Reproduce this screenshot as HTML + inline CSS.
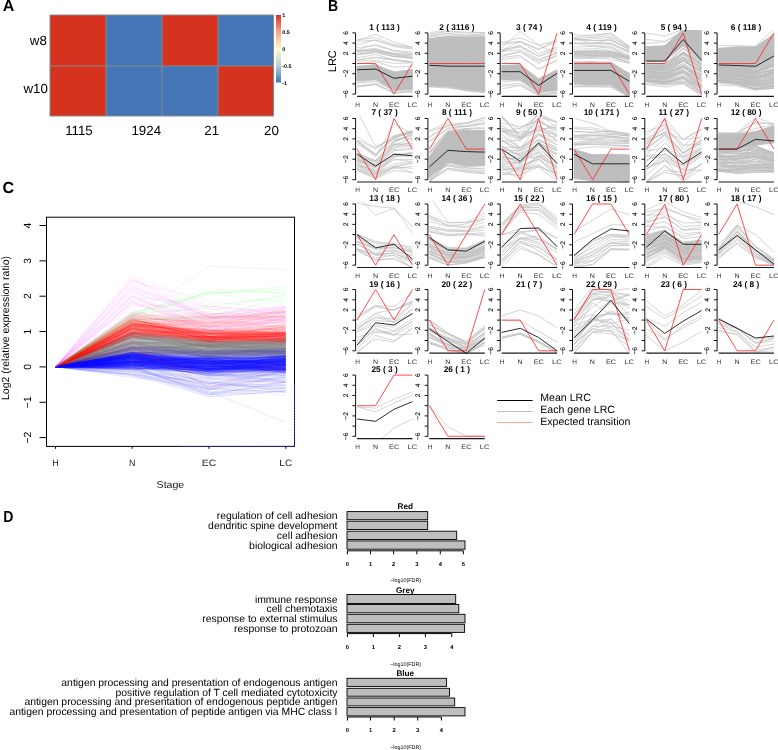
<!DOCTYPE html>
<html><head><meta charset="utf-8"><style>
html,body{margin:0;padding:0;background:#fff;}
svg{display:block;font-family:"Liberation Sans",sans-serif;text-rendering:geometricPrecision;will-change:transform;}
</style></head><body>
<svg width="778" height="750" viewBox="0 0 778 750">
<text x="2.80" y="11.10" font-size="16" font-weight="bold">A</text>
<rect x="50" y="15" width="56" height="51" fill="#d5321f"/>
<rect x="106" y="15" width="56" height="51" fill="#4475b6"/>
<rect x="162" y="15" width="56" height="51" fill="#d5321f"/>
<rect x="218" y="15" width="55.5" height="51" fill="#4475b6"/>
<rect x="50" y="66" width="56" height="50" fill="#d5321f"/>
<rect x="106" y="66" width="56" height="50" fill="#4475b6"/>
<rect x="162" y="66" width="56" height="50" fill="#4475b6"/>
<rect x="218" y="66" width="55.5" height="50" fill="#d5321f"/>
<path d="M50.00 15.00L50.00 116.00" stroke="#8a8a8a" stroke-width="1"/>
<path d="M106.00 15.00L106.00 116.00" stroke="#8a8a8a" stroke-width="1"/>
<path d="M162.00 15.00L162.00 116.00" stroke="#8a8a8a" stroke-width="1"/>
<path d="M218.00 15.00L218.00 116.00" stroke="#8a8a8a" stroke-width="1"/>
<path d="M273.50 15.00L273.50 116.00" stroke="#8a8a8a" stroke-width="1"/>
<path d="M50.00 15.00L273.50 15.00" stroke="#8a8a8a" stroke-width="1"/>
<path d="M50.00 66.00L273.50 66.00" stroke="#8a8a8a" stroke-width="1"/>
<path d="M50.00 116.00L273.50 116.00" stroke="#8a8a8a" stroke-width="1"/>
<defs><linearGradient id="cb" x1="0" y1="0" x2="0" y2="1"><stop offset="0" stop-color="#d73027"/><stop offset="0.25" stop-color="#f6a58a"/><stop offset="0.5" stop-color="#fdfbd0"/><stop offset="0.75" stop-color="#b5d3d8"/><stop offset="1" stop-color="#4575b4"/></linearGradient></defs>
<rect x="276" y="15" width="5" height="67.5" fill="url(#cb)"/>
<text x="282.30" y="16.80" font-size="5.4" font-weight="bold">1</text>
<text x="282.30" y="33.80" font-size="5.4" font-weight="bold">0.5</text>
<text x="282.30" y="50.80" font-size="5.4" font-weight="bold">0</text>
<text x="282.30" y="67.80" font-size="5.4" font-weight="bold">-0.5</text>
<text x="282.30" y="84.80" font-size="5.4" font-weight="bold">-1</text>
<text x="46.80" y="45.20" font-size="13.3" text-anchor="end">w8</text>
<text x="47.80" y="93.40" font-size="13.3" text-anchor="end">w10</text>
<text x="78.95" y="134.60" font-size="13.3" text-anchor="middle">1115</text>
<text x="146.25" y="134.60" font-size="13.3" text-anchor="middle">1924</text>
<text x="211.65" y="134.60" font-size="13.3" text-anchor="middle">21</text>
<text x="271.45" y="134.60" font-size="13.3" text-anchor="middle">20</text>
<text x="328.10" y="11.30" font-size="16" font-weight="bold" textLength="10.2" lengthAdjust="spacingAndGlyphs">B</text>
<text x="336.20" y="61.20" font-size="11" text-anchor="middle" transform="rotate(-90 336.2 61.2)">LRC</text>
<clipPath id="c1"><rect x="355.10" y="30.00" width="59.5" height="67"/></clipPath>
<g clip-path="url(#c1)" fill="none">
<path d="M357.1,66.6 375.6,64.5 394,72.2 412.5,69.6 412.5,89 394,90.5 375.6,79.3 357.1,80.8Z" fill="#bebebe" stroke="#bebebe" stroke-width="0.7"/>
<path d="M357.1,80.9 375.6,78 394,89.7 412.5,90M357.1,80.9 375.6,78.9 394,90.3 412.5,87.2M357.1,80.4 375.6,79.2 394,89.4 412.5,88M357.1,80.5 375.6,77.6 394,89.2 412.5,86M357.1,79.3 375.6,77.1 394,88.3 412.5,86.4M357.1,79.3 375.6,78.3 394,86.4 412.5,86.6M357.1,79.2 375.6,76.5 394,86.9 412.5,85.6M357.1,78.6 375.6,76.4 394,84.6 412.5,84.5M357.1,78.1 375.6,76.2 394,85.1 412.5,84.2M357.1,76.4 375.6,74.4 394,85.2 412.5,84.6M357.1,77.2 375.6,74.4 394,83.4 412.5,83.1M357.1,76 375.6,75 394,82.8 412.5,81.5M357.1,76.6 375.6,72.2 394,81.7 412.5,82.9M357.1,75.3 375.6,74.5 394,81.7 412.5,82.4M357.1,73.8 375.6,71.3 394,81.8 412.5,82.2M357.1,73.4 375.6,72.2 394,78.8 412.5,79.6M357.1,72.3 375.6,71 394,80.6 412.5,79.3M357.1,73.1 375.6,69.6 394,77.8 412.5,76.5M357.1,72.1 375.6,70 394,76.8 412.5,77.3M357.1,70.7 375.6,69.1 394,78.1 412.5,76.3M357.1,70.4 375.6,69.8 394,79 412.5,76.1M357.1,70.8 375.6,67.6 394,78.1 412.5,75.3M357.1,69.5 375.6,68.4 394,77.1 412.5,76.1M357.1,69 375.6,67.4 394,75 412.5,73.1M357.1,69.6 375.6,66.6 394,76.4 412.5,72.3M357.1,68.6 375.6,67.1 394,74.7 412.5,72.8M357.1,68.8 375.6,66.3 394,74.4 412.5,72.9M357.1,68.3 375.6,65.2 394,73.1 412.5,70.3M357.1,66 375.6,65.1 394,73.8 412.5,69.4M357.1,66.9 375.6,66.3 394,71.5 412.5,70.3M357.1,86.9 375.6,84.5 394,93.3 412.5,91.2M357.1,87.1 375.6,84.3 394,92.6 412.5,92M357.1,85.9 375.6,83.6 394,92.5 412.5,91.1M357.1,82.9 375.6,81.6 394,90.6 412.5,89.6M357.1,82.6 375.6,80 394,90 412.5,88.6M357.1,80.3 375.6,78.8 394,89.1 412.5,88M357.1,60.1 375.6,57 394,59.4 412.5,61.8M357.1,57.8 375.6,54.5 394,60 412.5,62.4M357.1,54.9 375.6,51 394,56.3 412.5,58.8M357.1,51 375.6,49.9 394,54.8 412.5,56.2M357.1,50.4 375.6,48.4 394,54.6 412.5,58.1M357.1,47.5 375.6,45.5 394,51.1 412.5,53.5M357.1,49.7 375.6,44.4 394,50.3 412.5,52.1M357.1,44.9 375.6,39.9 394,46.6 412.5,49.2M357.1,41.3 375.6,40.3 394,45.4 412.5,48.3M357.1,39.7 375.6,37.8 394,44.5 412.5,47.4M357.1,40.7 375.6,34.4 394,42.1 412.5,47.2M357.1,54.9 375.6,52.4 394,56.6 412.5,57.4M357.1,54.6 375.6,52.4 394,56.5 412.5,57.5M357.1,53 375.6,51 394,54.6 412.5,56.1M357.1,51.5 375.6,50 394,53.5 412.5,54.6M357.1,51.3 375.6,49.7 394,53.2 412.5,54.3M357.1,63.7 375.6,61.7 394,67.2 412.5,66.3M357.1,60.9 375.6,60.7 394,63.4 412.5,62.9M357.1,59.9 375.6,57.9 394,60.4 412.5,62.2" stroke="#bebebe" stroke-width="0.65"/>
<path d="M357.1,63.5 375.6,63.5 394,94.1 412.5,63.5" stroke="#f22" stroke-width="0.8"/>
<path d="M357.1,69.8 375.6,69.1 394,78.3 412.5,76.2" stroke="#222" stroke-width="0.95"/>
</g>
<path d="M355.6 32.9V94.1M352.4 94.1H355.6M352.4 83.9H355.6M352.4 73.7H355.6M352.4 63.5H355.6M352.4 53.3H355.6M352.4 43.1H355.6M352.4 32.9H355.6" stroke="#111" stroke-width="1" fill="none"/>
<text x="348.00" y="32.90" font-size="6.6" text-anchor="middle" transform="rotate(-90 348 32.9)" stroke="#000" stroke-width="0.1">6</text>
<text x="348.00" y="43.10" font-size="6.6" text-anchor="middle" transform="rotate(-90 348 43.1)" stroke="#000" stroke-width="0.1">4</text>
<text x="348.00" y="53.30" font-size="6.6" text-anchor="middle" transform="rotate(-90 348 53.3)" stroke="#000" stroke-width="0.1">2</text>
<text x="348.00" y="73.70" font-size="6.6" text-anchor="middle" transform="rotate(-90 348 73.7)" stroke="#000" stroke-width="0.1">−2</text>
<text x="348.00" y="94.10" font-size="6.6" text-anchor="middle" transform="rotate(-90 348 94.1)" stroke="#000" stroke-width="0.1">−6</text>
<path d="M357.10 96.40L412.45 96.40" stroke="#1a1a1a" stroke-width="1.15"/>
<text x="357.60" y="106.90" font-size="6.5" text-anchor="middle" fill="#333" textLength="4.7" lengthAdjust="spacingAndGlyphs">H</text>
<text x="375.50" y="106.90" font-size="6.5" text-anchor="middle" fill="#333" textLength="5.1" lengthAdjust="spacingAndGlyphs">N</text>
<text x="394.10" y="106.90" font-size="6.5" text-anchor="middle" fill="#333" textLength="10.1" lengthAdjust="spacingAndGlyphs">EC</text>
<text x="412.30" y="106.90" font-size="6.5" text-anchor="middle" fill="#333" textLength="9.6" lengthAdjust="spacingAndGlyphs">LC</text>
<text x="384.60" y="29.90" font-size="8.3" text-anchor="middle" font-weight="bold">1 ( 113 )</text>
<clipPath id="c2"><rect x="427.40" y="30.00" width="59.5" height="67"/></clipPath>
<g clip-path="url(#c2)" fill="none">
<path d="M429.4,38.5 447.9,36.5 466.3,37.5 484.8,36.5 484.8,91.5 466.3,89.5 447.9,85.9 429.4,85.4Z" fill="#bebebe" stroke="#bebebe" stroke-width="0.7"/>
<path d="M429.4,85.9 447.9,86.5 466.3,88.6 484.8,88.9M429.4,85.9 447.9,83.5 466.3,86.4 484.8,89.8M429.4,85.9 447.9,84.5 466.3,86.9 484.8,91.6M429.4,83.2 447.9,82.5 466.3,89.1 484.8,87.9M429.4,81.1 447.9,82.2 466.3,85.9 484.8,85.8M429.4,81.3 447.9,81.1 466.3,82.3 484.8,88.6M429.4,79.4 447.9,80.5 466.3,82.5 484.8,82.4M429.4,79.5 447.9,79.7 466.3,83.5 484.8,86.5M429.4,79.5 447.9,76.8 466.3,81.6 484.8,82.4M429.4,77 447.9,78.2 466.3,81.6 484.8,82.4M429.4,79.1 447.9,76.6 466.3,82.3 484.8,83.2M429.4,78.3 447.9,77.5 466.3,82.6 484.8,77.9M429.4,72.3 447.9,75.5 466.3,77.3 484.8,80.6M429.4,72.2 447.9,72.6 466.3,76.1 484.8,76.1M429.4,73 447.9,74.4 466.3,79.2 484.8,81.6M429.4,73.1 447.9,71.9 466.3,76.3 484.8,77.5M429.4,74.3 447.9,71.2 466.3,78 484.8,76.6M429.4,70.8 447.9,71 466.3,74.8 484.8,75.9M429.4,73.6 447.9,74.4 466.3,74.2 484.8,75.2M429.4,71.7 447.9,72.7 466.3,72.6 484.8,72.3M429.4,72.3 447.9,70.2 466.3,75.1 484.8,73.3M429.4,69.8 447.9,70.1 466.3,71.7 484.8,72.6M429.4,68.8 447.9,68.3 466.3,70.5 484.8,71.2M429.4,65.3 447.9,67.5 466.3,72.5 484.8,70.3M429.4,67.6 447.9,65.8 466.3,66.8 484.8,70.5M429.4,66.1 447.9,64.4 466.3,66.7 484.8,66.1M429.4,64.5 447.9,65.8 466.3,68.1 484.8,65.8M429.4,62.2 447.9,64 466.3,66.5 484.8,64.7M429.4,60.8 447.9,62.9 466.3,62.5 484.8,67.2M429.4,63.9 447.9,60.9 466.3,62 484.8,63.9M429.4,61.2 447.9,62.1 466.3,60.4 484.8,63.9M429.4,60.2 447.9,56.4 466.3,63 484.8,64.7M429.4,59.9 447.9,58.4 466.3,60.1 484.8,62.9M429.4,60 447.9,60.7 466.3,60.5 484.8,59.5M429.4,54.2 447.9,52.2 466.3,59.4 484.8,59.2M429.4,57.6 447.9,58.3 466.3,58.4 484.8,58.5M429.4,58.4 447.9,56.7 466.3,58.5 484.8,59.1M429.4,57.4 447.9,55.5 466.3,57.5 484.8,58.4M429.4,55.7 447.9,55.2 466.3,56.2 484.8,57.3M429.4,54.1 447.9,54.1 466.3,53.4 484.8,56.6M429.4,54.1 447.9,55.3 466.3,55.3 484.8,54.3M429.4,51 447.9,52.2 466.3,53.6 484.8,55.3M429.4,51.5 447.9,48.8 466.3,51.7 484.8,50.9M429.4,52.1 447.9,48.5 466.3,49.2 484.8,51.6M429.4,49.5 447.9,46.6 466.3,52.4 484.8,48.4M429.4,48.7 447.9,48.7 466.3,47.3 484.8,50.2M429.4,48 447.9,47.3 466.3,50.8 484.8,49.9M429.4,47.9 447.9,47.1 466.3,47.5 484.8,49.8M429.4,46.1 447.9,47.6 466.3,48.3 484.8,45M429.4,46.7 447.9,44.7 466.3,48.8 484.8,43.3M429.4,44.2 447.9,43.2 466.3,47 484.8,43.8M429.4,44.3 447.9,44 466.3,45.9 484.8,45.8M429.4,44 447.9,42.1 466.3,46.4 484.8,45.6M429.4,41.9 447.9,42.7 466.3,44.1 484.8,43.4M429.4,43.3 447.9,40.7 466.3,42.8 484.8,39.9M429.4,40.8 447.9,37.7 466.3,40 484.8,39.5M429.4,42.3 447.9,39.9 466.3,38.3 484.8,39.4M429.4,39.4 447.9,38.5 466.3,39 484.8,39.1M429.4,38.7 447.9,39.5 466.3,37.7 484.8,37.4M429.4,39.2 447.9,36.5 466.3,37 484.8,37.4M429.4,38.8 447.9,37 466.3,37.4 484.8,37M429.4,37 447.9,35.6 466.3,36.5 484.8,35M429.4,36 447.9,33.6 466.3,35 484.8,33.7M429.4,35 447.9,33.5 466.3,35.9 484.8,34.3M429.4,33.9 447.9,31.6 466.3,33.2 484.8,32.5M429.4,32.3 447.9,31 466.3,32.2 484.8,32.7M429.4,87 447.9,88 466.3,90.6 484.8,92.4M429.4,86.4 447.9,87.2 466.3,90.9 484.8,92.6M429.4,85.9 447.9,86.8 466.3,89.6 484.8,90.9M429.4,85.2 447.9,86.4 466.3,89.3 484.8,91.3M429.4,85.2 447.9,85.2 466.3,88.6 484.8,90.5M429.4,84.4 447.9,85.5 466.3,88.7 484.8,89.9" stroke="#bebebe" stroke-width="0.65"/>
<path d="M429.4,63.5 447.9,63.5 466.3,63.5 484.8,63.5" stroke="#f22" stroke-width="0.8"/>
<path d="M429.4,65.3 447.9,66.2 466.3,66.2 484.8,66.2" stroke="#222" stroke-width="0.95"/>
</g>
<path d="M427.9 32.9V94.1M424.7 94.1H427.9M424.7 83.9H427.9M424.7 73.7H427.9M424.7 63.5H427.9M424.7 53.3H427.9M424.7 43.1H427.9M424.7 32.9H427.9" stroke="#111" stroke-width="1" fill="none"/>
<text x="420.30" y="32.90" font-size="6.6" text-anchor="middle" transform="rotate(-90 420.3 32.9)" stroke="#000" stroke-width="0.1">6</text>
<text x="420.30" y="43.10" font-size="6.6" text-anchor="middle" transform="rotate(-90 420.3 43.1)" stroke="#000" stroke-width="0.1">4</text>
<text x="420.30" y="53.30" font-size="6.6" text-anchor="middle" transform="rotate(-90 420.3 53.3)" stroke="#000" stroke-width="0.1">2</text>
<text x="420.30" y="73.70" font-size="6.6" text-anchor="middle" transform="rotate(-90 420.3 73.7)" stroke="#000" stroke-width="0.1">−2</text>
<text x="420.30" y="94.10" font-size="6.6" text-anchor="middle" transform="rotate(-90 420.3 94.1)" stroke="#000" stroke-width="0.1">−6</text>
<path d="M429.40 96.40L484.75 96.40" stroke="#1a1a1a" stroke-width="1.15"/>
<text x="429.90" y="106.90" font-size="6.5" text-anchor="middle" fill="#333" textLength="4.7" lengthAdjust="spacingAndGlyphs">H</text>
<text x="447.80" y="106.90" font-size="6.5" text-anchor="middle" fill="#333" textLength="5.1" lengthAdjust="spacingAndGlyphs">N</text>
<text x="466.40" y="106.90" font-size="6.5" text-anchor="middle" fill="#333" textLength="10.1" lengthAdjust="spacingAndGlyphs">EC</text>
<text x="484.60" y="106.90" font-size="6.5" text-anchor="middle" fill="#333" textLength="9.6" lengthAdjust="spacingAndGlyphs">LC</text>
<text x="456.90" y="29.90" font-size="8.3" text-anchor="middle" font-weight="bold">2 ( 3116 )</text>
<clipPath id="c3"><rect x="499.70" y="30.00" width="59.5" height="67"/></clipPath>
<g clip-path="url(#c3)" fill="none">
<path d="M501.7,65.5 520.2,64.5 538.6,78.8 557.1,70.1 557.1,90.5 538.6,92.6 520.2,79.8 501.7,79.8Z" fill="#bebebe" stroke="#bebebe" stroke-width="0.7"/>
<path d="M501.7,79.8 520.2,80.3 538.6,91.3 557.1,91M501.7,79.8 520.2,79 538.6,92.9 557.1,88.2M501.7,77.5 520.2,76.2 538.6,90.7 557.1,88.3M501.7,77.8 520.2,76.3 538.6,88.8 557.1,87.5M501.7,75.9 520.2,73.3 538.6,88.4 557.1,83.4M501.7,76.2 520.2,75.5 538.6,88.4 557.1,85.6M501.7,73.8 520.2,73.5 538.6,84.3 557.1,82.3M501.7,70.9 520.2,71.9 538.6,84.6 557.1,81.3M501.7,71.5 520.2,71.1 538.6,84 557.1,79.3M501.7,69.8 520.2,70.4 538.6,83.7 557.1,75.9M501.7,67.9 520.2,70.7 538.6,81.2 557.1,76.6M501.7,67.9 520.2,66.1 538.6,80 557.1,74M501.7,67.4 520.2,66.1 538.6,80.7 557.1,73.4M501.7,66.3 520.2,65.4 538.6,79.8 557.1,70.3M501.7,65.4 520.2,66 538.6,79.3 557.1,69.6M501.7,88.9 520.2,85.6 538.6,95.4 557.1,95.6M501.7,86.3 520.2,84.9 538.6,94.8 557.1,93.9M501.7,85 520.2,83.1 538.6,94.5 557.1,93.1M501.7,82.1 520.2,80.6 538.6,93.6 557.1,92.1M501.7,59.9 520.2,57 538.6,68.5 557.1,60.7M501.7,57.5 520.2,55.4 538.6,69.6 557.1,60.1M501.7,56.4 520.2,51.7 538.6,63.4 557.1,54.8M501.7,55.3 520.2,51.6 538.6,61.6 557.1,56.7M501.7,51.4 520.2,49.8 538.6,60.3 557.1,53.2M501.7,51.3 520.2,46.8 538.6,59.4 557.1,52.6M501.7,50.6 520.2,45.3 538.6,56.6 557.1,49.8M501.7,49.7 520.2,46.2 538.6,56 557.1,47.6M501.7,50.2 520.2,41.3 538.6,53.5 557.1,47.1M501.7,42.9 520.2,41.5 538.6,48.9 557.1,41.8M501.7,44.6 520.2,41.8 538.6,49.8 557.1,39.1M501.7,42.3 520.2,37.9 538.6,45.1 557.1,40.9M501.7,48.2 520.2,31.4 538.6,45.1 557.1,53.3" stroke="#bebebe" stroke-width="0.65"/>
<path d="M501.7,63.5 520.2,63.5 538.6,94.1 557.1,32.9" stroke="#f22" stroke-width="0.8"/>
<path d="M501.7,71.7 520.2,71.7 538.6,85.4 557.1,73.2" stroke="#222" stroke-width="0.95"/>
</g>
<path d="M500.2 32.9V94.1M497.0 94.1H500.2M497.0 83.9H500.2M497.0 73.7H500.2M497.0 63.5H500.2M497.0 53.3H500.2M497.0 43.1H500.2M497.0 32.9H500.2" stroke="#111" stroke-width="1" fill="none"/>
<text x="492.60" y="32.90" font-size="6.6" text-anchor="middle" transform="rotate(-90 492.6 32.9)" stroke="#000" stroke-width="0.1">6</text>
<text x="492.60" y="43.10" font-size="6.6" text-anchor="middle" transform="rotate(-90 492.6 43.1)" stroke="#000" stroke-width="0.1">4</text>
<text x="492.60" y="53.30" font-size="6.6" text-anchor="middle" transform="rotate(-90 492.6 53.3)" stroke="#000" stroke-width="0.1">2</text>
<text x="492.60" y="73.70" font-size="6.6" text-anchor="middle" transform="rotate(-90 492.6 73.7)" stroke="#000" stroke-width="0.1">−2</text>
<text x="492.60" y="94.10" font-size="6.6" text-anchor="middle" transform="rotate(-90 492.6 94.1)" stroke="#000" stroke-width="0.1">−6</text>
<path d="M501.70 96.40L557.05 96.40" stroke="#1a1a1a" stroke-width="1.15"/>
<text x="502.20" y="106.90" font-size="6.5" text-anchor="middle" fill="#333" textLength="4.7" lengthAdjust="spacingAndGlyphs">H</text>
<text x="520.10" y="106.90" font-size="6.5" text-anchor="middle" fill="#333" textLength="5.1" lengthAdjust="spacingAndGlyphs">N</text>
<text x="538.70" y="106.90" font-size="6.5" text-anchor="middle" fill="#333" textLength="10.1" lengthAdjust="spacingAndGlyphs">EC</text>
<text x="556.90" y="106.90" font-size="6.5" text-anchor="middle" fill="#333" textLength="9.6" lengthAdjust="spacingAndGlyphs">LC</text>
<text x="529.20" y="29.90" font-size="8.3" text-anchor="middle" font-weight="bold">3 ( 74 )</text>
<clipPath id="c4"><rect x="572.00" y="30.00" width="59.5" height="67"/></clipPath>
<g clip-path="url(#c4)" fill="none">
<path d="M574,62 592.5,62 610.9,62 629.4,73.7 629.4,97.7 610.9,84.4 592.5,84.4 574,83.4Z" fill="#bebebe" stroke="#bebebe" stroke-width="0.7"/>
<path d="M574,83.9 592.5,84.8 610.9,83.8 629.4,97.3M574,82.7 592.5,83.1 610.9,82.3 629.4,97.5M574,81.7 592.5,82.1 610.9,83.4 629.4,95.9M574,79.7 592.5,80.3 610.9,80.5 629.4,93.4M574,78.3 592.5,79.7 610.9,79.4 629.4,94M574,77.7 592.5,78.7 610.9,77.2 629.4,91.8M574,78.2 592.5,77.7 610.9,75.9 629.4,88.8M574,75.5 592.5,74.3 610.9,76.3 629.4,87.1M574,73.8 592.5,72.7 610.9,75.1 629.4,87.2M574,74.1 592.5,74.1 610.9,73.2 629.4,86.4M574,69.6 592.5,72.5 610.9,71.8 629.4,84.3M574,70 592.5,72.8 610.9,69.6 629.4,83.7M574,70.5 592.5,70.5 610.9,69.2 629.4,82.9M574,68.4 592.5,68.5 610.9,71.3 629.4,81.9M574,67.7 592.5,67 610.9,67.3 629.4,80.2M574,66.8 592.5,67.5 610.9,67.5 629.4,78.8M574,64.6 592.5,64.9 610.9,66.5 629.4,76.2M574,63.1 592.5,64.5 610.9,63.2 629.4,75.2M574,64.2 592.5,62.6 610.9,64.1 629.4,74.5M574,62.4 592.5,61.5 610.9,64.1 629.4,73.2M574,86.9 592.5,86.7 610.9,87 629.4,97.1M574,86.5 592.5,86.7 610.9,86.7 629.4,96.7M574,84.9 592.5,85.7 610.9,85.8 629.4,94.6M574,84.1 592.5,85 610.9,85.1 629.4,94.2M574,59.2 592.5,57.4 610.9,59.4 629.4,63.4M574,57.6 592.5,58.5 610.9,57.3 629.4,62.6M574,54.1 592.5,56 610.9,55.5 629.4,59.4M574,54.7 592.5,54.3 610.9,52 629.4,58.3M574,51.9 592.5,55.9 610.9,53.4 629.4,58.1M574,53.3 592.5,52.8 610.9,55.2 629.4,57.2M574,52 592.5,50.8 610.9,51.4 629.4,56.8M574,51 592.5,50.9 610.9,48.6 629.4,56.9M574,49.3 592.5,48.8 610.9,46.6 629.4,58.1M574,47 592.5,46.4 610.9,47 629.4,54.9M574,43.1 592.5,46 610.9,44.4 629.4,53M574,43.9 592.5,43.7 610.9,43.3 629.4,51.3M574,43.1 592.5,42.5 610.9,43 629.4,51.8M574,37.7 592.5,44.3 610.9,38.5 629.4,50.7M574,38.4 592.5,40.6 610.9,39.9 629.4,48.3M574,39.6 592.5,40.7 610.9,40.4 629.4,49.2M574,40.1 592.5,39 610.9,37.4 629.4,47.1M574,38.2 592.5,37.5 610.9,35.4 629.4,48M574,37.3 592.5,34.6 610.9,33.5 629.4,47.3M574,34.6 592.5,36.4 610.9,33 629.4,46.2M574,57.1 592.5,56.8 610.9,56.2 629.4,62.9M574,56.3 592.5,56.9 610.9,56.2 629.4,62.5M574,55.6 592.5,55.2 610.9,55.6 629.4,62.6M574,54.7 592.5,55.4 610.9,54.6 629.4,60.5M574,53.2 592.5,53.7 610.9,54.2 629.4,59.3M574,53.6 592.5,54.3 610.9,53.6 629.4,59.2M574,52.8 592.5,52.7 610.9,52.3 629.4,57.3M574,51.9 592.5,52.4 610.9,52.5 629.4,57.9M574,51.3 592.5,51.6 610.9,50.9 629.4,56.2M574,51.6 592.5,51.2 610.9,51.2 629.4,56.1" stroke="#bebebe" stroke-width="0.65"/>
<path d="M574,63.5 592.5,63.5 610.9,63.5 629.4,94.1" stroke="#f22" stroke-width="0.8"/>
<path d="M574,70.4 592.5,70.4 610.9,70.4 629.4,81.3" stroke="#222" stroke-width="0.95"/>
</g>
<path d="M572.5 32.9V94.1M569.3 94.1H572.5M569.3 83.9H572.5M569.3 73.7H572.5M569.3 63.5H572.5M569.3 53.3H572.5M569.3 43.1H572.5M569.3 32.9H572.5" stroke="#111" stroke-width="1" fill="none"/>
<text x="564.90" y="32.90" font-size="6.6" text-anchor="middle" transform="rotate(-90 564.9 32.9)" stroke="#000" stroke-width="0.1">6</text>
<text x="564.90" y="43.10" font-size="6.6" text-anchor="middle" transform="rotate(-90 564.9 43.1)" stroke="#000" stroke-width="0.1">4</text>
<text x="564.90" y="53.30" font-size="6.6" text-anchor="middle" transform="rotate(-90 564.9 53.3)" stroke="#000" stroke-width="0.1">2</text>
<text x="564.90" y="73.70" font-size="6.6" text-anchor="middle" transform="rotate(-90 564.9 73.7)" stroke="#000" stroke-width="0.1">−2</text>
<text x="564.90" y="94.10" font-size="6.6" text-anchor="middle" transform="rotate(-90 564.9 94.1)" stroke="#000" stroke-width="0.1">−6</text>
<path d="M574.00 96.40L629.35 96.40" stroke="#1a1a1a" stroke-width="1.15"/>
<text x="574.50" y="106.90" font-size="6.5" text-anchor="middle" fill="#333" textLength="4.7" lengthAdjust="spacingAndGlyphs">H</text>
<text x="592.40" y="106.90" font-size="6.5" text-anchor="middle" fill="#333" textLength="5.1" lengthAdjust="spacingAndGlyphs">N</text>
<text x="611.00" y="106.90" font-size="6.5" text-anchor="middle" fill="#333" textLength="10.1" lengthAdjust="spacingAndGlyphs">EC</text>
<text x="629.20" y="106.90" font-size="6.5" text-anchor="middle" fill="#333" textLength="9.6" lengthAdjust="spacingAndGlyphs">LC</text>
<text x="601.50" y="29.90" font-size="8.3" text-anchor="middle" font-weight="bold">4 ( 119 )</text>
<clipPath id="c5"><rect x="644.30" y="30.00" width="59.5" height="67"/></clipPath>
<g clip-path="url(#c5)" fill="none">
<path d="M646.3,46.7 664.8,45.7 683.2,28.8 701.6,30.4 701.6,59.4 683.2,45.7 664.8,61 646.3,61.7Z" fill="#bebebe" stroke="#bebebe" stroke-width="0.7"/>
<path d="M646.3,61.8 664.8,61.5 683.2,46.2 701.6,60.4M646.3,60.4 664.8,59.7 683.2,42.8 701.6,57.4M646.3,60.7 664.8,59.1 683.2,43.4 701.6,57.9M646.3,57.5 664.8,57.3 683.2,41 701.6,52.4M646.3,57.6 664.8,58 683.2,39.9 701.6,52.3M646.3,55 664.8,55.2 683.2,40.4 701.6,47.4M646.3,55.1 664.8,53.6 683.2,38.2 701.6,46.3M646.3,52.8 664.8,53.1 683.2,38.5 701.6,46.2M646.3,53.3 664.8,52.3 683.2,35.9 701.6,42M646.3,52 664.8,51.2 683.2,34.4 701.6,43.2M646.3,51.5 664.8,50.5 683.2,33.2 701.6,38.6M646.3,49.7 664.8,48.5 683.2,32.6 701.6,36.3M646.3,49.6 664.8,46.1 683.2,30.7 701.6,35.6M646.3,49.3 664.8,47.2 683.2,30.6 701.6,33.4M646.3,46.7 664.8,46.2 683.2,29.8 701.6,30.4M646.3,81.8 664.8,83.9 683.2,81.9 701.6,92.9M646.3,81.3 664.8,83 683.2,78.8 701.6,93.1M646.3,80.3 664.8,82.8 683.2,77.5 701.6,91.9M646.3,80.3 664.8,82.1 683.2,78 701.6,93.1M646.3,81.3 664.8,83.4 683.2,79.8 701.6,92.7M646.3,80.7 664.8,82.6 683.2,81.6 701.6,88.2M646.3,81.4 664.8,83 683.2,78.1 701.6,88.7M646.3,79.1 664.8,81.6 683.2,77.3 701.6,89.7M646.3,80.5 664.8,81.6 683.2,78.1 701.6,87.5M646.3,78.9 664.8,81.1 683.2,78.2 701.6,92M646.3,79.2 664.8,82.5 683.2,77.3 701.6,86.8M646.3,81.2 664.8,79 683.2,76.1 701.6,88.2M646.3,77.8 664.8,79.8 683.2,75.4 701.6,86.3M646.3,78.3 664.8,79.1 683.2,73 701.6,88.2M646.3,80.1 664.8,80.8 683.2,76.3 701.6,86.6M646.3,77.7 664.8,79.8 683.2,71.4 701.6,85.6M646.3,78.1 664.8,79.2 683.2,72.9 701.6,87.1M646.3,77.6 664.8,78.2 683.2,73.4 701.6,85.4M646.3,77.1 664.8,77.7 683.2,69.5 701.6,84.6M646.3,77.8 664.8,78.2 683.2,72.1 701.6,85.1M646.3,74.4 664.8,78.3 683.2,69.7 701.6,84.8M646.3,75.9 664.8,78.5 683.2,71.5 701.6,84M646.3,76.6 664.8,77.5 683.2,71.4 701.6,85.5M646.3,76.4 664.8,76 683.2,70.2 701.6,79M646.3,75.6 664.8,78.3 683.2,71.4 701.6,81.4M646.3,74.1 664.8,77.7 683.2,67.6 701.6,79.8M646.3,76.4 664.8,76.2 683.2,70.2 701.6,81.2M646.3,75.5 664.8,75.7 683.2,66.5 701.6,82.3M646.3,71.6 664.8,75.7 683.2,67 701.6,78.5M646.3,74.6 664.8,76.1 683.2,66.2 701.6,78.2M646.3,73 664.8,74.7 683.2,67 701.6,80.5M646.3,74.6 664.8,76 683.2,66.5 701.6,80.8M646.3,73.6 664.8,76.5 683.2,66 701.6,76.3M646.3,74.6 664.8,74 683.2,63.4 701.6,75.3M646.3,72.1 664.8,73.4 683.2,66.2 701.6,78.1M646.3,71.7 664.8,72.8 683.2,65.2 701.6,74.9M646.3,72.7 664.8,75 683.2,65 701.6,74.9M646.3,73 664.8,73.6 683.2,67.8 701.6,75.5M646.3,70.7 664.8,72.8 683.2,63.6 701.6,78.1M646.3,71.3 664.8,72.9 683.2,61.1 701.6,73.9M646.3,71.1 664.8,73.7 683.2,59.4 701.6,76.2M646.3,71.7 664.8,73 683.2,60.5 701.6,71.5M646.3,71.7 664.8,73.1 683.2,61.1 701.6,71.1M646.3,69.7 664.8,71.3 683.2,60.6 701.6,72.3M646.3,71.8 664.8,70.7 683.2,59.5 701.6,70.6M646.3,70.6 664.8,71.3 683.2,60.6 701.6,70M646.3,69.3 664.8,70.2 683.2,58 701.6,73M646.3,70 664.8,69.5 683.2,59.7 701.6,71.1M646.3,70.5 664.8,68.4 683.2,56.6 701.6,69M646.3,69.3 664.8,71 683.2,56.8 701.6,69.3M646.3,67.3 664.8,69.2 683.2,58.4 701.6,67M646.3,68.9 664.8,67.9 683.2,57.6 701.6,68M646.3,68 664.8,68.2 683.2,57 701.6,67.8M646.3,68.6 664.8,69.3 683.2,54.4 701.6,68M646.3,66.4 664.8,69.3 683.2,54.4 701.6,65.8M646.3,67.9 664.8,69.3 683.2,54.2 701.6,67.5M646.3,66.9 664.8,68 683.2,53.2 701.6,69.4M646.3,66.6 664.8,67.5 683.2,53.1 701.6,64M646.3,67.6 664.8,67.9 683.2,51.9 701.6,65.6M646.3,67.1 664.8,66.3 683.2,52.8 701.6,64.7M646.3,64.8 664.8,67.3 683.2,52 701.6,65M646.3,65.7 664.8,66 683.2,51.9 701.6,65.2M646.3,66.5 664.8,66.1 683.2,52.4 701.6,60.4M646.3,64.8 664.8,66.8 683.2,52.4 701.6,62.3M646.3,65 664.8,65.4 683.2,52.2 701.6,63.1M646.3,65.9 664.8,66.1 683.2,48.6 701.6,60.4M646.3,66.8 664.8,64 683.2,53.3 701.6,62.1M646.3,66.5 664.8,64.8 683.2,48.3 701.6,60.4M646.3,64 664.8,64 683.2,48.5 701.6,60.4M646.3,64 664.8,64.6 683.2,48.6 701.6,62.8M646.3,84.4 664.8,87.1 683.2,83.9 701.6,95.6M646.3,83.8 664.8,85.1 683.2,83.2 701.6,95.1M646.3,82.2 664.8,84.6 683.2,82.5 701.6,94M646.3,43.6 664.8,41.7 683.2,31.4 701.6,35M646.3,39.4 664.8,41.5 683.2,31.1 701.6,35.8M646.3,33 664.8,36.1 683.2,29.4 701.6,33.4" stroke="#bebebe" stroke-width="0.65"/>
<path d="M646.3,63.5 664.8,63.5 683.2,32.9 701.6,94.1" stroke="#f22" stroke-width="0.8"/>
<path d="M646.3,61 664.8,61 683.2,39.5 701.6,60.4" stroke="#222" stroke-width="0.95"/>
</g>
<path d="M644.8 32.9V94.1M641.6 94.1H644.8M641.6 83.9H644.8M641.6 73.7H644.8M641.6 63.5H644.8M641.6 53.3H644.8M641.6 43.1H644.8M641.6 32.9H644.8" stroke="#111" stroke-width="1" fill="none"/>
<text x="637.20" y="32.90" font-size="6.6" text-anchor="middle" transform="rotate(-90 637.2 32.9)" stroke="#000" stroke-width="0.1">6</text>
<text x="637.20" y="43.10" font-size="6.6" text-anchor="middle" transform="rotate(-90 637.2 43.1)" stroke="#000" stroke-width="0.1">4</text>
<text x="637.20" y="53.30" font-size="6.6" text-anchor="middle" transform="rotate(-90 637.2 53.3)" stroke="#000" stroke-width="0.1">2</text>
<text x="637.20" y="73.70" font-size="6.6" text-anchor="middle" transform="rotate(-90 637.2 73.7)" stroke="#000" stroke-width="0.1">−2</text>
<text x="637.20" y="94.10" font-size="6.6" text-anchor="middle" transform="rotate(-90 637.2 94.1)" stroke="#000" stroke-width="0.1">−6</text>
<path d="M646.30 96.40L701.65 96.40" stroke="#1a1a1a" stroke-width="1.15"/>
<text x="646.80" y="106.90" font-size="6.5" text-anchor="middle" fill="#333" textLength="4.7" lengthAdjust="spacingAndGlyphs">H</text>
<text x="664.70" y="106.90" font-size="6.5" text-anchor="middle" fill="#333" textLength="5.1" lengthAdjust="spacingAndGlyphs">N</text>
<text x="683.30" y="106.90" font-size="6.5" text-anchor="middle" fill="#333" textLength="10.1" lengthAdjust="spacingAndGlyphs">EC</text>
<text x="701.50" y="106.90" font-size="6.5" text-anchor="middle" fill="#333" textLength="9.6" lengthAdjust="spacingAndGlyphs">LC</text>
<text x="673.80" y="29.90" font-size="8.3" text-anchor="middle" font-weight="bold">5 ( 94 )</text>
<clipPath id="c6"><rect x="716.60" y="30.00" width="59.5" height="67"/></clipPath>
<g clip-path="url(#c6)" fill="none">
<path d="M718.6,48.2 737.1,46.7 755.5,46.7 774,33.9 774,56.4 755.5,64 737.1,63 718.6,62.5Z" fill="#bebebe" stroke="#bebebe" stroke-width="0.7"/>
<path d="M718.6,61.4 737.1,62.3 755.5,63.8 774,56.1M718.6,60.8 737.1,60.5 755.5,62.8 774,54.7M718.6,60.4 737.1,60.2 755.5,61.7 774,51.9M718.6,58.6 737.1,58.7 755.5,59.5 774,51.9M718.6,59.5 737.1,58.3 755.5,60 774,49M718.6,57.1 737.1,58.2 755.5,57.4 774,48.3M718.6,56 737.1,55.2 755.5,56.2 774,45.7M718.6,55.6 737.1,56.9 755.5,56.7 774,43.7M718.6,54.7 737.1,52.8 755.5,53.1 774,43.9M718.6,53.3 737.1,52.4 755.5,52.3 774,42.7M718.6,52.7 737.1,51.6 755.5,51.5 774,39.8M718.6,52.5 737.1,50.6 755.5,49.7 774,37.8M718.6,50.3 737.1,50.6 755.5,47 774,37.7M718.6,49.8 737.1,47.5 755.5,48.3 774,34.7M718.6,49.5 737.1,48 755.5,47.9 774,34.3M718.6,81.9 737.1,83.4 755.5,89 774,85.4M718.6,81.9 737.1,83.9 755.5,89 774,87.5M718.6,81.2 737.1,83.4 755.5,85.9 774,86.1M718.6,80.5 737.1,82.8 755.5,88.4 774,86.2M718.6,80.5 737.1,81.5 755.5,86.5 774,85.2M718.6,79.8 737.1,82 755.5,89 774,85.5M718.6,81 737.1,83.9 755.5,89 774,86M718.6,80.3 737.1,83.9 755.5,88 774,86.5M718.6,80.2 737.1,81.5 755.5,85.5 774,86.5M718.6,79.4 737.1,82.4 755.5,85.4 774,83.9M718.6,81.3 737.1,81.5 755.5,83.8 774,85.1M718.6,78.7 737.1,82 755.5,85.5 774,85.1M718.6,80.5 737.1,81.7 755.5,87.2 774,85.3M718.6,79.9 737.1,82.4 755.5,84.1 774,82.4M718.6,79.7 737.1,80.7 755.5,84.1 774,82.3M718.6,80.5 737.1,79.2 755.5,84.7 774,82.1M718.6,81.1 737.1,82.3 755.5,84.2 774,82.9M718.6,78.2 737.1,79.7 755.5,83.7 774,83.1M718.6,79 737.1,79 755.5,82.7 774,83.5M718.6,77.1 737.1,79.8 755.5,81.9 774,82.3M718.6,78.2 737.1,78.4 755.5,86.5 774,81M718.6,77 737.1,81 755.5,85.8 774,81.5M718.6,76.2 737.1,76.4 755.5,84.5 774,80.2M718.6,79.2 737.1,78.8 755.5,82.9 774,78.9M718.6,77.3 737.1,78.4 755.5,82.9 774,79.7M718.6,77.3 737.1,78.7 755.5,81 774,79.8M718.6,77.8 737.1,79.5 755.5,82.3 774,79.6M718.6,76.7 737.1,77.6 755.5,82.9 774,76.9M718.6,77 737.1,78.3 755.5,80.1 774,80.8M718.6,76.4 737.1,78.3 755.5,80.5 774,78.1M718.6,75.9 737.1,75.8 755.5,80.2 774,77.2M718.6,75.3 737.1,78.3 755.5,82 774,79.1M718.6,74.3 737.1,75.6 755.5,81.8 774,76.1M718.6,75.4 737.1,76.4 755.5,78.8 774,73.9M718.6,75.3 737.1,75.5 755.5,78.2 774,76.1M718.6,75 737.1,76.6 755.5,79.4 774,74M718.6,72.9 737.1,76.1 755.5,80.3 774,71.8M718.6,74 737.1,75.6 755.5,77.9 774,74.6M718.6,76 737.1,75.2 755.5,79.8 774,74.8M718.6,75.2 737.1,74.4 755.5,80 774,72.3M718.6,74.3 737.1,74.7 755.5,78.9 774,73M718.6,73.4 737.1,74.9 755.5,77.8 774,75.6M718.6,75.2 737.1,76.6 755.5,77.2 774,78.3M718.6,73.4 737.1,74.6 755.5,76.3 774,71.8M718.6,74.3 737.1,76.4 755.5,79.6 774,73M718.6,73 737.1,73.3 755.5,78.4 774,71.5M718.6,73.5 737.1,74 755.5,77.3 774,73.8M718.6,72 737.1,74.8 755.5,76.8 774,71.9M718.6,71.2 737.1,75.4 755.5,75.7 774,72.4M718.6,71.6 737.1,74 755.5,77.2 774,72.1M718.6,70.8 737.1,73.8 755.5,75 774,69.1M718.6,72.2 737.1,73.3 755.5,77.1 774,73.4M718.6,72.2 737.1,72.5 755.5,73.9 774,69M718.6,70.3 737.1,72 755.5,76.6 774,70.8M718.6,70.9 737.1,72.3 755.5,75.6 774,72M718.6,69.4 737.1,71.4 755.5,74.9 774,68.5M718.6,69.9 737.1,71.3 755.5,73.4 774,67.1M718.6,70 737.1,72.5 755.5,73.8 774,70.4M718.6,71.2 737.1,72.1 755.5,74 774,70.9M718.6,71 737.1,69.2 755.5,73.8 774,70.1M718.6,70 737.1,70.4 755.5,73.2 774,69.6M718.6,68.5 737.1,72.7 755.5,74.3 774,69.8M718.6,69.9 737.1,71.4 755.5,72.8 774,65.6M718.6,68.7 737.1,69.7 755.5,72.4 774,66M718.6,68.8 737.1,71.3 755.5,71.6 774,65M718.6,68 737.1,69.6 755.5,71.6 774,65.2M718.6,67.3 737.1,69.5 755.5,71.7 774,65.2M718.6,68.5 737.1,69.5 755.5,71 774,64.2M718.6,67.6 737.1,68.5 755.5,71.5 774,66M718.6,70.2 737.1,69.4 755.5,73 774,65.7M718.6,68.7 737.1,67.8 755.5,71.8 774,66.1M718.6,67.2 737.1,68.8 755.5,71.5 774,64.8M718.6,67.9 737.1,68.3 755.5,70.9 774,63.5M718.6,66.1 737.1,66.7 755.5,70.7 774,64.3M718.6,67.1 737.1,67.8 755.5,69.6 774,62.2M718.6,68.5 737.1,67.4 755.5,71.6 774,63M718.6,67.3 737.1,66.1 755.5,70.5 774,64M718.6,65.1 737.1,67.7 755.5,68.5 774,63.2M718.6,64.8 737.1,66 755.5,69.6 774,61.5M718.6,64.8 737.1,66.8 755.5,68.2 774,60.2M718.6,67 737.1,66.8 755.5,67.2 774,63.8M718.6,64.3 737.1,65.8 755.5,67.4 774,59.2M718.6,66.5 737.1,66.3 755.5,68.9 774,61M718.6,65.7 737.1,65.5 755.5,64.5 774,59.9M718.6,65.8 737.1,65.9 755.5,66.7 774,57.8M718.6,65 737.1,66.4 755.5,65.9 774,62.5M718.6,66.6 737.1,66.4 755.5,67.8 774,58.1M718.6,66.2 737.1,64.8 755.5,64.5 774,57.9M718.6,64.3 737.1,64.3 755.5,67.7 774,60.2M718.6,63 737.1,65.4 755.5,66.2 774,57.8M718.6,63 737.1,64 755.5,66.8 774,56.9M718.6,64.7 737.1,63.5 755.5,65.7 774,59M718.6,63.1 737.1,64.7 755.5,66.2 774,56.9M718.6,63.1 737.1,66.1 755.5,65.2 774,56.9M718.6,63.8 737.1,63.5 755.5,65.2 774,59.7M718.6,84.8 737.1,86 755.5,90.3 774,88.5M718.6,82.7 737.1,84.8 755.5,89.5 774,88.1M718.6,82.4 737.1,84.2 755.5,89.3 774,87.8M718.6,45.7 737.1,45.7 755.5,46.2 774,28.8" stroke="#bebebe" stroke-width="0.65"/>
<path d="M718.6,63.5 737.1,63.5 755.5,63.5 774,32.9" stroke="#f22" stroke-width="0.8"/>
<path d="M718.6,65 737.1,65.5 755.5,66.3 774,55.9" stroke="#222" stroke-width="0.95"/>
</g>
<path d="M717.1 32.9V94.1M713.9 94.1H717.1M713.9 83.9H717.1M713.9 73.7H717.1M713.9 63.5H717.1M713.9 53.3H717.1M713.9 43.1H717.1M713.9 32.9H717.1" stroke="#111" stroke-width="1" fill="none"/>
<text x="709.50" y="32.90" font-size="6.6" text-anchor="middle" transform="rotate(-90 709.5 32.9)" stroke="#000" stroke-width="0.1">6</text>
<text x="709.50" y="43.10" font-size="6.6" text-anchor="middle" transform="rotate(-90 709.5 43.1)" stroke="#000" stroke-width="0.1">4</text>
<text x="709.50" y="53.30" font-size="6.6" text-anchor="middle" transform="rotate(-90 709.5 53.3)" stroke="#000" stroke-width="0.1">2</text>
<text x="709.50" y="73.70" font-size="6.6" text-anchor="middle" transform="rotate(-90 709.5 73.7)" stroke="#000" stroke-width="0.1">−2</text>
<text x="709.50" y="94.10" font-size="6.6" text-anchor="middle" transform="rotate(-90 709.5 94.1)" stroke="#000" stroke-width="0.1">−6</text>
<path d="M718.60 96.40L773.95 96.40" stroke="#1a1a1a" stroke-width="1.15"/>
<text x="719.10" y="106.90" font-size="6.5" text-anchor="middle" fill="#333" textLength="4.7" lengthAdjust="spacingAndGlyphs">H</text>
<text x="737.00" y="106.90" font-size="6.5" text-anchor="middle" fill="#333" textLength="5.1" lengthAdjust="spacingAndGlyphs">N</text>
<text x="755.60" y="106.90" font-size="6.5" text-anchor="middle" fill="#333" textLength="10.1" lengthAdjust="spacingAndGlyphs">EC</text>
<text x="773.80" y="106.90" font-size="6.5" text-anchor="middle" fill="#333" textLength="9.6" lengthAdjust="spacingAndGlyphs">LC</text>
<text x="746.10" y="29.90" font-size="8.3" text-anchor="middle" font-weight="bold">6 ( 118 )</text>
<clipPath id="c7"><rect x="355.10" y="115.55" width="59.5" height="67"/></clipPath>
<g clip-path="url(#c7)" fill="none">
<path d="M357.1,170.5 375.6,178.6 394,170.5 412.5,172.5M357.1,168.6 375.6,178.6 394,166.6 412.5,172.5M357.1,170.5 375.6,176.7 394,168.3 412.5,166.4M357.1,168.6 375.6,176.4 394,166.8 412.5,168.4M357.1,168.8 375.6,174.7 394,167.2 412.5,163.1M357.1,165.3 375.6,173.6 394,166.1 412.5,163.2M357.1,166.9 375.6,174.7 394,158.9 412.5,161.8M357.1,165.5 375.6,173.4 394,163.9 412.5,161.8M357.1,163.4 375.6,171.8 394,156.8 412.5,153.7M357.1,162.9 375.6,173 394,157.1 412.5,152M357.1,165.3 375.6,170.1 394,153.8 412.5,153M357.1,159.9 375.6,170 394,159.8 412.5,159.6M357.1,163 375.6,171.7 394,155.1 412.5,157.1M357.1,161.2 375.6,167.7 394,156 412.5,153.3M357.1,161.3 375.6,168 394,150.5 412.5,149.6M357.1,159.9 375.6,166.7 394,143.8 412.5,144M357.1,159.1 375.6,166.7 394,149.6 412.5,148.3M357.1,160.1 375.6,164.9 394,144.4 412.5,146.5M357.1,158.2 375.6,165.8 394,147.9 412.5,145.4M357.1,156.8 375.6,161.6 394,147.8 412.5,140.4M357.1,157.6 375.6,163.9 394,145.3 412.5,143.4M357.1,156 375.6,165.4 394,145.4 412.5,137.6M357.1,152.9 375.6,162.1 394,141.1 412.5,135.9M357.1,154.8 375.6,162.2 394,142.9 412.5,132.7M357.1,153.2 375.6,160.7 394,141.6 412.5,134.2M357.1,154.3 375.6,160.5 394,140.4 412.5,134.8M357.1,143.5 375.6,155.9 394,138.3 412.5,132.3M357.1,140.3 375.6,154.6 394,137.3 412.5,132M357.1,141.2 375.6,154.9 394,137.2 412.5,132.2M357.1,141.3 375.6,154.1 394,136.9 412.5,131.3M357.1,139.7 375.6,148.8 394,136.2 412.5,131.1M357.1,136.7 375.6,148.3 394,135.8 412.5,130.6M357.1,110.8 375.6,146.5 394,138.9 412.5,138.9M357.1,141.4 375.6,156.7 394,124.1 412.5,133.8" stroke="#bebebe" stroke-width="0.65"/>
<path d="M357.1,149.1 375.6,179.7 394,118.5 412.5,149.1" stroke="#f22" stroke-width="0.8"/>
<path d="M357.1,154.2 375.6,166.1 394,154.2 412.5,155.7" stroke="#222" stroke-width="0.95"/>
</g>
<path d="M355.6 118.5V179.7M352.4 179.7H355.6M352.4 169.5H355.6M352.4 159.2H355.6M352.4 149.1H355.6M352.4 138.9H355.6M352.4 128.7H355.6M352.4 118.5H355.6" stroke="#111" stroke-width="1" fill="none"/>
<text x="348.00" y="118.45" font-size="6.6" text-anchor="middle" transform="rotate(-90 348 118.5)" stroke="#000" stroke-width="0.1">6</text>
<text x="348.00" y="128.65" font-size="6.6" text-anchor="middle" transform="rotate(-90 348 128.7)" stroke="#000" stroke-width="0.1">4</text>
<text x="348.00" y="138.85" font-size="6.6" text-anchor="middle" transform="rotate(-90 348 138.9)" stroke="#000" stroke-width="0.1">2</text>
<text x="348.00" y="159.25" font-size="6.6" text-anchor="middle" transform="rotate(-90 348 159.2)" stroke="#000" stroke-width="0.1">−2</text>
<text x="348.00" y="179.65" font-size="6.6" text-anchor="middle" transform="rotate(-90 348 179.7)" stroke="#000" stroke-width="0.1">−6</text>
<path d="M357.10 181.95L412.45 181.95" stroke="#1a1a1a" stroke-width="1.15"/>
<text x="357.60" y="192.45" font-size="6.5" text-anchor="middle" fill="#333" textLength="4.7" lengthAdjust="spacingAndGlyphs">H</text>
<text x="375.50" y="192.45" font-size="6.5" text-anchor="middle" fill="#333" textLength="5.1" lengthAdjust="spacingAndGlyphs">N</text>
<text x="394.10" y="192.45" font-size="6.5" text-anchor="middle" fill="#333" textLength="10.1" lengthAdjust="spacingAndGlyphs">EC</text>
<text x="412.30" y="192.45" font-size="6.5" text-anchor="middle" fill="#333" textLength="9.6" lengthAdjust="spacingAndGlyphs">LC</text>
<text x="384.60" y="115.45" font-size="8.3" text-anchor="middle" font-weight="bold">7 ( 37 )</text>
<clipPath id="c8"><rect x="427.40" y="115.55" width="59.5" height="67"/></clipPath>
<g clip-path="url(#c8)" fill="none">
<path d="M429.4,156.7 447.9,132.2 466.3,130.2 484.8,130.2 484.8,165.9 466.3,165.9 447.9,162.3 429.4,177.1Z" fill="#bebebe" stroke="#bebebe" stroke-width="0.7"/>
<path d="M429.4,182.2 447.9,163.3 466.3,166.9 484.8,165M429.4,182.2 447.9,161 466.3,165.8 484.8,163.5M429.4,179.7 447.9,161.3 466.3,164.5 484.8,165.1M429.4,179.1 447.9,161.5 466.3,164.6 484.8,161.9M429.4,182.2 447.9,162.7 466.3,160.5 484.8,162.8M429.4,178.7 447.9,161.2 466.3,166.4 484.8,162.2M429.4,177.1 447.9,160.3 466.3,159.8 484.8,161.1M429.4,176.7 447.9,159.9 466.3,156.4 484.8,162.8M429.4,175.7 447.9,157.6 466.3,161.7 484.8,159.9M429.4,174.4 447.9,155 466.3,160 484.8,158.3M429.4,176.3 447.9,157.4 466.3,155.7 484.8,158M429.4,175.8 447.9,154.6 466.3,157 484.8,157.8M429.4,173.2 447.9,156.9 466.3,159.5 484.8,158.7M429.4,173.8 447.9,154.4 466.3,154.2 484.8,157.3M429.4,173 447.9,151.3 466.3,151.3 484.8,155M429.4,172.6 447.9,151.9 466.3,153.8 484.8,153.1M429.4,170.8 447.9,152.3 466.3,150 484.8,151.5M429.4,170.5 447.9,151.6 466.3,152.1 484.8,146M429.4,170.3 447.9,150.6 466.3,151.1 484.8,151.3M429.4,169.7 447.9,150 466.3,152.6 484.8,152.6M429.4,168.5 447.9,149.2 466.3,154.4 484.8,149.1M429.4,168.7 447.9,149 466.3,146.7 484.8,148.7M429.4,165.4 447.9,147.6 466.3,145.4 484.8,150.2M429.4,166.9 447.9,145.9 466.3,144.7 484.8,145M429.4,166 447.9,144.5 466.3,147.1 484.8,148.3M429.4,165.2 447.9,143.3 466.3,145.5 484.8,147M429.4,163.8 447.9,142.8 466.3,141.2 484.8,144M429.4,162.8 447.9,142.2 466.3,143.8 484.8,140M429.4,161.8 447.9,143.1 466.3,140.9 484.8,142.2M429.4,161.2 447.9,144.6 466.3,142.5 484.8,141M429.4,160.1 447.9,143.5 466.3,142.1 484.8,140.5M429.4,157.4 447.9,142 466.3,143.8 484.8,145.4M429.4,158.3 447.9,142.8 466.3,138.5 484.8,134.7M429.4,157.2 447.9,138.7 466.3,136.2 484.8,140.7M429.4,159.7 447.9,139 466.3,140.6 484.8,138.5M429.4,159.4 447.9,138.5 466.3,135.5 484.8,138.2M429.4,156.6 447.9,136.4 466.3,135.8 484.8,135.6M429.4,156.9 447.9,136.3 466.3,136.9 484.8,137.3M429.4,158.6 447.9,135.8 466.3,131.9 484.8,136.4M429.4,153.7 447.9,137.6 466.3,133 484.8,133.5M429.4,156 447.9,135.1 466.3,131.8 484.8,134.2M429.4,151.9 447.9,134.2 466.3,130.5 484.8,131.1M429.4,153.4 447.9,134.1 466.3,132.7 484.8,131.8M429.4,152.2 447.9,132.2 466.3,129.2 484.8,133.7M429.4,153.3 447.9,131.9 466.3,130.7 484.8,131.6M429.4,180.7 447.9,169.8 466.3,172.3 484.8,173.8M429.4,180.6 447.9,168.2 466.3,171.6 484.8,173M429.4,179.8 447.9,168.1 466.3,170.6 484.8,172.3M429.4,175 447.9,165.5 466.3,169.5 484.8,170.8M429.4,171.3 447.9,164.6 466.3,167.8 484.8,169.2M429.4,169.6 447.9,166.1 466.3,168 484.8,168.2M429.4,151.6 447.9,131.2 466.3,128.8 484.8,126.8M429.4,148.6 447.9,131 466.3,128.4 484.8,128.5M429.4,141.6 447.9,129.1 466.3,126.5 484.8,124M429.4,141.5 447.9,128 466.3,125.8 484.8,122M429.4,137.7 447.9,125.5 466.3,126.3 484.8,123.5M429.4,136.3 447.9,125.3 466.3,123.8 484.8,119.7M429.4,130.3 447.9,123.2 466.3,123 484.8,117.7M429.4,131.3 447.9,125.7 466.3,122.9 484.8,117.5" stroke="#bebebe" stroke-width="0.65"/>
<path d="M429.4,149.1 447.9,118.5 466.3,149.1 484.8,149.1" stroke="#f22" stroke-width="0.8"/>
<path d="M429.4,166.9 447.9,150.3 466.3,151.6 484.8,152.1" stroke="#222" stroke-width="0.95"/>
</g>
<path d="M427.9 118.5V179.7M424.7 179.7H427.9M424.7 169.5H427.9M424.7 159.2H427.9M424.7 149.1H427.9M424.7 138.9H427.9M424.7 128.7H427.9M424.7 118.5H427.9" stroke="#111" stroke-width="1" fill="none"/>
<text x="420.30" y="118.45" font-size="6.6" text-anchor="middle" transform="rotate(-90 420.3 118.5)" stroke="#000" stroke-width="0.1">6</text>
<text x="420.30" y="128.65" font-size="6.6" text-anchor="middle" transform="rotate(-90 420.3 128.7)" stroke="#000" stroke-width="0.1">4</text>
<text x="420.30" y="138.85" font-size="6.6" text-anchor="middle" transform="rotate(-90 420.3 138.9)" stroke="#000" stroke-width="0.1">2</text>
<text x="420.30" y="159.25" font-size="6.6" text-anchor="middle" transform="rotate(-90 420.3 159.2)" stroke="#000" stroke-width="0.1">−2</text>
<text x="420.30" y="179.65" font-size="6.6" text-anchor="middle" transform="rotate(-90 420.3 179.7)" stroke="#000" stroke-width="0.1">−6</text>
<path d="M429.40 181.95L484.75 181.95" stroke="#1a1a1a" stroke-width="1.15"/>
<text x="429.90" y="192.45" font-size="6.5" text-anchor="middle" fill="#333" textLength="4.7" lengthAdjust="spacingAndGlyphs">H</text>
<text x="447.80" y="192.45" font-size="6.5" text-anchor="middle" fill="#333" textLength="5.1" lengthAdjust="spacingAndGlyphs">N</text>
<text x="466.40" y="192.45" font-size="6.5" text-anchor="middle" fill="#333" textLength="10.1" lengthAdjust="spacingAndGlyphs">EC</text>
<text x="484.60" y="192.45" font-size="6.5" text-anchor="middle" fill="#333" textLength="9.6" lengthAdjust="spacingAndGlyphs">LC</text>
<text x="456.90" y="115.45" font-size="8.3" text-anchor="middle" font-weight="bold">8 ( 111 )</text>
<clipPath id="c9"><rect x="499.70" y="115.55" width="59.5" height="67"/></clipPath>
<g clip-path="url(#c9)" fill="none">
<path d="M501.7,174.6 520.2,174.7 538.6,166.6 557.1,173.8M501.7,174.6 520.2,168.8 538.6,167.4 557.1,180.8M501.7,167.7 520.2,179.7 538.6,158.9 557.1,176.2M501.7,169.4 520.2,168.3 538.6,164.7 557.1,178M501.7,172.2 520.2,175.9 538.6,155.2 557.1,168M501.7,165.3 520.2,167.6 538.6,158.9 557.1,172.3M501.7,166 520.2,171 538.6,165.8 557.1,174.1M501.7,167.3 520.2,172.9 538.6,155.1 557.1,172.6M501.7,164.2 520.2,162.7 538.6,152.2 557.1,170.7M501.7,163.2 520.2,165.5 538.6,159.4 557.1,174.5M501.7,170.9 520.2,167.5 538.6,157 557.1,166.3M501.7,157.2 520.2,171.4 538.6,153 557.1,166.6M501.7,161.5 520.2,162.6 538.6,151.2 557.1,169.3M501.7,160.8 520.2,163.2 538.6,144.6 557.1,162.4M501.7,157.4 520.2,158.6 538.6,156.9 557.1,153.9M501.7,153.3 520.2,164.6 538.6,144.8 557.1,168.2M501.7,155.7 520.2,161.7 538.6,141.7 557.1,160M501.7,159.4 520.2,158.4 538.6,147.6 557.1,154.1M501.7,157 520.2,161.5 538.6,149.4 557.1,163.3M501.7,153.9 520.2,157.5 538.6,145.5 557.1,153.4M501.7,145.9 520.2,154.8 538.6,144.2 557.1,150.7M501.7,150.2 520.2,150.8 538.6,140.8 557.1,147.9M501.7,146.5 520.2,156.5 538.6,143.8 557.1,154.1M501.7,147.5 520.2,155.8 538.6,143 557.1,150.4M501.7,151.8 520.2,154.1 538.6,139.8 557.1,151.1M501.7,139.3 520.2,149.6 538.6,132.8 557.1,150.3M501.7,147 520.2,147.6 538.6,139.3 557.1,148.2M501.7,140.3 520.2,153.3 538.6,134.8 557.1,137.2M501.7,140.3 520.2,150.6 538.6,135.3 557.1,141.4M501.7,134 520.2,148.3 538.6,125.3 557.1,141.4M501.7,136.7 520.2,147.5 538.6,133.6 557.1,145M501.7,141.6 520.2,140 538.6,126.9 557.1,135M501.7,129.5 520.2,147.9 538.6,135.5 557.1,145.1M501.7,131 520.2,139.3 538.6,130.9 557.1,135.5M501.7,127.8 520.2,138.4 538.6,128.2 557.1,140.5M501.7,129.9 520.2,138.3 538.6,126 557.1,136.1M501.7,131.7 520.2,132 538.6,130.9 557.1,124.2M501.7,131 520.2,141.4 538.6,117.1 557.1,136.8M501.7,125.3 520.2,137.6 538.6,121.7 557.1,129.4M501.7,131.4 520.2,128.1 538.6,119.8 557.1,132.7M501.7,118 520.2,134.8 538.6,129.5 557.1,127M501.7,123 520.2,126.6 538.6,121.4 557.1,130.2M501.7,115.9 520.2,138.1 538.6,117.5 557.1,122M501.7,128.1 520.2,133.5 538.6,113.4 557.1,128.5M501.7,117.6 520.2,129.4 538.6,114.9 557.1,122.8M501.7,115.9 520.2,137.3 538.6,113.4 557.1,122" stroke="#bebebe" stroke-width="0.65"/>
<path d="M501.7,149.1 520.2,179.7 538.6,118.5 557.1,179.7" stroke="#f22" stroke-width="0.8"/>
<path d="M501.7,149.1 520.2,161.3 538.6,142.9 557.1,163.8" stroke="#222" stroke-width="0.95"/>
</g>
<path d="M500.2 118.5V179.7M497.0 179.7H500.2M497.0 169.5H500.2M497.0 159.2H500.2M497.0 149.1H500.2M497.0 138.9H500.2M497.0 128.7H500.2M497.0 118.5H500.2" stroke="#111" stroke-width="1" fill="none"/>
<text x="492.60" y="118.45" font-size="6.6" text-anchor="middle" transform="rotate(-90 492.6 118.5)" stroke="#000" stroke-width="0.1">6</text>
<text x="492.60" y="128.65" font-size="6.6" text-anchor="middle" transform="rotate(-90 492.6 128.7)" stroke="#000" stroke-width="0.1">4</text>
<text x="492.60" y="138.85" font-size="6.6" text-anchor="middle" transform="rotate(-90 492.6 138.9)" stroke="#000" stroke-width="0.1">2</text>
<text x="492.60" y="159.25" font-size="6.6" text-anchor="middle" transform="rotate(-90 492.6 159.2)" stroke="#000" stroke-width="0.1">−2</text>
<text x="492.60" y="179.65" font-size="6.6" text-anchor="middle" transform="rotate(-90 492.6 179.7)" stroke="#000" stroke-width="0.1">−6</text>
<path d="M501.70 181.95L557.05 181.95" stroke="#1a1a1a" stroke-width="1.15"/>
<text x="502.20" y="192.45" font-size="6.5" text-anchor="middle" fill="#333" textLength="4.7" lengthAdjust="spacingAndGlyphs">H</text>
<text x="520.10" y="192.45" font-size="6.5" text-anchor="middle" fill="#333" textLength="5.1" lengthAdjust="spacingAndGlyphs">N</text>
<text x="538.70" y="192.45" font-size="6.5" text-anchor="middle" fill="#333" textLength="10.1" lengthAdjust="spacingAndGlyphs">EC</text>
<text x="556.90" y="192.45" font-size="6.5" text-anchor="middle" fill="#333" textLength="9.6" lengthAdjust="spacingAndGlyphs">LC</text>
<text x="529.20" y="115.45" font-size="8.3" text-anchor="middle" font-weight="bold">9 ( 50 )</text>
<clipPath id="c10"><rect x="572.00" y="115.55" width="59.5" height="67"/></clipPath>
<g clip-path="url(#c10)" fill="none">
<path d="M574,149.6 592.5,154.7 610.9,154.7 629.4,155.7 629.4,181.7 610.9,180.7 592.5,180.7 574,178.1Z" fill="#bebebe" stroke="#bebebe" stroke-width="0.7"/>
<path d="M574,177.6 592.5,181.2 610.9,179.7 629.4,181.2M574,178.6 592.5,179.7 610.9,179.8 629.4,179.4M574,178.6 592.5,179.6 610.9,180 629.4,180.8M574,175.9 592.5,179.9 610.9,177.7 629.4,179.2M574,175.7 592.5,176.5 610.9,177.3 629.4,178.1M574,172.2 592.5,177.2 610.9,175.4 629.4,178.2M574,175.7 592.5,176.3 610.9,174.9 629.4,177.8M574,171.3 592.5,175.6 610.9,176.9 629.4,177.7M574,172.1 592.5,176.3 610.9,174.2 629.4,176.1M574,171.4 592.5,173.4 610.9,174.5 629.4,175.2M574,169.4 592.5,173.1 610.9,173.5 629.4,174.9M574,171.7 592.5,174.9 610.9,172.3 629.4,176.4M574,168.2 592.5,172.6 610.9,171.4 629.4,172.7M574,167.1 592.5,173.7 610.9,169.3 629.4,172M574,170.3 592.5,170.5 610.9,169.7 629.4,172M574,165.7 592.5,171 610.9,168.6 629.4,170.6M574,166.5 592.5,170.2 610.9,170.2 629.4,171M574,165.5 592.5,168 610.9,168.9 629.4,173M574,166 592.5,169 610.9,169 629.4,169.8M574,165.4 592.5,169.1 610.9,168.6 629.4,168.8M574,166.2 592.5,167.2 610.9,166.5 629.4,167.4M574,162.6 592.5,167.5 610.9,166.1 629.4,168.1M574,163.1 592.5,166 610.9,164.7 629.4,167.8M574,161.9 592.5,166.1 610.9,163.7 629.4,164.6M574,160.5 592.5,164.5 610.9,163.8 629.4,166.3M574,158.3 592.5,163.2 610.9,163.6 629.4,165.3M574,157.7 592.5,164.8 610.9,163.9 629.4,164.3M574,158.8 592.5,162.3 610.9,163 629.4,162.4M574,156.7 592.5,162.7 610.9,162.3 629.4,163.7M574,156.9 592.5,160.8 610.9,161.2 629.4,161.7M574,154.8 592.5,159.8 610.9,161.5 629.4,162.1M574,156 592.5,161.3 610.9,158.8 629.4,159.1M574,154.9 592.5,160.8 610.9,158.4 629.4,161.1M574,153.4 592.5,156.9 610.9,159.4 629.4,159.9M574,153.3 592.5,156.1 610.9,158 629.4,157M574,151.5 592.5,157.1 610.9,156.9 629.4,159.3M574,153.5 592.5,156.9 610.9,156.1 629.4,157.4M574,151.2 592.5,155.2 610.9,154.6 629.4,155.2M574,149.6 592.5,154.9 610.9,154.2 629.4,155.2M574,149.1 592.5,157.1 610.9,154.2 629.4,155.2M574,149 592.5,146.9 610.9,147.4 629.4,146.4M574,145.1 592.5,144.3 610.9,145.2 629.4,145.5M574,145.1 592.5,144.3 610.9,145.2 629.4,145.5M574,144.7 592.5,143.2 610.9,143.7 629.4,143.5M574,143.9 592.5,141.3 610.9,142.2 629.4,141.3M574,144.1 592.5,142.1 610.9,142.3 629.4,142.6M574,142.5 592.5,139.7 610.9,138.7 629.4,141.8M574,139.5 592.5,140 610.9,140.3 629.4,140.6M574,137.1 592.5,138.3 610.9,136.3 629.4,140.3M574,137.6 592.5,139.3 610.9,137.3 629.4,139.5M574,137.1 592.5,136 610.9,136.3 629.4,138M574,135.5 592.5,135.3 610.9,135.9 629.4,138.2M574,136.2 592.5,135.6 610.9,134.4 629.4,136M574,135.6 592.5,133.9 610.9,133.8 629.4,136M574,131.2 592.5,132.6 610.9,130.6 629.4,134.5M574,131.6 592.5,132.3 610.9,131.1 629.4,134.8M574,128.6 592.5,129.8 610.9,133.1 629.4,136M574,127.9 592.5,127.8 610.9,131.7 629.4,135.4M574,118.1 592.5,123.2 610.9,131.3 629.4,133.4" stroke="#bebebe" stroke-width="0.65"/>
<path d="M574,149.1 592.5,179.7 610.9,149.1 629.4,149.1" stroke="#f22" stroke-width="0.8"/>
<path d="M574,154.2 592.5,163.8 610.9,163.8 629.4,163.8" stroke="#222" stroke-width="0.95"/>
</g>
<path d="M572.5 118.5V179.7M569.3 179.7H572.5M569.3 169.5H572.5M569.3 159.2H572.5M569.3 149.1H572.5M569.3 138.9H572.5M569.3 128.7H572.5M569.3 118.5H572.5" stroke="#111" stroke-width="1" fill="none"/>
<text x="564.90" y="118.45" font-size="6.6" text-anchor="middle" transform="rotate(-90 564.9 118.5)" stroke="#000" stroke-width="0.1">6</text>
<text x="564.90" y="128.65" font-size="6.6" text-anchor="middle" transform="rotate(-90 564.9 128.7)" stroke="#000" stroke-width="0.1">4</text>
<text x="564.90" y="138.85" font-size="6.6" text-anchor="middle" transform="rotate(-90 564.9 138.9)" stroke="#000" stroke-width="0.1">2</text>
<text x="564.90" y="159.25" font-size="6.6" text-anchor="middle" transform="rotate(-90 564.9 159.2)" stroke="#000" stroke-width="0.1">−2</text>
<text x="564.90" y="179.65" font-size="6.6" text-anchor="middle" transform="rotate(-90 564.9 179.7)" stroke="#000" stroke-width="0.1">−6</text>
<path d="M574.00 181.95L629.35 181.95" stroke="#1a1a1a" stroke-width="1.15"/>
<text x="574.50" y="192.45" font-size="6.5" text-anchor="middle" fill="#333" textLength="4.7" lengthAdjust="spacingAndGlyphs">H</text>
<text x="592.40" y="192.45" font-size="6.5" text-anchor="middle" fill="#333" textLength="5.1" lengthAdjust="spacingAndGlyphs">N</text>
<text x="611.00" y="192.45" font-size="6.5" text-anchor="middle" fill="#333" textLength="10.1" lengthAdjust="spacingAndGlyphs">EC</text>
<text x="629.20" y="192.45" font-size="6.5" text-anchor="middle" fill="#333" textLength="9.6" lengthAdjust="spacingAndGlyphs">LC</text>
<text x="601.50" y="115.45" font-size="8.3" text-anchor="middle" font-weight="bold">10 ( 171 )</text>
<clipPath id="c11"><rect x="644.30" y="115.55" width="59.5" height="67"/></clipPath>
<g clip-path="url(#c11)" fill="none">
<path d="M646.3,182.2 664.8,165.6 683.2,181.2 701.6,168.8M646.3,175.3 664.8,159.1 683.2,181.2 701.6,162.8M646.3,182.2 664.8,172.5 683.2,175.9 701.6,163.8M646.3,181.1 664.8,165.8 683.2,177.3 701.6,163.8M646.3,182.2 664.8,170.5 683.2,172.4 701.6,164.7M646.3,167.4 664.8,161 683.2,169.8 701.6,170.5M646.3,169.2 664.8,159.7 683.2,168.7 701.6,156.1M646.3,156.3 664.8,158.2 683.2,166.2 701.6,153.8M646.3,169.2 664.8,156.6 683.2,165.2 701.6,151.6M646.3,170.2 664.8,153.3 683.2,170.7 701.6,153.9M646.3,155.3 664.8,154.7 683.2,161.3 701.6,150.7M646.3,159.8 664.8,154.2 683.2,164.8 701.6,154M646.3,150.9 664.8,148.1 683.2,156.9 701.6,148.4M646.3,160.5 664.8,150.3 683.2,163.4 701.6,148M646.3,161.7 664.8,143.1 683.2,159.8 701.6,148.6M646.3,154.1 664.8,138.8 683.2,156.5 701.6,142M646.3,149.4 664.8,134.8 683.2,158.2 701.6,145.9M646.3,150.3 664.8,133.1 683.2,152.6 701.6,140.8M646.3,144.2 664.8,131.6 683.2,153.7 701.6,138.7M646.3,143.4 664.8,127 683.2,144.7 701.6,144.8M646.3,147 664.8,135.9 683.2,153.5 701.6,142.7M646.3,140.3 664.8,133.6 683.2,153.2 701.6,139.8M646.3,139.2 664.8,128.8 683.2,146.4 701.6,129.2M646.3,132 664.8,124.7 683.2,149.8 701.6,135.8M646.3,139.1 664.8,123.8 683.2,139.4 701.6,137.3M646.3,142 664.8,132 683.2,139.4 701.6,129.2M646.3,135.1 664.8,118.5 683.2,139.4 701.6,129.2" stroke="#bebebe" stroke-width="0.65"/>
<path d="M646.3,149.1 664.8,118.5 683.2,179.7 701.6,118.5" stroke="#f22" stroke-width="0.8"/>
<path d="M646.3,166.9 664.8,148 683.2,163.8 701.6,152.1" stroke="#222" stroke-width="0.95"/>
</g>
<path d="M644.8 118.5V179.7M641.6 179.7H644.8M641.6 169.5H644.8M641.6 159.2H644.8M641.6 149.1H644.8M641.6 138.9H644.8M641.6 128.7H644.8M641.6 118.5H644.8" stroke="#111" stroke-width="1" fill="none"/>
<text x="637.20" y="118.45" font-size="6.6" text-anchor="middle" transform="rotate(-90 637.2 118.5)" stroke="#000" stroke-width="0.1">6</text>
<text x="637.20" y="128.65" font-size="6.6" text-anchor="middle" transform="rotate(-90 637.2 128.7)" stroke="#000" stroke-width="0.1">4</text>
<text x="637.20" y="138.85" font-size="6.6" text-anchor="middle" transform="rotate(-90 637.2 138.9)" stroke="#000" stroke-width="0.1">2</text>
<text x="637.20" y="159.25" font-size="6.6" text-anchor="middle" transform="rotate(-90 637.2 159.2)" stroke="#000" stroke-width="0.1">−2</text>
<text x="637.20" y="179.65" font-size="6.6" text-anchor="middle" transform="rotate(-90 637.2 179.7)" stroke="#000" stroke-width="0.1">−6</text>
<path d="M646.30 181.95L701.65 181.95" stroke="#1a1a1a" stroke-width="1.15"/>
<text x="646.80" y="192.45" font-size="6.5" text-anchor="middle" fill="#333" textLength="4.7" lengthAdjust="spacingAndGlyphs">H</text>
<text x="664.70" y="192.45" font-size="6.5" text-anchor="middle" fill="#333" textLength="5.1" lengthAdjust="spacingAndGlyphs">N</text>
<text x="683.30" y="192.45" font-size="6.5" text-anchor="middle" fill="#333" textLength="10.1" lengthAdjust="spacingAndGlyphs">EC</text>
<text x="701.50" y="192.45" font-size="6.5" text-anchor="middle" fill="#333" textLength="9.6" lengthAdjust="spacingAndGlyphs">LC</text>
<text x="673.80" y="115.45" font-size="8.3" text-anchor="middle" font-weight="bold">11 ( 27 )</text>
<clipPath id="c12"><rect x="716.60" y="115.55" width="59.5" height="67"/></clipPath>
<g clip-path="url(#c12)" fill="none">
<path d="M718.6,134.3 737.1,134.3 755.5,131.7 774,125.6 774,142.9 755.5,145 737.1,148.5 718.6,148.5Z" fill="#bebebe" stroke="#bebebe" stroke-width="0.7"/>
<path d="M718.6,148.4 737.1,147.8 755.5,145.5 774,141.7M718.6,148 737.1,147.6 755.5,145.1 774,140.8M718.6,147.4 737.1,146.6 755.5,143.2 774,141.7M718.6,144.3 737.1,144.4 755.5,141.2 774,138.2M718.6,144.7 737.1,144.6 755.5,140.7 774,137.2M718.6,144.5 737.1,143.9 755.5,140 774,136.8M718.6,142.2 737.1,141.9 755.5,139.7 774,136.5M718.6,140.4 737.1,141.4 755.5,137.8 774,133.5M718.6,141.3 737.1,140.2 755.5,139.1 774,133.2M718.6,140.8 737.1,138.6 755.5,136.5 774,132M718.6,138 737.1,139 755.5,135.2 774,129.7M718.6,137.8 737.1,137.6 755.5,134 774,128.6M718.6,136.4 737.1,136.9 755.5,134.4 774,128.6M718.6,135.4 737.1,136.6 755.5,132.1 774,126.6M718.6,135.3 737.1,133.8 755.5,131.2 774,126.3M718.6,170.9 737.1,173.5 755.5,171.5 774,171.3M718.6,171.2 737.1,173.5 755.5,172.5 774,172.1M718.6,171.3 737.1,172.2 755.5,172.5 774,171.9M718.6,171.6 737.1,169.4 755.5,170.1 774,171.3M718.6,170.2 737.1,171 755.5,171 774,168.8M718.6,170.7 737.1,171.9 755.5,170.4 774,171.3M718.6,171 737.1,169.1 755.5,170.2 774,171.1M718.6,169.2 737.1,172.4 755.5,169.5 774,170.7M718.6,168.5 737.1,171.1 755.5,168.2 774,171.6M718.6,170.5 737.1,166.8 755.5,167.6 774,167.8M718.6,170.2 737.1,168.2 755.5,167 774,168.2M718.6,169.7 737.1,170.1 755.5,168.2 774,168.2M718.6,169.1 737.1,169.4 755.5,166.6 774,170.3M718.6,168.9 737.1,170.2 755.5,166.6 774,169.3M718.6,165.4 737.1,168.1 755.5,167.5 774,167.7M718.6,166.6 737.1,168.5 755.5,168.3 774,167.5M718.6,165.6 737.1,166.6 755.5,166.1 774,168.3M718.6,167.8 737.1,166.4 755.5,165.3 774,163.7M718.6,166.2 737.1,165.2 755.5,165.3 774,165.2M718.6,163.3 737.1,166.7 755.5,164.7 774,166.7M718.6,166 737.1,166.8 755.5,165.5 774,166.9M718.6,165.5 737.1,166.2 755.5,164.6 774,165.8M718.6,163.2 737.1,167.4 755.5,165.1 774,167.2M718.6,165.1 737.1,165.9 755.5,163.8 774,165.5M718.6,162.6 737.1,164.4 755.5,161.2 774,164.4M718.6,163.6 737.1,162.4 755.5,161.6 774,164.5M718.6,162.7 737.1,163.1 755.5,163.9 774,163.8M718.6,161.7 737.1,162.3 755.5,161.9 774,165.3M718.6,160.9 737.1,161.9 755.5,157.6 774,162.8M718.6,162.2 737.1,164 755.5,159.4 774,163.5M718.6,164.3 737.1,162.3 755.5,159.3 774,164.6M718.6,157.3 737.1,166.5 755.5,158.6 774,160.4M718.6,159.5 737.1,159.4 755.5,157.3 774,162.1M718.6,159.7 737.1,160.5 755.5,157.2 774,161.7M718.6,160.9 737.1,159.5 755.5,156 774,162.9M718.6,159.1 737.1,160.6 755.5,161.3 774,160.7M718.6,160.3 737.1,158.3 755.5,155.9 774,160.8M718.6,159.1 737.1,158.7 755.5,155.7 774,161.3M718.6,157.4 737.1,156.7 755.5,156.7 774,160M718.6,156.5 737.1,158.8 755.5,156.2 774,158.6M718.6,157.1 737.1,158.5 755.5,156 774,160.2M718.6,158.2 737.1,159.2 755.5,153.9 774,159.6M718.6,157.5 737.1,155.3 755.5,154.2 774,161.4M718.6,155 737.1,158.6 755.5,155.5 774,159.8M718.6,156.9 737.1,156 755.5,154.2 774,157.5M718.6,154.3 737.1,159 755.5,153 774,159.9M718.6,155.1 737.1,157.3 755.5,153.3 774,158.1M718.6,156.6 737.1,155.2 755.5,151.4 774,157.1M718.6,155.7 737.1,157.1 755.5,150.8 774,158.8M718.6,155.1 737.1,155.3 755.5,153.3 774,158M718.6,153.8 737.1,153.7 755.5,152.7 774,157.7M718.6,152.3 737.1,153.6 755.5,151.6 774,154.4M718.6,151.5 737.1,153.9 755.5,151.7 774,155.7M718.6,153.1 737.1,153.7 755.5,149.6 774,155.1M718.6,152 737.1,150.2 755.5,149.8 774,156.1M718.6,151.6 737.1,152.1 755.5,145.5 774,155.2M718.6,153.5 737.1,151.4 755.5,149.9 774,155.7M718.6,153.6 737.1,150.5 755.5,148.9 774,155M718.6,150.9 737.1,150.5 755.5,146.7 774,156.2M718.6,150.7 737.1,151.2 755.5,148.9 774,153.5M718.6,151.7 737.1,152.2 755.5,146.5 774,153.3M718.6,150.3 737.1,152.7 755.5,147.8 774,152.6M718.6,149.1 737.1,151.4 755.5,147 774,153.9M718.6,149.1 737.1,149.1 755.5,146.3 774,152.6M718.6,149.1 737.1,149.1 755.5,145.7 774,153M718.6,133.8 737.1,133.7 755.5,128.5 774,124.6M718.6,133.2 737.1,133.5 755.5,122.8 774,124M718.6,133.2 737.1,133.2 755.5,122 774,124.2M718.6,132.9 737.1,133.1 755.5,117.5 774,123.9" stroke="#bebebe" stroke-width="0.65"/>
<path d="M718.6,149.1 737.1,149.1 755.5,118.5 774,149.1" stroke="#f22" stroke-width="0.8"/>
<path d="M718.6,149.1 737.1,149.1 755.5,139.4 774,140.9" stroke="#222" stroke-width="0.95"/>
</g>
<path d="M717.1 118.5V179.7M713.9 179.7H717.1M713.9 169.5H717.1M713.9 159.2H717.1M713.9 149.1H717.1M713.9 138.9H717.1M713.9 128.7H717.1M713.9 118.5H717.1" stroke="#111" stroke-width="1" fill="none"/>
<text x="709.50" y="118.45" font-size="6.6" text-anchor="middle" transform="rotate(-90 709.5 118.5)" stroke="#000" stroke-width="0.1">6</text>
<text x="709.50" y="128.65" font-size="6.6" text-anchor="middle" transform="rotate(-90 709.5 128.7)" stroke="#000" stroke-width="0.1">4</text>
<text x="709.50" y="138.85" font-size="6.6" text-anchor="middle" transform="rotate(-90 709.5 138.9)" stroke="#000" stroke-width="0.1">2</text>
<text x="709.50" y="159.25" font-size="6.6" text-anchor="middle" transform="rotate(-90 709.5 159.2)" stroke="#000" stroke-width="0.1">−2</text>
<text x="709.50" y="179.65" font-size="6.6" text-anchor="middle" transform="rotate(-90 709.5 179.7)" stroke="#000" stroke-width="0.1">−6</text>
<path d="M718.60 181.95L773.95 181.95" stroke="#1a1a1a" stroke-width="1.15"/>
<text x="719.10" y="192.45" font-size="6.5" text-anchor="middle" fill="#333" textLength="4.7" lengthAdjust="spacingAndGlyphs">H</text>
<text x="737.00" y="192.45" font-size="6.5" text-anchor="middle" fill="#333" textLength="5.1" lengthAdjust="spacingAndGlyphs">N</text>
<text x="755.60" y="192.45" font-size="6.5" text-anchor="middle" fill="#333" textLength="10.1" lengthAdjust="spacingAndGlyphs">EC</text>
<text x="773.80" y="192.45" font-size="6.5" text-anchor="middle" fill="#333" textLength="9.6" lengthAdjust="spacingAndGlyphs">LC</text>
<text x="746.10" y="115.45" font-size="8.3" text-anchor="middle" font-weight="bold">12 ( 80 )</text>
<clipPath id="c13"><rect x="355.10" y="201.10" width="59.5" height="67"/></clipPath>
<g clip-path="url(#c13)" fill="none">
<path d="M357.1,250.8 375.6,260 394,258.6 412.5,267.8M357.1,249.6 375.6,260.1 394,258.6 412.5,267.3M357.1,248.8 375.6,258 394,255.3 412.5,267.7M357.1,249.9 375.6,255.1 394,255.5 412.5,262.8M357.1,248.5 375.6,254.4 394,253.2 412.5,260.4M357.1,243.6 375.6,255 394,252.8 412.5,262.3M357.1,244.4 375.6,253.9 394,253.2 412.5,261M357.1,242.7 375.6,252.7 394,250.6 412.5,259.8M357.1,241.3 375.6,249.6 394,251.1 412.5,255.5M357.1,241.2 375.6,247.3 394,249.1 412.5,255.7M357.1,241.5 375.6,248.3 394,247.6 412.5,251M357.1,238.2 375.6,247.9 394,247.6 412.5,252.6M357.1,237.6 375.6,246 394,245.5 412.5,253.3M357.1,237 375.6,243.2 394,245.3 412.5,250.9M357.1,234.1 375.6,243.1 394,243.1 412.5,249.4M357.1,234.4 375.6,241.2 394,244.2 412.5,247.3M357.1,203 375.6,206.6 394,208.1 412.5,233.1M357.1,196.3 375.6,215.2 394,208.1 412.5,226.9" stroke="#bebebe" stroke-width="0.65"/>
<path d="M357.1,234.6 375.6,265.2 394,234.6 412.5,265.2" stroke="#f22" stroke-width="0.8"/>
<path d="M357.1,234.6 375.6,247.9 394,244.3 412.5,259.1" stroke="#222" stroke-width="0.95"/>
</g>
<path d="M355.6 204.0V265.2M352.4 265.2H355.6M352.4 255.0H355.6M352.4 244.8H355.6M352.4 234.6H355.6M352.4 224.4H355.6M352.4 214.2H355.6M352.4 204.0H355.6" stroke="#111" stroke-width="1" fill="none"/>
<text x="348.00" y="204.00" font-size="6.6" text-anchor="middle" transform="rotate(-90 348 204)" stroke="#000" stroke-width="0.1">6</text>
<text x="348.00" y="214.20" font-size="6.6" text-anchor="middle" transform="rotate(-90 348 214.2)" stroke="#000" stroke-width="0.1">4</text>
<text x="348.00" y="224.40" font-size="6.6" text-anchor="middle" transform="rotate(-90 348 224.4)" stroke="#000" stroke-width="0.1">2</text>
<text x="348.00" y="244.80" font-size="6.6" text-anchor="middle" transform="rotate(-90 348 244.8)" stroke="#000" stroke-width="0.1">−2</text>
<text x="348.00" y="265.20" font-size="6.6" text-anchor="middle" transform="rotate(-90 348 265.2)" stroke="#000" stroke-width="0.1">−6</text>
<path d="M357.10 267.50L412.45 267.50" stroke="#1a1a1a" stroke-width="1.15"/>
<text x="357.60" y="278.00" font-size="6.5" text-anchor="middle" fill="#333" textLength="4.7" lengthAdjust="spacingAndGlyphs">H</text>
<text x="375.50" y="278.00" font-size="6.5" text-anchor="middle" fill="#333" textLength="5.1" lengthAdjust="spacingAndGlyphs">N</text>
<text x="394.10" y="278.00" font-size="6.5" text-anchor="middle" fill="#333" textLength="10.1" lengthAdjust="spacingAndGlyphs">EC</text>
<text x="412.30" y="278.00" font-size="6.5" text-anchor="middle" fill="#333" textLength="9.6" lengthAdjust="spacingAndGlyphs">LC</text>
<text x="384.60" y="201.00" font-size="8.3" text-anchor="middle" font-weight="bold">13 ( 18 )</text>
<clipPath id="c14"><rect x="427.40" y="201.10" width="59.5" height="67"/></clipPath>
<g clip-path="url(#c14)" fill="none">
<path d="M429.4,258.3 447.9,265.1 466.3,262.1 484.8,257.4M429.4,257.8 447.9,265.2 466.3,263.2 484.8,257.6M429.4,256.6 447.9,265.2 466.3,262.5 484.8,257.2M429.4,256.7 447.9,262.5 466.3,262 484.8,256.6M429.4,254.1 447.9,261.3 466.3,261.3 484.8,256.8M429.4,254.2 447.9,261.9 466.3,262.2 484.8,255M429.4,254.2 447.9,261.6 466.3,260.4 484.8,255.5M429.4,254.3 447.9,261.6 466.3,260 484.8,254.8M429.4,253.3 447.9,260.8 466.3,257.9 484.8,253.4M429.4,251.9 447.9,258.6 466.3,259.2 484.8,253.5M429.4,252.3 447.9,259.2 466.3,257.6 484.8,252M429.4,250.9 447.9,259 466.3,258.3 484.8,251.6M429.4,251.1 447.9,258.2 466.3,256.8 484.8,251.9M429.4,250.4 447.9,258.4 466.3,257 484.8,250.2M429.4,249.7 447.9,255.9 466.3,256.3 484.8,249.7M429.4,248.7 447.9,255.2 466.3,257.2 484.8,250.2M429.4,247.6 447.9,255.7 466.3,255.9 484.8,248.9M429.4,246.7 447.9,257.1 466.3,256.3 484.8,248.2M429.4,246.2 447.9,256.7 466.3,254.6 484.8,247.6M429.4,247.3 447.9,254.5 466.3,254.3 484.8,248.4M429.4,245.1 447.9,253.6 466.3,253.1 484.8,246.6M429.4,245 447.9,254.5 466.3,254.2 484.8,246.3M429.4,244.6 447.9,252.5 466.3,254 484.8,247.7M429.4,243.9 447.9,254.8 466.3,253.9 484.8,247.2M429.4,245.5 447.9,252.6 466.3,252.8 484.8,245.1M429.4,241.9 447.9,252.1 466.3,251.3 484.8,245.9M429.4,243.2 447.9,249.5 466.3,251.5 484.8,243.2M429.4,239.4 447.9,251.2 466.3,250.5 484.8,243.5M429.4,238.7 447.9,249.6 466.3,250.2 484.8,241.8M429.4,239.5 447.9,250.5 466.3,249.6 484.8,241.6M429.4,240.3 447.9,249.8 466.3,248.4 484.8,241.1M429.4,239.2 447.9,249.1 466.3,248.9 484.8,242.3M429.4,237.7 447.9,248.2 466.3,248.8 484.8,240.2M429.4,237.7 447.9,247.3 466.3,248 484.8,240.2M429.4,231.8 447.9,235.8 466.3,233.4 484.8,236.4M429.4,231.3 447.9,235.3 466.3,235.2 484.8,234.6M429.4,229.7 447.9,234.2 466.3,233.9 484.8,232.7M429.4,228.1 447.9,231.2 466.3,231.7 484.8,230.1M429.4,227.4 447.9,230.7 466.3,230.8 484.8,227.3M429.4,226.2 447.9,229.2 466.3,230.4 484.8,225.4M429.4,221.3 447.9,226.5 466.3,227.6 484.8,222.2M429.4,218.4 447.9,224.9 466.3,226.7 484.8,218.5M429.4,216.1 447.9,226.1 466.3,224 484.8,215.9M429.4,215.6 447.9,222.9 466.3,222.4 484.8,213M429.4,196.3 447.9,222.4 466.3,222.4 484.8,219.3" stroke="#bebebe" stroke-width="0.65"/>
<path d="M429.4,234.6 447.9,265.2 466.3,234.6 484.8,204" stroke="#f22" stroke-width="0.8"/>
<path d="M429.4,237.7 447.9,249.9 466.3,251.2 484.8,241.2" stroke="#222" stroke-width="0.95"/>
</g>
<path d="M427.9 204.0V265.2M424.7 265.2H427.9M424.7 255.0H427.9M424.7 244.8H427.9M424.7 234.6H427.9M424.7 224.4H427.9M424.7 214.2H427.9M424.7 204.0H427.9" stroke="#111" stroke-width="1" fill="none"/>
<text x="420.30" y="204.00" font-size="6.6" text-anchor="middle" transform="rotate(-90 420.3 204)" stroke="#000" stroke-width="0.1">6</text>
<text x="420.30" y="214.20" font-size="6.6" text-anchor="middle" transform="rotate(-90 420.3 214.2)" stroke="#000" stroke-width="0.1">4</text>
<text x="420.30" y="224.40" font-size="6.6" text-anchor="middle" transform="rotate(-90 420.3 224.4)" stroke="#000" stroke-width="0.1">2</text>
<text x="420.30" y="244.80" font-size="6.6" text-anchor="middle" transform="rotate(-90 420.3 244.8)" stroke="#000" stroke-width="0.1">−2</text>
<text x="420.30" y="265.20" font-size="6.6" text-anchor="middle" transform="rotate(-90 420.3 265.2)" stroke="#000" stroke-width="0.1">−6</text>
<path d="M429.40 267.50L484.75 267.50" stroke="#1a1a1a" stroke-width="1.15"/>
<text x="429.90" y="278.00" font-size="6.5" text-anchor="middle" fill="#333" textLength="4.7" lengthAdjust="spacingAndGlyphs">H</text>
<text x="447.80" y="278.00" font-size="6.5" text-anchor="middle" fill="#333" textLength="5.1" lengthAdjust="spacingAndGlyphs">N</text>
<text x="466.40" y="278.00" font-size="6.5" text-anchor="middle" fill="#333" textLength="10.1" lengthAdjust="spacingAndGlyphs">EC</text>
<text x="484.60" y="278.00" font-size="6.5" text-anchor="middle" fill="#333" textLength="9.6" lengthAdjust="spacingAndGlyphs">LC</text>
<text x="456.90" y="201.00" font-size="8.3" text-anchor="middle" font-weight="bold">14 ( 36 )</text>
<clipPath id="c15"><rect x="499.70" y="201.10" width="59.5" height="67"/></clipPath>
<g clip-path="url(#c15)" fill="none">
<path d="M501.7,233.5 520.2,211.9 538.6,214.2 557.1,228.6M501.7,232.7 520.2,210.1 538.6,209.7 557.1,226.4M501.7,230.3 520.2,210.2 538.6,210.4 557.1,223.1M501.7,226.7 520.2,207.5 538.6,207.6 557.1,221.2M501.7,226.7 520.2,208.2 538.6,207.6 557.1,224.3M501.7,224.6 520.2,207.1 538.6,205.3 557.1,219.8M501.7,224 520.2,206.2 538.6,203.7 557.1,219.8M501.7,223.7 520.2,204.9 538.6,202.8 557.1,217.1M501.7,267.1 520.2,248.4 538.6,255 557.1,267.1M501.7,261.1 520.2,246.2 538.6,254.3 557.1,266.2M501.7,264 520.2,243.5 538.6,247.7 557.1,259.9M501.7,260.3 520.2,241.1 538.6,250.8 557.1,263.1M501.7,260.5 520.2,241.4 538.6,246.4 557.1,260.1M501.7,256 520.2,239 538.6,243.8 557.1,259.2M501.7,256.5 520.2,237.6 538.6,242 557.1,252.3M501.7,248.3 520.2,238.4 538.6,239.5 557.1,248.8M501.7,252.8 520.2,238.2 538.6,236.1 557.1,249.9M501.7,251.1 520.2,233.3 538.6,239 557.1,249.3M501.7,247.2 520.2,231.3 538.6,238.8 557.1,248.9M501.7,244.5 520.2,233.1 538.6,229.3 557.1,245.4M501.7,234.6 520.2,231.7 538.6,230.5 557.1,237.7M501.7,234.6 520.2,228.6 538.6,228 557.1,238.6" stroke="#bebebe" stroke-width="0.65"/>
<path d="M501.7,234.6 520.2,204 538.6,234.6 557.1,265.2" stroke="#f22" stroke-width="0.8"/>
<path d="M501.7,247.3 520.2,228.5 538.6,228 557.1,246.8" stroke="#222" stroke-width="0.95"/>
</g>
<path d="M500.2 204.0V265.2M497.0 265.2H500.2M497.0 255.0H500.2M497.0 244.8H500.2M497.0 234.6H500.2M497.0 224.4H500.2M497.0 214.2H500.2M497.0 204.0H500.2" stroke="#111" stroke-width="1" fill="none"/>
<text x="492.60" y="204.00" font-size="6.6" text-anchor="middle" transform="rotate(-90 492.6 204)" stroke="#000" stroke-width="0.1">6</text>
<text x="492.60" y="214.20" font-size="6.6" text-anchor="middle" transform="rotate(-90 492.6 214.2)" stroke="#000" stroke-width="0.1">4</text>
<text x="492.60" y="224.40" font-size="6.6" text-anchor="middle" transform="rotate(-90 492.6 224.4)" stroke="#000" stroke-width="0.1">2</text>
<text x="492.60" y="244.80" font-size="6.6" text-anchor="middle" transform="rotate(-90 492.6 244.8)" stroke="#000" stroke-width="0.1">−2</text>
<text x="492.60" y="265.20" font-size="6.6" text-anchor="middle" transform="rotate(-90 492.6 265.2)" stroke="#000" stroke-width="0.1">−6</text>
<path d="M501.70 267.50L557.05 267.50" stroke="#1a1a1a" stroke-width="1.15"/>
<text x="502.20" y="278.00" font-size="6.5" text-anchor="middle" fill="#333" textLength="4.7" lengthAdjust="spacingAndGlyphs">H</text>
<text x="520.10" y="278.00" font-size="6.5" text-anchor="middle" fill="#333" textLength="5.1" lengthAdjust="spacingAndGlyphs">N</text>
<text x="538.70" y="278.00" font-size="6.5" text-anchor="middle" fill="#333" textLength="10.1" lengthAdjust="spacingAndGlyphs">EC</text>
<text x="556.90" y="278.00" font-size="6.5" text-anchor="middle" fill="#333" textLength="9.6" lengthAdjust="spacingAndGlyphs">LC</text>
<text x="529.20" y="201.00" font-size="8.3" text-anchor="middle" font-weight="bold">15 ( 22 )</text>
<clipPath id="c16"><rect x="572.00" y="201.10" width="59.5" height="67"/></clipPath>
<g clip-path="url(#c16)" fill="none">
<path d="M574,267 592.5,264.9 610.9,250 629.4,249.9M574,268.1 592.5,264.2 610.9,248.7 629.4,249.9M574,266.4 592.5,261.3 610.9,249 629.4,248.8M574,263.5 592.5,260.3 610.9,245.5 629.4,244.9M574,265 592.5,257.2 610.9,245.5 629.4,245.7M574,263.2 592.5,255.1 610.9,243.1 629.4,244.4M574,262.1 592.5,254.8 610.9,243.2 629.4,243.4M574,261.5 592.5,252.3 610.9,242.5 629.4,241.3M574,260 592.5,251.3 610.9,239.7 629.4,239.9M574,259.4 592.5,244.7 610.9,235.7 629.4,238.5M574,258.1 592.5,248 610.9,237.1 629.4,236.7M574,255.9 592.5,241.8 610.9,234.7 629.4,236.2M574,256.4 592.5,240.2 610.9,234.5 629.4,235.1M574,231.5 592.5,220.3 610.9,209.1 629.4,214.7M574,242.2 592.5,233.6 610.9,224.9 629.4,224.9" stroke="#bebebe" stroke-width="0.65"/>
<path d="M574,234.6 592.5,204 610.9,204 629.4,234.6" stroke="#f22" stroke-width="0.8"/>
<path d="M574,255.5 592.5,239.7 610.9,229 629.4,231" stroke="#222" stroke-width="0.95"/>
</g>
<path d="M572.5 204.0V265.2M569.3 265.2H572.5M569.3 255.0H572.5M569.3 244.8H572.5M569.3 234.6H572.5M569.3 224.4H572.5M569.3 214.2H572.5M569.3 204.0H572.5" stroke="#111" stroke-width="1" fill="none"/>
<text x="564.90" y="204.00" font-size="6.6" text-anchor="middle" transform="rotate(-90 564.9 204)" stroke="#000" stroke-width="0.1">6</text>
<text x="564.90" y="214.20" font-size="6.6" text-anchor="middle" transform="rotate(-90 564.9 214.2)" stroke="#000" stroke-width="0.1">4</text>
<text x="564.90" y="224.40" font-size="6.6" text-anchor="middle" transform="rotate(-90 564.9 224.4)" stroke="#000" stroke-width="0.1">2</text>
<text x="564.90" y="244.80" font-size="6.6" text-anchor="middle" transform="rotate(-90 564.9 244.8)" stroke="#000" stroke-width="0.1">−2</text>
<text x="564.90" y="265.20" font-size="6.6" text-anchor="middle" transform="rotate(-90 564.9 265.2)" stroke="#000" stroke-width="0.1">−6</text>
<path d="M574.00 267.50L629.35 267.50" stroke="#1a1a1a" stroke-width="1.15"/>
<text x="574.50" y="278.00" font-size="6.5" text-anchor="middle" fill="#333" textLength="4.7" lengthAdjust="spacingAndGlyphs">H</text>
<text x="592.40" y="278.00" font-size="6.5" text-anchor="middle" fill="#333" textLength="5.1" lengthAdjust="spacingAndGlyphs">N</text>
<text x="611.00" y="278.00" font-size="6.5" text-anchor="middle" fill="#333" textLength="10.1" lengthAdjust="spacingAndGlyphs">EC</text>
<text x="629.20" y="278.00" font-size="6.5" text-anchor="middle" fill="#333" textLength="9.6" lengthAdjust="spacingAndGlyphs">LC</text>
<text x="601.50" y="201.00" font-size="8.3" text-anchor="middle" font-weight="bold">16 ( 15 )</text>
<clipPath id="c17"><rect x="644.30" y="201.10" width="59.5" height="67"/></clipPath>
<g clip-path="url(#c17)" fill="none">
<path d="M646.3,257.4 664.8,246.8 683.2,260 701.6,259M646.3,258.1 664.8,249.1 683.2,261.1 701.6,259.1M646.3,256.1 664.8,249.3 683.2,261.1 701.6,258.6M646.3,258.1 664.8,247.7 683.2,259.9 701.6,258.8M646.3,257.5 664.8,248.1 683.2,259.1 701.6,259.8M646.3,257.6 664.8,246.5 683.2,258.9 701.6,256.6M646.3,258 664.8,247.1 683.2,260.3 701.6,257.1M646.3,257.7 664.8,246.8 683.2,257.3 701.6,258M646.3,254.6 664.8,246.3 683.2,256.8 701.6,256.8M646.3,254.1 664.8,244.1 683.2,259.8 701.6,257.1M646.3,253.3 664.8,245.3 683.2,258.6 701.6,258.4M646.3,254.9 664.8,245.9 683.2,257.3 701.6,257.4M646.3,254.3 664.8,245.7 683.2,258 701.6,256.2M646.3,252 664.8,244.7 683.2,257.9 701.6,255.3M646.3,253.1 664.8,245.8 683.2,257.8 701.6,254.7M646.3,249.2 664.8,243.1 683.2,256.1 701.6,254.6M646.3,250.4 664.8,244 683.2,257.3 701.6,256.8M646.3,251.9 664.8,243.8 683.2,255.4 701.6,255.4M646.3,249.5 664.8,241.9 683.2,254.5 701.6,254.1M646.3,249.5 664.8,241.9 683.2,254 701.6,253.8M646.3,249.2 664.8,242.8 683.2,254.4 701.6,251.8M646.3,250.3 664.8,240 683.2,253.9 701.6,252.9M646.3,249.6 664.8,240.5 683.2,254.8 701.6,252.9M646.3,249.5 664.8,242.6 683.2,254 701.6,252.2M646.3,246.8 664.8,242.5 683.2,253.2 701.6,250.5M646.3,246.7 664.8,241.3 683.2,251.5 701.6,250.2M646.3,247.3 664.8,241.2 683.2,253 701.6,250.8M646.3,247.5 664.8,237.6 683.2,252 701.6,249.9M646.3,246.7 664.8,239.2 683.2,251.9 701.6,250.8M646.3,245.5 664.8,238.3 683.2,252 701.6,250.6M646.3,245.2 664.8,238.5 683.2,251.8 701.6,251M646.3,246.4 664.8,239 683.2,249.3 701.6,252.2M646.3,244.3 664.8,238.4 683.2,250.7 701.6,249.7M646.3,245 664.8,238.2 683.2,250.2 701.6,247.8M646.3,244.7 664.8,237.9 683.2,247.8 701.6,249.2M646.3,243.8 664.8,236.2 683.2,251.7 701.6,248.5M646.3,243.4 664.8,237.7 683.2,251.3 701.6,248M646.3,243 664.8,236.1 683.2,250.2 701.6,247.7M646.3,242.9 664.8,235.6 683.2,248.4 701.6,247.4M646.3,241.7 664.8,235.5 683.2,249.3 701.6,247.1M646.3,240.8 664.8,236.6 683.2,248.9 701.6,247.1M646.3,241 664.8,235.4 683.2,248.3 701.6,245.9M646.3,242 664.8,234.9 683.2,247 701.6,245.9M646.3,242.8 664.8,234.9 683.2,248.4 701.6,244M646.3,238.1 664.8,234.5 683.2,247 701.6,245.5M646.3,241.4 664.8,234.3 683.2,247.8 701.6,245.5M646.3,240.6 664.8,234.2 683.2,246.1 701.6,243.3M646.3,240.5 664.8,234.1 683.2,246.6 701.6,245.1M646.3,239.6 664.8,231.9 683.2,246.2 701.6,243.4M646.3,239 664.8,233.9 683.2,246.4 701.6,244.9M646.3,238.6 664.8,231.6 683.2,246.3 701.6,243.4M646.3,238.3 664.8,232.2 683.2,244.5 701.6,243.7M646.3,236 664.8,232.2 683.2,244.7 701.6,242.3M646.3,238 664.8,230.5 683.2,244.4 701.6,244M646.3,236 664.8,230.3 683.2,244.2 701.6,242M646.3,236.9 664.8,231.6 683.2,242.8 701.6,241M646.3,236.7 664.8,230.9 683.2,242.2 701.6,240.2M646.3,234.8 664.8,229.8 683.2,243.8 701.6,241.1M646.3,234.6 664.8,230.7 683.2,243.7 701.6,241.1M646.3,237.5 664.8,230.5 683.2,242.2 701.6,240.2M646.3,267.8 664.8,256.5 683.2,265.2 701.6,262.6M646.3,266 664.8,253.7 683.2,263.7 701.6,262M646.3,261.7 664.8,252.1 683.2,262.6 701.6,261.2M646.3,259.9 664.8,250.9 683.2,262.2 701.6,260.7M646.3,230.4 664.8,226 683.2,238.6 701.6,236.4M646.3,226.2 664.8,227.5 683.2,236.6 701.6,232.9M646.3,225.8 664.8,221.6 683.2,233.8 701.6,232.2M646.3,222.6 664.8,216.9 683.2,230.3 701.6,229.2M646.3,222.3 664.8,216.7 683.2,229.7 701.6,227.4M646.3,220.5 664.8,211.3 683.2,226.7 701.6,225.2M646.3,215.2 664.8,214.5 683.2,222.9 701.6,222.6M646.3,216.2 664.8,207.3 683.2,215.2 701.6,222.9M646.3,211.7 664.8,208.8 683.2,215.4 701.6,220M646.3,210.1 664.8,201.4 683.2,211.9 701.6,217.5" stroke="#bebebe" stroke-width="0.65"/>
<path d="M646.3,234.6 664.8,204 683.2,265.2 701.6,234.6" stroke="#f22" stroke-width="0.8"/>
<path d="M646.3,247.3 664.8,231 683.2,244.3 701.6,244.3" stroke="#222" stroke-width="0.95"/>
</g>
<path d="M644.8 204.0V265.2M641.6 265.2H644.8M641.6 255.0H644.8M641.6 244.8H644.8M641.6 234.6H644.8M641.6 224.4H644.8M641.6 214.2H644.8M641.6 204.0H644.8" stroke="#111" stroke-width="1" fill="none"/>
<text x="637.20" y="204.00" font-size="6.6" text-anchor="middle" transform="rotate(-90 637.2 204)" stroke="#000" stroke-width="0.1">6</text>
<text x="637.20" y="214.20" font-size="6.6" text-anchor="middle" transform="rotate(-90 637.2 214.2)" stroke="#000" stroke-width="0.1">4</text>
<text x="637.20" y="224.40" font-size="6.6" text-anchor="middle" transform="rotate(-90 637.2 224.4)" stroke="#000" stroke-width="0.1">2</text>
<text x="637.20" y="244.80" font-size="6.6" text-anchor="middle" transform="rotate(-90 637.2 244.8)" stroke="#000" stroke-width="0.1">−2</text>
<text x="637.20" y="265.20" font-size="6.6" text-anchor="middle" transform="rotate(-90 637.2 265.2)" stroke="#000" stroke-width="0.1">−6</text>
<path d="M646.30 267.50L701.65 267.50" stroke="#1a1a1a" stroke-width="1.15"/>
<text x="646.80" y="278.00" font-size="6.5" text-anchor="middle" fill="#333" textLength="4.7" lengthAdjust="spacingAndGlyphs">H</text>
<text x="664.70" y="278.00" font-size="6.5" text-anchor="middle" fill="#333" textLength="5.1" lengthAdjust="spacingAndGlyphs">N</text>
<text x="683.30" y="278.00" font-size="6.5" text-anchor="middle" fill="#333" textLength="10.1" lengthAdjust="spacingAndGlyphs">EC</text>
<text x="701.50" y="278.00" font-size="6.5" text-anchor="middle" fill="#333" textLength="9.6" lengthAdjust="spacingAndGlyphs">LC</text>
<text x="673.80" y="201.00" font-size="8.3" text-anchor="middle" font-weight="bold">17 ( 80 )</text>
<clipPath id="c18"><rect x="716.60" y="201.10" width="59.5" height="67"/></clipPath>
<g clip-path="url(#c18)" fill="none">
<path d="M718.6,257.7 737.1,243.8 755.5,258 774,264.9M718.6,258.6 737.1,242.6 755.5,257.1 774,265.5M718.6,258 737.1,239.9 755.5,255.5 774,264.5M718.6,255 737.1,238.8 755.5,255.7 774,264.2M718.6,254.9 737.1,236.4 755.5,255.4 774,263.6M718.6,253.6 737.1,234.9 755.5,253.4 774,263.5M718.6,253.2 737.1,234.4 755.5,253.2 774,262.9M718.6,252.6 737.1,233.3 755.5,250.8 774,261.5M718.6,251.9 737.1,231.9 755.5,250 774,261M718.6,252.2 737.1,231.6 755.5,251.6 774,261.7M718.6,251.4 737.1,231.1 755.5,249.7 774,260.9M718.6,250.2 737.1,228.8 755.5,250.5 774,260.2M718.6,249.9 737.1,226.1 755.5,247.2 774,259.6M718.6,248.1 737.1,226.8 755.5,246.5 774,259.8M718.6,248.2 737.1,224.9 755.5,246.1 774,259M718.6,198.9 737.1,201.4 755.5,206.6 774,214.7M718.6,244.8 737.1,224.9 755.5,234.6 774,252.4" stroke="#bebebe" stroke-width="0.65"/>
<path d="M718.6,234.6 737.1,204 755.5,265.2 774,265.2" stroke="#f22" stroke-width="0.8"/>
<path d="M718.6,249.9 737.1,235.6 755.5,249.9 774,264.2" stroke="#222" stroke-width="0.95"/>
</g>
<path d="M717.1 204.0V265.2M713.9 265.2H717.1M713.9 255.0H717.1M713.9 244.8H717.1M713.9 234.6H717.1M713.9 224.4H717.1M713.9 214.2H717.1M713.9 204.0H717.1" stroke="#111" stroke-width="1" fill="none"/>
<text x="709.50" y="204.00" font-size="6.6" text-anchor="middle" transform="rotate(-90 709.5 204)" stroke="#000" stroke-width="0.1">6</text>
<text x="709.50" y="214.20" font-size="6.6" text-anchor="middle" transform="rotate(-90 709.5 214.2)" stroke="#000" stroke-width="0.1">4</text>
<text x="709.50" y="224.40" font-size="6.6" text-anchor="middle" transform="rotate(-90 709.5 224.4)" stroke="#000" stroke-width="0.1">2</text>
<text x="709.50" y="244.80" font-size="6.6" text-anchor="middle" transform="rotate(-90 709.5 244.8)" stroke="#000" stroke-width="0.1">−2</text>
<text x="709.50" y="265.20" font-size="6.6" text-anchor="middle" transform="rotate(-90 709.5 265.2)" stroke="#000" stroke-width="0.1">−6</text>
<path d="M718.60 267.50L773.95 267.50" stroke="#1a1a1a" stroke-width="1.15"/>
<text x="719.10" y="278.00" font-size="6.5" text-anchor="middle" fill="#333" textLength="4.7" lengthAdjust="spacingAndGlyphs">H</text>
<text x="737.00" y="278.00" font-size="6.5" text-anchor="middle" fill="#333" textLength="5.1" lengthAdjust="spacingAndGlyphs">N</text>
<text x="755.60" y="278.00" font-size="6.5" text-anchor="middle" fill="#333" textLength="10.1" lengthAdjust="spacingAndGlyphs">EC</text>
<text x="773.80" y="278.00" font-size="6.5" text-anchor="middle" fill="#333" textLength="9.6" lengthAdjust="spacingAndGlyphs">LC</text>
<text x="746.10" y="201.00" font-size="8.3" text-anchor="middle" font-weight="bold">18 ( 17 )</text>
<clipPath id="c19"><rect x="355.10" y="286.65" width="59.5" height="67"/></clipPath>
<g clip-path="url(#c19)" fill="none">
<path d="M357.1,351.4 375.6,339 394,342 412.5,328.3M357.1,353.3 375.6,335.5 394,340.7 412.5,328M357.1,348.4 375.6,331.9 394,334.8 412.5,334.2M357.1,345.3 375.6,329.1 394,335.5 412.5,324.8M357.1,344.8 375.6,328.6 394,334.7 412.5,320.8M357.1,337.2 375.6,331.9 394,331.8 412.5,322.1M357.1,341.4 375.6,326 394,330.7 412.5,318.6M357.1,331.9 375.6,320.3 394,322.2 412.5,314.4M357.1,331.7 375.6,324.7 394,327.2 412.5,309.1M357.1,329.3 375.6,317.1 394,322.3 412.5,308.5M357.1,327.6 375.6,317.5 394,318.8 412.5,304.3M357.1,325.9 375.6,313.2 394,309.5 412.5,300.8M357.1,330 375.6,313.5 394,322.4 412.5,301.8M357.1,318.4 375.6,306.7 394,309.9 412.5,302.8M357.1,314.6 375.6,306 394,310.2 412.5,301.2M357.1,317.3 375.6,305.4 394,306.5 412.5,292.6" stroke="#bebebe" stroke-width="0.65"/>
<path d="M357.1,320.1 375.6,289.5 394,320.1 412.5,289.5" stroke="#f22" stroke-width="0.8"/>
<path d="M357.1,345.1 375.6,322.7 394,325 412.5,313.5" stroke="#222" stroke-width="0.95"/>
</g>
<path d="M355.6 289.5V350.8M352.4 350.8H355.6M352.4 340.5H355.6M352.4 330.3H355.6M352.4 320.1H355.6M352.4 309.9H355.6M352.4 299.8H355.6M352.4 289.5H355.6" stroke="#111" stroke-width="1" fill="none"/>
<text x="348.00" y="289.55" font-size="6.6" text-anchor="middle" transform="rotate(-90 348 289.5)" stroke="#000" stroke-width="0.1">6</text>
<text x="348.00" y="299.75" font-size="6.6" text-anchor="middle" transform="rotate(-90 348 299.8)" stroke="#000" stroke-width="0.1">4</text>
<text x="348.00" y="309.95" font-size="6.6" text-anchor="middle" transform="rotate(-90 348 309.9)" stroke="#000" stroke-width="0.1">2</text>
<text x="348.00" y="330.35" font-size="6.6" text-anchor="middle" transform="rotate(-90 348 330.3)" stroke="#000" stroke-width="0.1">−2</text>
<text x="348.00" y="350.75" font-size="6.6" text-anchor="middle" transform="rotate(-90 348 350.8)" stroke="#000" stroke-width="0.1">−6</text>
<path d="M357.10 353.05L412.45 353.05" stroke="#1a1a1a" stroke-width="1.15"/>
<text x="357.60" y="363.55" font-size="6.5" text-anchor="middle" fill="#333" textLength="4.7" lengthAdjust="spacingAndGlyphs">H</text>
<text x="375.50" y="363.55" font-size="6.5" text-anchor="middle" fill="#333" textLength="5.1" lengthAdjust="spacingAndGlyphs">N</text>
<text x="394.10" y="363.55" font-size="6.5" text-anchor="middle" fill="#333" textLength="10.1" lengthAdjust="spacingAndGlyphs">EC</text>
<text x="412.30" y="363.55" font-size="6.5" text-anchor="middle" fill="#333" textLength="9.6" lengthAdjust="spacingAndGlyphs">LC</text>
<text x="384.60" y="286.55" font-size="8.3" text-anchor="middle" font-weight="bold">19 ( 16 )</text>
<clipPath id="c20"><rect x="427.40" y="286.65" width="59.5" height="67"/></clipPath>
<g clip-path="url(#c20)" fill="none">
<path d="M429.4,341.7 447.9,348.3 466.3,353 484.8,345.1M429.4,343.6 447.9,349.6 466.3,353.8 484.8,343.1M429.4,342.3 447.9,350.4 466.3,353.5 484.8,343M429.4,343 447.9,347.6 466.3,353.2 484.8,342.2M429.4,335.9 447.9,346.6 466.3,351.4 484.8,341.9M429.4,337.6 447.9,346.5 466.3,350.2 484.8,340M429.4,334.2 447.9,344.8 466.3,351 484.8,338.6M429.4,337.4 447.9,344.2 466.3,350.7 484.8,339.4M429.4,334.6 447.9,345.3 466.3,347.9 484.8,339.4M429.4,333.4 447.9,344.1 466.3,349.8 484.8,338M429.4,333.4 447.9,344.7 466.3,348.6 484.8,336.3M429.4,331.3 447.9,338.3 466.3,347.2 484.8,337.8M429.4,330.3 447.9,340.7 466.3,348.4 484.8,332M429.4,328.2 447.9,339.9 466.3,347.5 484.8,334.5M429.4,327.6 447.9,340.1 466.3,346.5 484.8,331.7M429.4,329.5 447.9,338.5 466.3,344.7 484.8,333.5M429.4,327.9 447.9,338.3 466.3,344.6 484.8,333.6M429.4,324.8 447.9,334.4 466.3,343.7 484.8,328.9M429.4,320.6 447.9,337.2 466.3,344 484.8,328.3M429.4,324.5 447.9,333.7 466.3,343 484.8,326.1M429.4,320.1 447.9,333.3 466.3,341.9 484.8,327.8M429.4,320.1 447.9,332.9 466.3,341.6 484.8,325.7" stroke="#bebebe" stroke-width="0.65"/>
<path d="M429.4,320.1 447.9,350.8 466.3,350.8 484.8,289.5" stroke="#f22" stroke-width="0.8"/>
<path d="M429.4,328.8 447.9,341.6 466.3,353.3 484.8,338" stroke="#222" stroke-width="0.95"/>
</g>
<path d="M427.9 289.5V350.8M424.7 350.8H427.9M424.7 340.5H427.9M424.7 330.3H427.9M424.7 320.1H427.9M424.7 309.9H427.9M424.7 299.8H427.9M424.7 289.5H427.9" stroke="#111" stroke-width="1" fill="none"/>
<text x="420.30" y="289.55" font-size="6.6" text-anchor="middle" transform="rotate(-90 420.3 289.5)" stroke="#000" stroke-width="0.1">6</text>
<text x="420.30" y="299.75" font-size="6.6" text-anchor="middle" transform="rotate(-90 420.3 299.8)" stroke="#000" stroke-width="0.1">4</text>
<text x="420.30" y="309.95" font-size="6.6" text-anchor="middle" transform="rotate(-90 420.3 309.9)" stroke="#000" stroke-width="0.1">2</text>
<text x="420.30" y="330.35" font-size="6.6" text-anchor="middle" transform="rotate(-90 420.3 330.3)" stroke="#000" stroke-width="0.1">−2</text>
<text x="420.30" y="350.75" font-size="6.6" text-anchor="middle" transform="rotate(-90 420.3 350.8)" stroke="#000" stroke-width="0.1">−6</text>
<path d="M429.40 353.05L484.75 353.05" stroke="#1a1a1a" stroke-width="1.15"/>
<text x="429.90" y="363.55" font-size="6.5" text-anchor="middle" fill="#333" textLength="4.7" lengthAdjust="spacingAndGlyphs">H</text>
<text x="447.80" y="363.55" font-size="6.5" text-anchor="middle" fill="#333" textLength="5.1" lengthAdjust="spacingAndGlyphs">N</text>
<text x="466.40" y="363.55" font-size="6.5" text-anchor="middle" fill="#333" textLength="10.1" lengthAdjust="spacingAndGlyphs">EC</text>
<text x="484.60" y="363.55" font-size="6.5" text-anchor="middle" fill="#333" textLength="9.6" lengthAdjust="spacingAndGlyphs">LC</text>
<text x="456.90" y="286.55" font-size="8.3" text-anchor="middle" font-weight="bold">20 ( 22 )</text>
<clipPath id="c21"><rect x="499.70" y="286.65" width="59.5" height="67"/></clipPath>
<g clip-path="url(#c21)" fill="none">
<path d="M501.7,338.4 520.2,334.1 538.6,342.5 557.1,353.1M501.7,338.3 520.2,334 538.6,342.7 557.1,352.4M501.7,337 520.2,333.3 538.6,341.4 557.1,351.5M501.7,337.3 520.2,333 538.6,341.1 557.1,351.5M501.7,316.1 520.2,309.9 538.6,316.1 557.1,327.8M501.7,320.1 520.2,321.2 538.6,331.4 557.1,342.1" stroke="#bebebe" stroke-width="0.65"/>
<path d="M501.7,320.1 520.2,320.1 538.6,350.8 557.1,350.8" stroke="#f22" stroke-width="0.8"/>
<path d="M501.7,332.4 520.2,328.3 538.6,337.5 557.1,350.8" stroke="#222" stroke-width="0.95"/>
</g>
<path d="M500.2 289.5V350.8M497.0 350.8H500.2M497.0 340.5H500.2M497.0 330.3H500.2M497.0 320.1H500.2M497.0 309.9H500.2M497.0 299.8H500.2M497.0 289.5H500.2" stroke="#111" stroke-width="1" fill="none"/>
<text x="492.60" y="289.55" font-size="6.6" text-anchor="middle" transform="rotate(-90 492.6 289.5)" stroke="#000" stroke-width="0.1">6</text>
<text x="492.60" y="299.75" font-size="6.6" text-anchor="middle" transform="rotate(-90 492.6 299.8)" stroke="#000" stroke-width="0.1">4</text>
<text x="492.60" y="309.95" font-size="6.6" text-anchor="middle" transform="rotate(-90 492.6 309.9)" stroke="#000" stroke-width="0.1">2</text>
<text x="492.60" y="330.35" font-size="6.6" text-anchor="middle" transform="rotate(-90 492.6 330.3)" stroke="#000" stroke-width="0.1">−2</text>
<text x="492.60" y="350.75" font-size="6.6" text-anchor="middle" transform="rotate(-90 492.6 350.8)" stroke="#000" stroke-width="0.1">−6</text>
<path d="M501.70 353.05L557.05 353.05" stroke="#1a1a1a" stroke-width="1.15"/>
<text x="502.20" y="363.55" font-size="6.5" text-anchor="middle" fill="#333" textLength="4.7" lengthAdjust="spacingAndGlyphs">H</text>
<text x="520.10" y="363.55" font-size="6.5" text-anchor="middle" fill="#333" textLength="5.1" lengthAdjust="spacingAndGlyphs">N</text>
<text x="538.70" y="363.55" font-size="6.5" text-anchor="middle" fill="#333" textLength="10.1" lengthAdjust="spacingAndGlyphs">EC</text>
<text x="556.90" y="363.55" font-size="6.5" text-anchor="middle" fill="#333" textLength="9.6" lengthAdjust="spacingAndGlyphs">LC</text>
<text x="529.20" y="286.55" font-size="8.3" text-anchor="middle" font-weight="bold">21 ( 7 )</text>
<clipPath id="c22"><rect x="572.00" y="286.65" width="59.5" height="67"/></clipPath>
<g clip-path="url(#c22)" fill="none">
<path d="M574,353.3 592.5,332.3 610.9,330.4 629.4,353.3M574,347.8 592.5,332.5 610.9,333.6 629.4,340.5M574,345.8 592.5,315.1 610.9,330.3 629.4,340.8M574,343.3 592.5,329.1 610.9,331.6 629.4,347.5M574,353.3 592.5,331.7 610.9,327.1 629.4,338.7M574,350.4 592.5,326.5 610.9,326 629.4,330.2M574,344.5 592.5,325.6 610.9,319.4 629.4,335.4M574,343.7 592.5,329 610.9,323.2 629.4,340.9M574,340.9 592.5,321.3 610.9,318.9 629.4,336.6M574,338 592.5,319.6 610.9,323.4 629.4,319M574,336.5 592.5,318.4 610.9,322.2 629.4,339.4M574,340 592.5,320.3 610.9,312.8 629.4,318.5M574,325.2 592.5,318.7 610.9,312.1 629.4,321.2M574,331.5 592.5,320.4 610.9,310.8 629.4,317.7M574,336.4 592.5,315.7 610.9,313.9 629.4,314.5M574,329.2 592.5,318.8 610.9,302.8 629.4,321.5M574,334.2 592.5,302.7 610.9,315.1 629.4,312M574,327.6 592.5,299.9 610.9,296.9 629.4,314.8M574,323.2 592.5,307.3 610.9,294.5 629.4,306.1M574,320.7 592.5,314.1 610.9,300.4 629.4,305.1M574,319.5 592.5,296 610.9,302.6 629.4,305.3M574,318.2 592.5,293.9 610.9,295.4 629.4,309.4M574,319 592.5,300.7 610.9,293.8 629.4,300.8M574,323.3 592.5,298.4 610.9,301 629.4,295M574,318.5 592.5,290.3 610.9,293 629.4,295.9M574,318.7 592.5,294 610.9,291.2 629.4,305.2M574,314.7 592.5,294.4 610.9,300.5 629.4,294.1M574,314.1 592.5,292.1 610.9,291.7 629.4,294.7M574,311 592.5,287 610.9,290.7 629.4,288.5" stroke="#bebebe" stroke-width="0.65"/>
<path d="M574,320.1 592.5,289.5 610.9,289.5 629.4,350.8" stroke="#f22" stroke-width="0.8"/>
<path d="M574,338 592.5,320.1 610.9,300.3 629.4,323.7" stroke="#222" stroke-width="0.95"/>
</g>
<path d="M572.5 289.5V350.8M569.3 350.8H572.5M569.3 340.5H572.5M569.3 330.3H572.5M569.3 320.1H572.5M569.3 309.9H572.5M569.3 299.8H572.5M569.3 289.5H572.5" stroke="#111" stroke-width="1" fill="none"/>
<text x="564.90" y="289.55" font-size="6.6" text-anchor="middle" transform="rotate(-90 564.9 289.5)" stroke="#000" stroke-width="0.1">6</text>
<text x="564.90" y="299.75" font-size="6.6" text-anchor="middle" transform="rotate(-90 564.9 299.8)" stroke="#000" stroke-width="0.1">4</text>
<text x="564.90" y="309.95" font-size="6.6" text-anchor="middle" transform="rotate(-90 564.9 309.9)" stroke="#000" stroke-width="0.1">2</text>
<text x="564.90" y="330.35" font-size="6.6" text-anchor="middle" transform="rotate(-90 564.9 330.3)" stroke="#000" stroke-width="0.1">−2</text>
<text x="564.90" y="350.75" font-size="6.6" text-anchor="middle" transform="rotate(-90 564.9 350.8)" stroke="#000" stroke-width="0.1">−6</text>
<path d="M574.00 353.05L629.35 353.05" stroke="#1a1a1a" stroke-width="1.15"/>
<text x="574.50" y="363.55" font-size="6.5" text-anchor="middle" fill="#333" textLength="4.7" lengthAdjust="spacingAndGlyphs">H</text>
<text x="592.40" y="363.55" font-size="6.5" text-anchor="middle" fill="#333" textLength="5.1" lengthAdjust="spacingAndGlyphs">N</text>
<text x="611.00" y="363.55" font-size="6.5" text-anchor="middle" fill="#333" textLength="10.1" lengthAdjust="spacingAndGlyphs">EC</text>
<text x="629.20" y="363.55" font-size="6.5" text-anchor="middle" fill="#333" textLength="9.6" lengthAdjust="spacingAndGlyphs">LC</text>
<text x="601.50" y="286.55" font-size="8.3" text-anchor="middle" font-weight="bold">22 ( 29 )</text>
<clipPath id="c23"><rect x="644.30" y="286.65" width="59.5" height="67"/></clipPath>
<g clip-path="url(#c23)" fill="none">
<path d="M646.3,300.3 664.8,316.1 683.2,304.8 701.6,290.1M646.3,306.4 664.8,318.6 683.2,307.4 701.6,296.2M646.3,318.1 664.8,326.3 683.2,312.5 701.6,302.3M646.3,329.3 664.8,338.5 683.2,327.8 701.6,318.1M646.3,335.4 664.8,350.8 683.2,342.1 701.6,331.4M646.3,319.1 664.8,340.5 683.2,325.2 701.6,315.6" stroke="#bebebe" stroke-width="0.65"/>
<path d="M646.3,320.1 664.8,350.8 683.2,289.5 701.6,289.5" stroke="#f22" stroke-width="0.8"/>
<path d="M646.3,319.1 664.8,333.4 683.2,321.2 701.6,310.5" stroke="#222" stroke-width="0.95"/>
</g>
<path d="M644.8 289.5V350.8M641.6 350.8H644.8M641.6 340.5H644.8M641.6 330.3H644.8M641.6 320.1H644.8M641.6 309.9H644.8M641.6 299.8H644.8M641.6 289.5H644.8" stroke="#111" stroke-width="1" fill="none"/>
<text x="637.20" y="289.55" font-size="6.6" text-anchor="middle" transform="rotate(-90 637.2 289.5)" stroke="#000" stroke-width="0.1">6</text>
<text x="637.20" y="299.75" font-size="6.6" text-anchor="middle" transform="rotate(-90 637.2 299.8)" stroke="#000" stroke-width="0.1">4</text>
<text x="637.20" y="309.95" font-size="6.6" text-anchor="middle" transform="rotate(-90 637.2 309.9)" stroke="#000" stroke-width="0.1">2</text>
<text x="637.20" y="330.35" font-size="6.6" text-anchor="middle" transform="rotate(-90 637.2 330.3)" stroke="#000" stroke-width="0.1">−2</text>
<text x="637.20" y="350.75" font-size="6.6" text-anchor="middle" transform="rotate(-90 637.2 350.8)" stroke="#000" stroke-width="0.1">−6</text>
<path d="M646.30 353.05L701.65 353.05" stroke="#1a1a1a" stroke-width="1.15"/>
<text x="646.80" y="363.55" font-size="6.5" text-anchor="middle" fill="#333" textLength="4.7" lengthAdjust="spacingAndGlyphs">H</text>
<text x="664.70" y="363.55" font-size="6.5" text-anchor="middle" fill="#333" textLength="5.1" lengthAdjust="spacingAndGlyphs">N</text>
<text x="683.30" y="363.55" font-size="6.5" text-anchor="middle" fill="#333" textLength="10.1" lengthAdjust="spacingAndGlyphs">EC</text>
<text x="701.50" y="363.55" font-size="6.5" text-anchor="middle" fill="#333" textLength="9.6" lengthAdjust="spacingAndGlyphs">LC</text>
<text x="673.80" y="286.55" font-size="8.3" text-anchor="middle" font-weight="bold">23 ( 6 )</text>
<clipPath id="c24"><rect x="716.60" y="286.65" width="59.5" height="67"/></clipPath>
<g clip-path="url(#c24)" fill="none">
<path d="M718.6,330 737.1,334.6 755.5,352 774,350.8M718.6,331.7 737.1,334.3 755.5,352 774,347.7M718.6,327.4 737.1,332 755.5,350.1 774,347.2M718.6,323.9 737.1,331.5 755.5,347.1 774,343.9M718.6,323.8 737.1,328.6 755.5,343.2 774,340.8M718.6,321.7 737.1,328.2 755.5,342.4 774,338.2M718.6,317.9 737.1,328.3 755.5,343.2 774,338.1M718.6,318.7 737.1,327.7 755.5,339.4 774,336.8" stroke="#bebebe" stroke-width="0.65"/>
<path d="M718.6,320.1 737.1,350.8 755.5,350.8 774,320.1" stroke="#f22" stroke-width="0.8"/>
<path d="M718.6,319.1 737.1,328.3 755.5,338 774,336" stroke="#222" stroke-width="0.95"/>
</g>
<path d="M717.1 289.5V350.8M713.9 350.8H717.1M713.9 340.5H717.1M713.9 330.3H717.1M713.9 320.1H717.1M713.9 309.9H717.1M713.9 299.8H717.1M713.9 289.5H717.1" stroke="#111" stroke-width="1" fill="none"/>
<text x="709.50" y="289.55" font-size="6.6" text-anchor="middle" transform="rotate(-90 709.5 289.5)" stroke="#000" stroke-width="0.1">6</text>
<text x="709.50" y="299.75" font-size="6.6" text-anchor="middle" transform="rotate(-90 709.5 299.8)" stroke="#000" stroke-width="0.1">4</text>
<text x="709.50" y="309.95" font-size="6.6" text-anchor="middle" transform="rotate(-90 709.5 309.9)" stroke="#000" stroke-width="0.1">2</text>
<text x="709.50" y="330.35" font-size="6.6" text-anchor="middle" transform="rotate(-90 709.5 330.3)" stroke="#000" stroke-width="0.1">−2</text>
<text x="709.50" y="350.75" font-size="6.6" text-anchor="middle" transform="rotate(-90 709.5 350.8)" stroke="#000" stroke-width="0.1">−6</text>
<path d="M718.60 353.05L773.95 353.05" stroke="#1a1a1a" stroke-width="1.15"/>
<text x="719.10" y="363.55" font-size="6.5" text-anchor="middle" fill="#333" textLength="4.7" lengthAdjust="spacingAndGlyphs">H</text>
<text x="737.00" y="363.55" font-size="6.5" text-anchor="middle" fill="#333" textLength="5.1" lengthAdjust="spacingAndGlyphs">N</text>
<text x="755.60" y="363.55" font-size="6.5" text-anchor="middle" fill="#333" textLength="10.1" lengthAdjust="spacingAndGlyphs">EC</text>
<text x="773.80" y="363.55" font-size="6.5" text-anchor="middle" fill="#333" textLength="9.6" lengthAdjust="spacingAndGlyphs">LC</text>
<text x="746.10" y="286.55" font-size="8.3" text-anchor="middle" font-weight="bold">24 ( 8 )</text>
<clipPath id="c25"><rect x="355.10" y="372.20" width="59.5" height="67"/></clipPath>
<g clip-path="url(#c25)" fill="none">
<path d="M357.1,406.7 375.6,408.2 394,399.1 412.5,391.9M357.1,406.7 375.6,411.8 394,403.1 412.5,395M357.1,443.9 375.6,443.9 394,427.9 412.5,419" stroke="#bebebe" stroke-width="0.65"/>
<path d="M357.1,405.7 375.6,405.7 394,375.1 412.5,375.1" stroke="#f22" stroke-width="0.8"/>
<path d="M357.1,419 375.6,421.3 394,409.3 412.5,401.6" stroke="#222" stroke-width="0.95"/>
</g>
<path d="M355.6 375.1V436.3M352.4 436.3H355.6M352.4 426.1H355.6M352.4 415.9H355.6M352.4 405.7H355.6M352.4 395.5H355.6M352.4 385.3H355.6M352.4 375.1H355.6" stroke="#111" stroke-width="1" fill="none"/>
<text x="348.00" y="375.10" font-size="6.6" text-anchor="middle" transform="rotate(-90 348 375.1)" stroke="#000" stroke-width="0.1">6</text>
<text x="348.00" y="385.30" font-size="6.6" text-anchor="middle" transform="rotate(-90 348 385.3)" stroke="#000" stroke-width="0.1">4</text>
<text x="348.00" y="395.50" font-size="6.6" text-anchor="middle" transform="rotate(-90 348 395.5)" stroke="#000" stroke-width="0.1">2</text>
<text x="348.00" y="415.90" font-size="6.6" text-anchor="middle" transform="rotate(-90 348 415.9)" stroke="#000" stroke-width="0.1">−2</text>
<text x="348.00" y="436.30" font-size="6.6" text-anchor="middle" transform="rotate(-90 348 436.3)" stroke="#000" stroke-width="0.1">−6</text>
<path d="M357.10 438.60L412.45 438.60" stroke="#1a1a1a" stroke-width="1.15"/>
<text x="357.60" y="449.10" font-size="6.5" text-anchor="middle" fill="#333" textLength="4.7" lengthAdjust="spacingAndGlyphs">H</text>
<text x="375.50" y="449.10" font-size="6.5" text-anchor="middle" fill="#333" textLength="5.1" lengthAdjust="spacingAndGlyphs">N</text>
<text x="394.10" y="449.10" font-size="6.5" text-anchor="middle" fill="#333" textLength="10.1" lengthAdjust="spacingAndGlyphs">EC</text>
<text x="412.30" y="449.10" font-size="6.5" text-anchor="middle" fill="#333" textLength="9.6" lengthAdjust="spacingAndGlyphs">LC</text>
<text x="384.60" y="372.10" font-size="8.3" text-anchor="middle" font-weight="bold">25 ( 3 )</text>
<clipPath id="c26"><rect x="427.40" y="372.20" width="59.5" height="67"/></clipPath>
<g clip-path="url(#c26)" fill="none">
<path d="M429.4,405.7 447.9,426.6 466.3,436.3 484.8,436.3" stroke="#bebebe" stroke-width="0.65"/>
<path d="M429.4,405.7 447.9,436.3 466.3,436.3 484.8,436.3" stroke="#f22" stroke-width="0.8"/>
</g>
<path d="M427.9 375.1V436.3M424.7 436.3H427.9M424.7 426.1H427.9M424.7 415.9H427.9M424.7 405.7H427.9M424.7 395.5H427.9M424.7 385.3H427.9M424.7 375.1H427.9" stroke="#111" stroke-width="1" fill="none"/>
<text x="420.30" y="375.10" font-size="6.6" text-anchor="middle" transform="rotate(-90 420.3 375.1)" stroke="#000" stroke-width="0.1">6</text>
<text x="420.30" y="385.30" font-size="6.6" text-anchor="middle" transform="rotate(-90 420.3 385.3)" stroke="#000" stroke-width="0.1">4</text>
<text x="420.30" y="395.50" font-size="6.6" text-anchor="middle" transform="rotate(-90 420.3 395.5)" stroke="#000" stroke-width="0.1">2</text>
<text x="420.30" y="415.90" font-size="6.6" text-anchor="middle" transform="rotate(-90 420.3 415.9)" stroke="#000" stroke-width="0.1">−2</text>
<text x="420.30" y="436.30" font-size="6.6" text-anchor="middle" transform="rotate(-90 420.3 436.3)" stroke="#000" stroke-width="0.1">−6</text>
<path d="M429.40 438.60L484.75 438.60" stroke="#1a1a1a" stroke-width="1.15"/>
<text x="429.90" y="449.10" font-size="6.5" text-anchor="middle" fill="#333" textLength="4.7" lengthAdjust="spacingAndGlyphs">H</text>
<text x="447.80" y="449.10" font-size="6.5" text-anchor="middle" fill="#333" textLength="5.1" lengthAdjust="spacingAndGlyphs">N</text>
<text x="466.40" y="449.10" font-size="6.5" text-anchor="middle" fill="#333" textLength="10.1" lengthAdjust="spacingAndGlyphs">EC</text>
<text x="484.60" y="449.10" font-size="6.5" text-anchor="middle" fill="#333" textLength="9.6" lengthAdjust="spacingAndGlyphs">LC</text>
<text x="456.90" y="372.10" font-size="8.3" text-anchor="middle" font-weight="bold">26 ( 1 )</text>
<path d="M497.20 400.50L532.60 400.50" stroke="#000" stroke-width="1"/>
<path d="M497.20 411.50L532.60 411.50" stroke="#bebebe" stroke-width="1"/>
<path d="M497.20 422.50L532.60 422.50" stroke="#f9a59a" stroke-width="1"/>
<text x="540.20" y="401.40" font-size="10.6">Mean LRC</text>
<text x="540.20" y="413.20" font-size="10.6">Each gene LRC</text>
<text x="540.20" y="424.80" font-size="10.6">Expected transition</text>
<text x="2.60" y="193.20" font-size="16" font-weight="bold">C</text>
<clipPath id="cc"><rect x="46.5" y="217.2" width="248.0" height="229.2"/></clipPath>
<g clip-path="url(#cc)" fill="none">
<path d="M55.5,366.9 132.2,343.3 209,346.5 285.8,347.7M55.5,366.9 132.2,353.8 209,349.7 285.8,348.3M55.5,366.9 132.2,336.5 209,343.8 285.8,349.3M55.5,366.9 132.2,341.2 209,352.9 285.8,352.5M55.5,366.9 132.2,343.8 209,353 285.8,353.4M55.5,366.9 132.2,333.5 209,342.4 285.8,343.8M55.5,366.9 132.2,340.4 209,340.5 285.8,347.1M55.5,366.9 132.2,354.5 209,355.6 285.8,353M55.5,366.9 132.2,350.7 209,351.2 285.8,351.8M55.5,366.9 132.2,355.9 209,342.1 285.8,358.1M55.5,366.9 132.2,342.5 209,344 285.8,344.3M55.5,366.9 132.2,352.1 209,355 285.8,344.7M55.5,366.9 132.2,345.7 209,355.3 285.8,350.3M55.5,366.9 132.2,339.4 209,343.7 285.8,347.1M55.5,366.9 132.2,341.9 209,344.2 285.8,348.1M55.5,366.9 132.2,336.8 209,343.2 285.8,340.3M55.5,366.9 132.2,330.8 209,341.4 285.8,353M55.5,366.9 132.2,335.3 209,341.6 285.8,342.5M55.5,366.9 132.2,344.5 209,350.9 285.8,340.7M55.5,366.9 132.2,350.8 209,350.5 285.8,357.9M55.5,366.9 132.2,353.6 209,358.7 285.8,357.8M55.5,366.9 132.2,347.8 209,354.1 285.8,352.8M55.5,366.9 132.2,355.6 209,344.8 285.8,353.3M55.5,366.9 132.2,340.3 209,350.7 285.8,351.5M55.5,366.9 132.2,336.2 209,340 285.8,355.5M55.5,366.9 132.2,348.5 209,345.5 285.8,348M55.5,366.9 132.2,335 209,340 285.8,340.6M55.5,366.9 132.2,341.9 209,352.8 285.8,346.2M55.5,366.9 132.2,352.5 209,353.1 285.8,348.5M55.5,366.9 132.2,335.7 209,340.3 285.8,339.1M55.5,366.9 132.2,350.1 209,350.8 285.8,353.1M55.5,366.9 132.2,346.6 209,341 285.8,344.8M55.5,366.9 132.2,342.3 209,346.8 285.8,354.2M55.5,366.9 132.2,332.6 209,342 285.8,346.2M55.5,366.9 132.2,347.5 209,347.6 285.8,353.1M55.5,366.9 132.2,333.5 209,345.7 285.8,337.6M55.5,366.9 132.2,348.1 209,349 285.8,340.5M55.5,366.9 132.2,337.8 209,341 285.8,341.1M55.5,366.9 132.2,346.9 209,348.4 285.8,353.4M55.5,366.9 132.2,335.4 209,344 285.8,343.5M55.5,366.9 132.2,346.5 209,352.4 285.8,340.7M55.5,366.9 132.2,334.2 209,339.6 285.8,340.6M55.5,366.9 132.2,341.3 209,346.9 285.8,340.1M55.5,366.9 132.2,350.4 209,341.3 285.8,345.3M55.5,366.9 132.2,340.5 209,353.7 285.8,343.6M55.5,366.9 132.2,354.3 209,355.4 285.8,346.7M55.5,366.9 132.2,347.9 209,351.3 285.8,353.6M55.5,366.9 132.2,354 209,344.6 285.8,350M55.5,366.9 132.2,350.3 209,356.2 285.8,356.6M55.5,366.9 132.2,338.1 209,342.9 285.8,344.2M55.5,366.9 132.2,332.6 209,347.3 285.8,342.9M55.5,366.9 132.2,352.4 209,355.2 285.8,349M55.5,366.9 132.2,337.8 209,344.2 285.8,342.2M55.5,366.9 132.2,345.5 209,350.1 285.8,350.6M55.5,366.9 132.2,349.7 209,352.3 285.8,351M55.5,366.9 132.2,343.4 209,345.8 285.8,348.7M55.5,366.9 132.2,347.2 209,356.8 285.8,347.8M55.5,366.9 132.2,355.7 209,353.1 285.8,347.9M55.5,366.9 132.2,333.6 209,351 285.8,348.6M55.5,366.9 132.2,355.3 209,351.4 285.8,350.1M55.5,366.9 132.2,335.2 209,354.9 285.8,354.3M55.5,366.9 132.2,355.8 209,349.8 285.8,351.6M55.5,366.9 132.2,337.8 209,342.5 285.8,344M55.5,366.9 132.2,341.4 209,346 285.8,338.9M55.5,366.9 132.2,345.9 209,348.4 285.8,355.4M55.5,366.9 132.2,328.5 209,347.8 285.8,344.6M55.5,366.9 132.2,357 209,348.6 285.8,350.3M55.5,366.9 132.2,334.5 209,344 285.8,341.1M55.5,366.9 132.2,338.8 209,342.3 285.8,337.9M55.5,366.9 132.2,350.9 209,358.4 285.8,351.6M55.5,366.9 132.2,338.4 209,345.5 285.8,341.2M55.5,366.9 132.2,349.5 209,344.7 285.8,343M55.5,366.9 132.2,343 209,354.8 285.8,350.5M55.5,366.9 132.2,342.9 209,341.8 285.8,344.9M55.5,366.9 132.2,342.7 209,353.3 285.8,357.2M55.5,366.9 132.2,352.4 209,351.8 285.8,345.2M55.5,366.9 132.2,348.5 209,355.2 285.8,355.6M55.5,366.9 132.2,341.4 209,345.1 285.8,346M55.5,366.9 132.2,343.7 209,350.7 285.8,348.9M55.5,366.9 132.2,336 209,340.8 285.8,344.7M55.5,366.9 132.2,343 209,351.7 285.8,352.2M55.5,366.9 132.2,339.4 209,339.6 285.8,341.1M55.5,366.9 132.2,349.5 209,350.4 285.8,355.7M55.5,366.9 132.2,336.8 209,347.4 285.8,346.1M55.5,366.9 132.2,335.1 209,345.2 285.8,338.7M55.5,366.9 132.2,343.7 209,345.5 285.8,349.6M55.5,366.9 132.2,340.7 209,345.5 285.8,343M55.5,366.9 132.2,350.4 209,353 285.8,349.3M55.5,366.9 132.2,329.8 209,345.4 285.8,346.8M55.5,366.9 132.2,352.1 209,348.4 285.8,346.2M55.5,366.9 132.2,353.6 209,342.1 285.8,356.9M55.5,366.9 132.2,353.6 209,356 285.8,348.1M55.5,366.9 132.2,344 209,348.3 285.8,349.6M55.5,366.9 132.2,356.5 209,352.8 285.8,350.4M55.5,366.9 132.2,352.5 209,355.9 285.8,351.1M55.5,366.9 132.2,335.2 209,342.2 285.8,344.8M55.5,366.9 132.2,348.2 209,346.1 285.8,351.4M55.5,366.9 132.2,336.6 209,342.5 285.8,346.6M55.5,366.9 132.2,342.2 209,353.6 285.8,355.6M55.5,366.9 132.2,352.5 209,351 285.8,349.9M55.5,366.9 132.2,342.2 209,356.4 285.8,344M55.5,366.9 132.2,332.5 209,347.6 285.8,342.7M55.5,366.9 132.2,357.1 209,356.8 285.8,354.4M55.5,366.9 132.2,349.4 209,349.4 285.8,352.2M55.5,366.9 132.2,341 209,344.2 285.8,344.5M55.5,366.9 132.2,344.2 209,350.2 285.8,357.9M55.5,366.9 132.2,342.3 209,346.2 285.8,351.8M55.5,366.9 132.2,344 209,351.7 285.8,341.6M55.5,366.9 132.2,351.2 209,356.7 285.8,353.2M55.5,366.9 132.2,336.4 209,345.7 285.8,342.3M55.5,366.9 132.2,345.6 209,346.1 285.8,351.6M55.5,366.9 132.2,336.2 209,347.3 285.8,343.8M55.5,366.9 132.2,347.3 209,346.6 285.8,349M55.5,366.9 132.2,336.6 209,342 285.8,353.4M55.5,366.9 132.2,344.4 209,346.2 285.8,341M55.5,366.9 132.2,332.6 209,347 285.8,340.6M55.5,366.9 132.2,340.1 209,351 285.8,356.3M55.5,366.9 132.2,347.2 209,354.5 285.8,349M55.5,366.9 132.2,334.3 209,344.7 285.8,346M55.5,366.9 132.2,346 209,356.8 285.8,348.2M55.5,366.9 132.2,338.5 209,343.7 285.8,341.2M55.5,366.9 132.2,338.7 209,345.3 285.8,341.3M55.5,366.9 132.2,346.7 209,346.8 285.8,341M55.5,366.9 132.2,348.4 209,346.1 285.8,354.2M55.5,366.9 132.2,353.1 209,352 285.8,352.2M55.5,366.9 132.2,345.3 209,349.2 285.8,351.9M55.5,366.9 132.2,341 209,353.5 285.8,346.3M55.5,366.9 132.2,350.2 209,355.6 285.8,353.1M55.5,366.9 132.2,337.8 209,354.6 285.8,354.2M55.5,366.9 132.2,340 209,345.6 285.8,351.9M55.5,366.9 132.2,346.5 209,353.9 285.8,352.6M55.5,366.9 132.2,350.6 209,361.6 285.8,356.4M55.5,366.9 132.2,332.2 209,340.8 285.8,339.9M55.5,366.9 132.2,336.3 209,344.8 285.8,341.1M55.5,366.9 132.2,355 209,359.4 285.8,344.2M55.5,366.9 132.2,344.5 209,351.9 285.8,350.9M55.5,366.9 132.2,352.9 209,349.3 285.8,350.1M55.5,366.9 132.2,337.3 209,346.9 285.8,349M55.5,366.9 132.2,333 209,338 285.8,341.3M55.5,366.9 132.2,336.5 209,343.3 285.8,339.9M55.5,366.9 132.2,338 209,337.2 285.8,339.7M55.5,366.9 132.2,337.1 209,346.8 285.8,342.1M55.5,366.9 132.2,348.9 209,354.7 285.8,348.1M55.5,366.9 132.2,342.4 209,352 285.8,348.1M55.5,366.9 132.2,352.8 209,354 285.8,349.2M55.5,366.9 132.2,338.8 209,348.5 285.8,354.6M55.5,366.9 132.2,348.3 209,347.1 285.8,355.2M55.5,366.9 132.2,350.3 209,356.7 285.8,355.2M55.5,366.9 132.2,349.2 209,355.3 285.8,356.1M55.5,366.9 132.2,353.3 209,350.5 285.8,343.8M55.5,366.9 132.2,343.6 209,340 285.8,348.8M55.5,366.9 132.2,349.5 209,354.2 285.8,353.9M55.5,366.9 132.2,352.3 209,350.8 285.8,353M55.5,366.9 132.2,337.3 209,351.3 285.8,343.5M55.5,366.9 132.2,335.6 209,351.7 285.8,343.6M55.5,366.9 132.2,333.2 209,340.6 285.8,348.6M55.5,366.9 132.2,336.6 209,349.9 285.8,348M55.5,366.9 132.2,342.3 209,349.8 285.8,351.7M55.5,366.9 132.2,349.7 209,346.3 285.8,356.6M55.5,366.9 132.2,342.4 209,346.3 285.8,346M55.5,366.9 132.2,355.7 209,358.2 285.8,358.4M55.5,366.9 132.2,348.5 209,349.1 285.8,350.7M55.5,366.9 132.2,332.3 209,344.3 285.8,339.2M55.5,366.9 132.2,350 209,351 285.8,348.1M55.5,366.9 132.2,334.8 209,352.8 285.8,342.4M55.5,366.9 132.2,341.2 209,351.4 285.8,347.2M55.5,366.9 132.2,344.2 209,356.6 285.8,351.6M55.5,366.9 132.2,333.5 209,342.2 285.8,348.4M55.5,366.9 132.2,351.3 209,348.7 285.8,346.9M55.5,366.9 132.2,348.8 209,343.5 285.8,345.3M55.5,366.9 132.2,352 209,354.8 285.8,351.7M55.5,366.9 132.2,352.1 209,344 285.8,350.3M55.5,366.9 132.2,355.2 209,353.5 285.8,347.7M55.5,366.9 132.2,343 209,343.9 285.8,340.2M55.5,366.9 132.2,345.3 209,354.8 285.8,354.9M55.5,366.9 132.2,333.4 209,343 285.8,339.7M55.5,366.9 132.2,342.9 209,355.9 285.8,348.3M55.5,366.9 132.2,343.9 209,354.7 285.8,352.4M55.5,366.9 132.2,348.7 209,356 285.8,358.1M55.5,366.9 132.2,342 209,358.5 285.8,350.8M55.5,366.9 132.2,336.2 209,338.2 285.8,344.3M55.5,366.9 132.2,339.3 209,348.6 285.8,349M55.5,366.9 132.2,342.3 209,345 285.8,344.3M55.5,366.9 132.2,345.9 209,350 285.8,349.7M55.5,366.9 132.2,329.7 209,341 285.8,343.1M55.5,366.9 132.2,352.3 209,353.6 285.8,351.8M55.5,366.9 132.2,337.9 209,345.5 285.8,339.2M55.5,366.9 132.2,334.9 209,342.1 285.8,341.8M55.5,366.9 132.2,336 209,347.3 285.8,347M55.5,366.9 132.2,347.1 209,353 285.8,355.6M55.5,366.9 132.2,342.8 209,346.5 285.8,341.6M55.5,366.9 132.2,337.6 209,345.2 285.8,343.5M55.5,366.9 132.2,337.2 209,357.9 285.8,349.2M55.5,366.9 132.2,350.3 209,353.9 285.8,348.5M55.5,366.9 132.2,347.3 209,345.5 285.8,349.7M55.5,366.9 132.2,354.6 209,352.2 285.8,349.1M55.5,366.9 132.2,347.1 209,354.5 285.8,352.9M55.5,366.9 132.2,346.4 209,346.8 285.8,348.4M55.5,366.9 132.2,343.4 209,352.2 285.8,345.8M55.5,366.9 132.2,341.2 209,345.6 285.8,347.1M55.5,366.9 132.2,348.2 209,342.2 285.8,337.9M55.5,366.9 132.2,340.2 209,352.5 285.8,359M55.5,366.9 132.2,349.7 209,348.2 285.8,344.6M55.5,366.9 132.2,331.8 209,343.7 285.8,345.3M55.5,366.9 132.2,354.5 209,348.1 285.8,353.1M55.5,366.9 132.2,355.6 209,350 285.8,353.9M55.5,366.9 132.2,332 209,342.3 285.8,339.7M55.5,366.9 132.2,346.7 209,356.6 285.8,359.7M55.5,366.9 132.2,352 209,353.1 285.8,352.5M55.5,366.9 132.2,338.1 209,345.2 285.8,341.7M55.5,366.9 132.2,340.9 209,345.8 285.8,348.5M55.5,366.9 132.2,347.5 209,347.7 285.8,351M55.5,366.9 132.2,334.6 209,338.7 285.8,342.9M55.5,366.9 132.2,348.9 209,352 285.8,353.7M55.5,366.9 132.2,348.5 209,348.3 285.8,343.4M55.5,366.9 132.2,335.5 209,352.4 285.8,342.5M55.5,366.9 132.2,339.8 209,339.6 285.8,344.4M55.5,366.9 132.2,336 209,347.1 285.8,341.9M55.5,366.9 132.2,352.7 209,346.9 285.8,354.7M55.5,366.9 132.2,343 209,341.3 285.8,343.9M55.5,366.9 132.2,348.7 209,354.3 285.8,344.6M55.5,366.9 132.2,335.1 209,350.6 285.8,350.9M55.5,366.9 132.2,343.7 209,339.4 285.8,345.9M55.5,366.9 132.2,349 209,343.9 285.8,341.7M55.5,366.9 132.2,350.1 209,352.7 285.8,350.2M55.5,366.9 132.2,339.4 209,344.9 285.8,346.7M55.5,366.9 132.2,336.5 209,346.4 285.8,350.5M55.5,366.9 132.2,351.8 209,356.5 285.8,359.8M55.5,366.9 132.2,347.2 209,352 285.8,342.3M55.5,366.9 132.2,357.1 209,356.4 285.8,353M55.5,366.9 132.2,352.9 209,350.4 285.8,353.2M55.5,366.9 132.2,344.9 209,344.4 285.8,352.7M55.5,366.9 132.2,353.4 209,353.1 285.8,358.5M55.5,366.9 132.2,334.3 209,347 285.8,346.1M55.5,366.9 132.2,346.3 209,346.9 285.8,348.2M55.5,366.9 132.2,355.1 209,355.6 285.8,353.2M55.5,366.9 132.2,333.5 209,347.2 285.8,345.8M55.5,366.9 132.2,353.5 209,341.6 285.8,352.6M55.5,366.9 132.2,333.7 209,342.1 285.8,343.2M55.5,366.9 132.2,333.7 209,346.8 285.8,346.1" stroke="#808080" stroke-opacity="0.17" stroke-width="0.75"/>
<path d="M55.5,366.9 132.2,314.7 209,319.1 285.8,315.2M55.5,366.9 132.2,324.7 209,340.6 285.8,337.5M55.5,366.9 132.2,323.6 209,322.1 285.8,325.8M55.5,366.9 132.2,315.3 209,324.2 285.8,316.2M55.5,366.9 132.2,321.6 209,320.2 285.8,316.4M55.5,366.9 132.2,333.9 209,331 285.8,317.3M55.5,366.9 132.2,332.6 209,338.2 285.8,338.2M55.5,366.9 132.2,315.1 209,315 285.8,316M55.5,366.9 132.2,337.1 209,325.6 285.8,334.2M55.5,366.9 132.2,335.1 209,340.4 285.8,332M55.5,366.9 132.2,334.1 209,332.6 285.8,327.1M55.5,366.9 132.2,312.5 209,325.4 285.8,316M55.5,366.9 132.2,317.3 209,332 285.8,324.3M55.5,366.9 132.2,318 209,314.4 285.8,320.8M55.5,366.9 132.2,332.7 209,325.2 285.8,334.4M55.5,366.9 132.2,329.3 209,343.4 285.8,339.1M55.5,366.9 132.2,315.9 209,313.1 285.8,317.3M55.5,366.9 132.2,324.3 209,322.2 285.8,327.4M55.5,366.9 132.2,312.8 209,326.4 285.8,321.7M55.5,366.9 132.2,326.5 209,321.7 285.8,324.7M55.5,366.9 132.2,329.5 209,331.9 285.8,335.3M55.5,366.9 132.2,320.5 209,332.4 285.8,335.6M55.5,366.9 132.2,326.8 209,323.5 285.8,328.4M55.5,366.9 132.2,333.2 209,332.6 285.8,335M55.5,366.9 132.2,314.2 209,326.6 285.8,317.9M55.5,366.9 132.2,334.2 209,341.3 285.8,334.2M55.5,366.9 132.2,323.9 209,329.4 285.8,337.2M55.5,366.9 132.2,326.9 209,330.5 285.8,331.2M55.5,366.9 132.2,326.9 209,332.1 285.8,330.5M55.5,366.9 132.2,323 209,340.2 285.8,340M55.5,366.9 132.2,316.9 209,336.3 285.8,326.6M55.5,366.9 132.2,328.5 209,324.1 285.8,326.8M55.5,366.9 132.2,318.4 209,322.1 285.8,323.3M55.5,366.9 132.2,324.9 209,322.9 285.8,319.9M55.5,366.9 132.2,336.2 209,334.4 285.8,339.2M55.5,366.9 132.2,325.4 209,335.4 285.8,319.7M55.5,366.9 132.2,328.4 209,316.8 285.8,328.4M55.5,366.9 132.2,318.7 209,339.9 285.8,325.7M55.5,366.9 132.2,319.8 209,317.5 285.8,307.9M55.5,366.9 132.2,316.7 209,312 285.8,333.4M55.5,366.9 132.2,328.3 209,338.5 285.8,337.3M55.5,366.9 132.2,324.6 209,331.4 285.8,334.2M55.5,366.9 132.2,331.9 209,331 285.8,330.1M55.5,366.9 132.2,326.2 209,331.2 285.8,324.7M55.5,366.9 132.2,319.2 209,322.5 285.8,314.6M55.5,366.9 132.2,318.6 209,320.4 285.8,310.7M55.5,366.9 132.2,331.2 209,337.8 285.8,318M55.5,366.9 132.2,332.7 209,339.4 285.8,323.5M55.5,366.9 132.2,310.9 209,326.3 285.8,311M55.5,366.9 132.2,316.3 209,329.4 285.8,326.2M55.5,366.9 132.2,326.8 209,333.5 285.8,335.9M55.5,366.9 132.2,334.3 209,332.5 285.8,325.2M55.5,366.9 132.2,316.6 209,316 285.8,324.9M55.5,366.9 132.2,330.4 209,323.1 285.8,320.1M55.5,366.9 132.2,327.4 209,328.2 285.8,334.5M55.5,366.9 132.2,324.5 209,319.9 285.8,311.9M55.5,366.9 132.2,317.7 209,322.7 285.8,309.3M55.5,366.9 132.2,328.4 209,342.9 285.8,322.5M55.5,366.9 132.2,319.3 209,321.6 285.8,316.2M55.5,366.9 132.2,330.8 209,339.2 285.8,328.5M55.5,366.9 132.2,325.6 209,332.6 285.8,331.4M55.5,366.9 132.2,325.9 209,316.2 285.8,317M55.5,366.9 132.2,327.4 209,322.9 285.8,323.2M55.5,366.9 132.2,331.8 209,320.6 285.8,331.8M55.5,366.9 132.2,333.8 209,343.9 285.8,333M55.5,366.9 132.2,325.8 209,322.6 285.8,311.4M55.5,366.9 132.2,326.9 209,330.3 285.8,331.1M55.5,366.9 132.2,321.8 209,313.4 285.8,320.1M55.5,366.9 132.2,336.4 209,331.9 285.8,338M55.5,366.9 132.2,319.3 209,317.8 285.8,316.3M55.5,366.9 132.2,316.4 209,316 285.8,340M55.5,366.9 132.2,327 209,319.2 285.8,312.8M55.5,366.9 132.2,317.5 209,320.8 285.8,318.3M55.5,366.9 132.2,325 209,318.5 285.8,315.5M55.5,366.9 132.2,328.6 209,340.7 285.8,331.4M55.5,366.9 132.2,317.5 209,321.4 285.8,321.7M55.5,366.9 132.2,334 209,332.6 285.8,326.9M55.5,366.9 132.2,324.3 209,324.3 285.8,328.9M55.5,366.9 132.2,318 209,332.2 285.8,318.6M55.5,366.9 132.2,326.3 209,326 285.8,315.1M55.5,366.9 132.2,315.1 209,327.7 285.8,329.7M55.5,366.9 132.2,335.1 209,330 285.8,338.5M55.5,366.9 132.2,317.6 209,322.4 285.8,316.2M55.5,366.9 132.2,324.4 209,315.6 285.8,313.8M55.5,366.9 132.2,321.6 209,323.3 285.8,319.3M55.5,366.9 132.2,322 209,325.3 285.8,322.3M55.5,366.9 132.2,322.5 209,318.9 285.8,314M55.5,366.9 132.2,322.5 209,315.4 285.8,321.8M55.5,366.9 132.2,319.9 209,317.1 285.8,310.4M55.5,366.9 132.2,331.8 209,337.4 285.8,339.3M55.5,366.9 132.2,334 209,328.1 285.8,329M55.5,366.9 132.2,326 209,318.7 285.8,327.7M55.5,366.9 132.2,329.7 209,340.1 285.8,325.3M55.5,366.9 132.2,319.5 209,334.6 285.8,307.8M55.5,366.9 132.2,326.9 209,327.9 285.8,308.1M55.5,366.9 132.2,337 209,325.2 285.8,329.7M55.5,366.9 132.2,326.4 209,331.2 285.8,332.4M55.5,366.9 132.2,323.7 209,321.6 285.8,327.3M55.5,366.9 132.2,317.2 209,335.4 285.8,323.5M55.5,366.9 132.2,321.9 209,314.8 285.8,313M55.5,366.9 132.2,326.3 209,336.7 285.8,328.9M55.5,366.9 132.2,320.8 209,334.5 285.8,328.6M55.5,366.9 132.2,329.7 209,332.3 285.8,337.8M55.5,366.9 132.2,314.2 209,316.8 285.8,317.2M55.5,366.9 132.2,330.8 209,338 285.8,341.1M55.5,366.9 132.2,325.9 209,331.4 285.8,312.4M55.5,366.9 132.2,316.2 209,326.8 285.8,319.3M55.5,366.9 132.2,313.5 209,330 285.8,324.9M55.5,366.9 132.2,315.3 209,326.8 285.8,308.3M55.5,366.9 132.2,325.7 209,342.4 285.8,338.1M55.5,366.9 132.2,335.2 209,340 285.8,335.9M55.5,366.9 132.2,319.2 209,330.8 285.8,326.4M55.5,366.9 132.2,323 209,318.7 285.8,320.1M55.5,366.9 132.2,329.8 209,339.4 285.8,337.1M55.5,366.9 132.2,318.5 209,327.7 285.8,315M55.5,366.9 132.2,332.5 209,319.1 285.8,327.8M55.5,366.9 132.2,317.4 209,322.4 285.8,309.4M55.5,366.9 132.2,325.7 209,331.2 285.8,324.5M55.5,366.9 132.2,326.2 209,333.5 285.8,332.9M55.5,366.9 132.2,330.3 209,334.6 285.8,333.7M55.5,366.9 132.2,318.4 209,316.7 285.8,317.4M55.5,366.9 132.2,327 209,341.7 285.8,325.2M55.5,366.9 132.2,320.9 209,326.6 285.8,324.9M55.5,366.9 132.2,326.7 209,322.6 285.8,316.7M55.5,366.9 132.2,327.3 209,336.4 285.8,324.3M55.5,366.9 132.2,324.5 209,318.8 285.8,316.1M55.5,366.9 132.2,326 209,335.8 285.8,334.1M55.5,366.9 132.2,328.6 209,337.2 285.8,336.8M55.5,366.9 132.2,334.2 209,313.7 285.8,311.6M55.5,366.9 132.2,325.3 209,323.4 285.8,331.2M55.5,366.9 132.2,321 209,324.8 285.8,333.4M55.5,366.9 132.2,323.4 209,327.6 285.8,314.6M55.5,366.9 132.2,324.2 209,325.6 285.8,330.1M55.5,366.9 132.2,322.9 209,320.5 285.8,328.9M55.5,366.9 132.2,337.8 209,340.9 285.8,340M55.5,366.9 132.2,324.5 209,339.6 285.8,338.4M55.5,366.9 132.2,338.2 209,325.1 285.8,333.5M55.5,366.9 132.2,313.8 209,326.8 285.8,312M55.5,366.9 132.2,323.9 209,328.1 285.8,342.4M55.5,366.9 132.2,316.4 209,324.4 285.8,312.8" stroke="#ff0000" stroke-opacity="0.055" stroke-width="0.75"/>
<path d="M55.5,366.9 132.2,327.7 209,338.2 285.8,335.7M55.5,366.9 132.2,322 209,335.6 285.8,338.2M55.5,366.9 132.2,324.6 209,329.9 285.8,333.4M55.5,366.9 132.2,331.8 209,331.5 285.8,335.7M55.5,366.9 132.2,319.7 209,333.9 285.8,331.7M55.5,366.9 132.2,328.5 209,337.5 285.8,339.4M55.5,366.9 132.2,332.8 209,337.8 285.8,339.8M55.5,366.9 132.2,327.9 209,337.8 285.8,339M55.5,366.9 132.2,329.5 209,341.3 285.8,336.1M55.5,366.9 132.2,327.7 209,334.9 285.8,336.8M55.5,366.9 132.2,330.9 209,342.1 285.8,342.1M55.5,366.9 132.2,328.4 209,331.3 285.8,332.5M55.5,366.9 132.2,322.5 209,336.6 285.8,332.5M55.5,366.9 132.2,329.1 209,340.2 285.8,335.9M55.5,366.9 132.2,331.9 209,344.5 285.8,334.5M55.5,366.9 132.2,322.5 209,335.9 285.8,331.7M55.5,366.9 132.2,332.8 209,337.5 285.8,337.5M55.5,366.9 132.2,320.8 209,332.7 285.8,332.7M55.5,366.9 132.2,328.9 209,337.7 285.8,334.2M55.5,366.9 132.2,323.9 209,335.9 285.8,335.5M55.5,366.9 132.2,328.5 209,336.8 285.8,338M55.5,366.9 132.2,317.8 209,333 285.8,332.8M55.5,366.9 132.2,332.7 209,333.8 285.8,338.8M55.5,366.9 132.2,326.4 209,337.1 285.8,336.3M55.5,366.9 132.2,324.7 209,331.6 285.8,333.7M55.5,366.9 132.2,326.4 209,337.9 285.8,333.2M55.5,366.9 132.2,325.2 209,339.4 285.8,335.3M55.5,366.9 132.2,330.2 209,336.3 285.8,340.8M55.5,366.9 132.2,334.9 209,339.4 285.8,342.9M55.5,366.9 132.2,323 209,333.1 285.8,331M55.5,366.9 132.2,325.6 209,341.8 285.8,337.2M55.5,366.9 132.2,323 209,337.3 285.8,335.6M55.5,366.9 132.2,332.3 209,332.4 285.8,335.5M55.5,366.9 132.2,320 209,340.5 285.8,333.4M55.5,366.9 132.2,329 209,337.5 285.8,334.7M55.5,366.9 132.2,325.1 209,336.7 285.8,341.7M55.5,366.9 132.2,321.8 209,327 285.8,335.5M55.5,366.9 132.2,334.1 209,337.1 285.8,338.4M55.5,366.9 132.2,321.7 209,336.7 285.8,332.1M55.5,366.9 132.2,318.5 209,340.5 285.8,333.4M55.5,366.9 132.2,334 209,337.7 285.8,332.8M55.5,366.9 132.2,324.4 209,331.4 285.8,329.3M55.5,366.9 132.2,319.9 209,334 285.8,337.3M55.5,366.9 132.2,331 209,332.4 285.8,333.8M55.5,366.9 132.2,337 209,339.5 285.8,339.7M55.5,366.9 132.2,324.3 209,330.3 285.8,336M55.5,366.9 132.2,323.9 209,341 285.8,333.3M55.5,366.9 132.2,334.7 209,337.3 285.8,333.4M55.5,366.9 132.2,321.7 209,334.9 285.8,333M55.5,366.9 132.2,325.9 209,330.8 285.8,332.7M55.5,366.9 132.2,318.9 209,340.1 285.8,335.2M55.5,366.9 132.2,326.5 209,329.6 285.8,343M55.5,366.9 132.2,328.4 209,338.9 285.8,339.4M55.5,366.9 132.2,329.8 209,338.6 285.8,341.9M55.5,366.9 132.2,328.7 209,334.4 285.8,337.3M55.5,366.9 132.2,331.3 209,337 285.8,336.5M55.5,366.9 132.2,333.6 209,341.4 285.8,339.5M55.5,366.9 132.2,324.3 209,336.3 285.8,332.3M55.5,366.9 132.2,323.8 209,344.9 285.8,336.8M55.5,366.9 132.2,332.6 209,339.1 285.8,334.1M55.5,366.9 132.2,333.5 209,336.9 285.8,336.9M55.5,366.9 132.2,325.3 209,339.4 285.8,335.3M55.5,366.9 132.2,333.9 209,338.3 285.8,340.5M55.5,366.9 132.2,320 209,333.5 285.8,333.4M55.5,366.9 132.2,331.8 209,338.1 285.8,340.1M55.5,366.9 132.2,319.9 209,335 285.8,334M55.5,366.9 132.2,323.8 209,336.1 285.8,332.7M55.5,366.9 132.2,331.3 209,336.8 285.8,338.4M55.5,366.9 132.2,327.2 209,332.1 285.8,333.3M55.5,366.9 132.2,330.5 209,336.7 285.8,339.1M55.5,366.9 132.2,325.4 209,336.3 285.8,326.7M55.5,366.9 132.2,326.9 209,334.8 285.8,335.2M55.5,366.9 132.2,332.5 209,339.8 285.8,339.9M55.5,366.9 132.2,322 209,336.8 285.8,330.8M55.5,366.9 132.2,331 209,341.7 285.8,341.8M55.5,366.9 132.2,332.9 209,337 285.8,336.8M55.5,366.9 132.2,324.7 209,332.7 285.8,339.3M55.5,366.9 132.2,329.5 209,332.5 285.8,331M55.5,366.9 132.2,327.2 209,341.5 285.8,338.7M55.5,366.9 132.2,320.5 209,330.2 285.8,328.4M55.5,366.9 132.2,322.3 209,334.5 285.8,338.6M55.5,366.9 132.2,328.9 209,336.8 285.8,334M55.5,366.9 132.2,336.7 209,337.5 285.8,336M55.5,366.9 132.2,327.4 209,333.6 285.8,333.3M55.5,366.9 132.2,332.3 209,334.3 285.8,335.9M55.5,366.9 132.2,322.5 209,334.7 285.8,334.3M55.5,366.9 132.2,324.3 209,334.9 285.8,327.8M55.5,366.9 132.2,325.2 209,330.4 285.8,329.6M55.5,366.9 132.2,325.4 209,337 285.8,334.9M55.5,366.9 132.2,328.2 209,341 285.8,341.2M55.5,366.9 132.2,319.7 209,336.7 285.8,338M55.5,366.9 132.2,323 209,333.4 285.8,330.1M55.5,366.9 132.2,327.4 209,338 285.8,334.5M55.5,366.9 132.2,327.3 209,338.2 285.8,337.5M55.5,366.9 132.2,327.2 209,338.7 285.8,334.2M55.5,366.9 132.2,326.3 209,337.2 285.8,336.5M55.5,366.9 132.2,329.3 209,337.8 285.8,335.6M55.5,366.9 132.2,328.2 209,336.1 285.8,339.4M55.5,366.9 132.2,337.6 209,341.4 285.8,341.9M55.5,366.9 132.2,334.8 209,338.7 285.8,340.7M55.5,366.9 132.2,323.8 209,336.5 285.8,336.5M55.5,366.9 132.2,319.9 209,330.2 285.8,333.6M55.5,366.9 132.2,328.5 209,337.7 285.8,338.5M55.5,366.9 132.2,324.3 209,338.1 285.8,339.7M55.5,366.9 132.2,329.8 209,333.8 285.8,327.2M55.5,366.9 132.2,322.1 209,336.4 285.8,333M55.5,366.9 132.2,331.3 209,333.9 285.8,337.3M55.5,366.9 132.2,337 209,336.3 285.8,342M55.5,366.9 132.2,324.1 209,333.5 285.8,335M55.5,366.9 132.2,333 209,338.7 285.8,341.3M55.5,366.9 132.2,320.4 209,333.5 285.8,331.9M55.5,366.9 132.2,319.4 209,335.1 285.8,333.7M55.5,366.9 132.2,324.6 209,329.9 285.8,332.3M55.5,366.9 132.2,322 209,336.6 285.8,333.9M55.5,366.9 132.2,323.4 209,333.6 285.8,335.5M55.5,366.9 132.2,327.9 209,339.9 285.8,336.4M55.5,366.9 132.2,325.2 209,333.5 285.8,333.4M55.5,366.9 132.2,329 209,333.8 285.8,334.6M55.5,366.9 132.2,324.3 209,333.1 285.8,337.1M55.5,366.9 132.2,328.4 209,341.9 285.8,334.7" stroke="#ff0000" stroke-opacity="0.12" stroke-width="0.75"/>
<path d="M55.5,366.9 132.2,355.9 209,355.9 285.8,358.1M55.5,366.9 132.2,344.6 209,353.9 285.8,350.4M55.5,366.9 132.2,356.8 209,358.8 285.8,355M55.5,366.9 132.2,349.2 209,353.9 285.8,351.5M55.5,366.9 132.2,354.1 209,358.8 285.8,358.1M55.5,366.9 132.2,343.4 209,359.1 285.8,352.2M55.5,366.9 132.2,348.2 209,353.6 285.8,348.7M55.5,366.9 132.2,349.1 209,351.9 285.8,348.6M55.5,366.9 132.2,358.4 209,358.1 285.8,357.6M55.5,366.9 132.2,355.1 209,365.4 285.8,364.2M55.5,366.9 132.2,351.5 209,357.7 285.8,357.7M55.5,366.9 132.2,360.2 209,362.2 285.8,358.5M55.5,366.9 132.2,353.5 209,356.1 285.8,358.1M55.5,366.9 132.2,347.8 209,351.7 285.8,362M55.5,366.9 132.2,345.8 209,356.5 285.8,357M55.5,366.9 132.2,356.2 209,352.7 285.8,353.5M55.5,366.9 132.2,358.8 209,364.3 285.8,361.9M55.5,366.9 132.2,358.4 209,360.6 285.8,356.1M55.5,366.9 132.2,360.2 209,364.7 285.8,358.7M55.5,366.9 132.2,354.2 209,356.2 285.8,356.3M55.5,366.9 132.2,356.5 209,360.7 285.8,356.2M55.5,366.9 132.2,346.4 209,354.9 285.8,354.3M55.5,366.9 132.2,362.4 209,362.9 285.8,359.1M55.5,366.9 132.2,354.3 209,358.6 285.8,354.7M55.5,366.9 132.2,362.1 209,361.5 285.8,364.1M55.5,366.9 132.2,357.3 209,360.9 285.8,349.9M55.5,366.9 132.2,358.6 209,363 285.8,360.5M55.5,366.9 132.2,347.3 209,348.8 285.8,351.3M55.5,366.9 132.2,358.7 209,354 285.8,358.8M55.5,366.9 132.2,361.5 209,356.4 285.8,351.6M55.5,366.9 132.2,349.1 209,348.8 285.8,354.1M55.5,366.9 132.2,356.1 209,357.5 285.8,361.2M55.5,366.9 132.2,360 209,359.5 285.8,360.3M55.5,366.9 132.2,361.4 209,358.5 285.8,358.9M55.5,366.9 132.2,349.8 209,355.6 285.8,346.4M55.5,366.9 132.2,361.3 209,356.2 285.8,359.3M55.5,366.9 132.2,354.9 209,359 285.8,357M55.5,366.9 132.2,354.6 209,357.6 285.8,356.7M55.5,366.9 132.2,362.7 209,361.5 285.8,359.7M55.5,366.9 132.2,347.4 209,353.2 285.8,350.8M55.5,366.9 132.2,352.3 209,356.5 285.8,359.7M55.5,366.9 132.2,365.8 209,356.9 285.8,355.9M55.5,366.9 132.2,356.6 209,358.6 285.8,362.9M55.5,366.9 132.2,362.8 209,353.3 285.8,351.7M55.5,366.9 132.2,351.5 209,353.3 285.8,348M55.5,366.9 132.2,359.1 209,354.1 285.8,358.6M55.5,366.9 132.2,357.3 209,358.7 285.8,363.6M55.5,366.9 132.2,359.9 209,350.6 285.8,357.9M55.5,366.9 132.2,353.2 209,360 285.8,352.1M55.5,366.9 132.2,356.8 209,353.8 285.8,350.3M55.5,366.9 132.2,356.8 209,359.4 285.8,356.1M55.5,366.9 132.2,359.7 209,360.2 285.8,363.2M55.5,366.9 132.2,359.2 209,359 285.8,362.3M55.5,366.9 132.2,358.7 209,350.6 285.8,351.4M55.5,366.9 132.2,347.6 209,352.8 285.8,357.4M55.5,366.9 132.2,362.5 209,357.4 285.8,359.2M55.5,366.9 132.2,359.3 209,361.1 285.8,360.5M55.5,366.9 132.2,359.6 209,362.1 285.8,358.6M55.5,366.9 132.2,359.7 209,359.2 285.8,354.7M55.5,366.9 132.2,348 209,350.9 285.8,351.5M55.5,366.9 132.2,347.7 209,358.1 285.8,355.7M55.5,366.9 132.2,345.1 209,354 285.8,352.3M55.5,366.9 132.2,360.4 209,360.4 285.8,358.3M55.5,366.9 132.2,357.4 209,360.6 285.8,351.5M55.5,366.9 132.2,352.6 209,352.9 285.8,350.7M55.5,366.9 132.2,352.1 209,364.1 285.8,349.1M55.5,366.9 132.2,356.6 209,360.3 285.8,352.1M55.5,366.9 132.2,349.9 209,352.9 285.8,356.6M55.5,366.9 132.2,353.2 209,352.1 285.8,351.5M55.5,366.9 132.2,354.2 209,359.7 285.8,355.5M55.5,366.9 132.2,348.2 209,356.6 285.8,350.5M55.5,366.9 132.2,347 209,358.7 285.8,356.7M55.5,366.9 132.2,361.5 209,366.1 285.8,361M55.5,366.9 132.2,356.8 209,360.9 285.8,358M55.5,366.9 132.2,347.1 209,351.6 285.8,349.9M55.5,366.9 132.2,351.4 209,359 285.8,353.5M55.5,366.9 132.2,356.6 209,360.6 285.8,354.7M55.5,366.9 132.2,352.8 209,359.5 285.8,358.9M55.5,366.9 132.2,361.1 209,362.2 285.8,359.7M55.5,366.9 132.2,353.9 209,355.9 285.8,352.4M55.5,366.9 132.2,349.3 209,352.9 285.8,354M55.5,366.9 132.2,355.4 209,352.4 285.8,356.4M55.5,366.9 132.2,355.6 209,360.6 285.8,350.6M55.5,366.9 132.2,355.2 209,351.7 285.8,351.4M55.5,366.9 132.2,354.5 209,363.6 285.8,361.2M55.5,366.9 132.2,351.7 209,354.7 285.8,349.4M55.5,366.9 132.2,356 209,360.6 285.8,358.8M55.5,366.9 132.2,356.7 209,353.4 285.8,354.7M55.5,366.9 132.2,358.6 209,359.2 285.8,349M55.5,366.9 132.2,362.7 209,363.5 285.8,352.1M55.5,366.9 132.2,351 209,359.5 285.8,353.5M55.5,366.9 132.2,352.9 209,354.5 285.8,361.7M55.5,366.9 132.2,344.2 209,357.1 285.8,354.3M55.5,366.9 132.2,353 209,354.9 285.8,356M55.5,366.9 132.2,345.1 209,365.1 285.8,357.3M55.5,366.9 132.2,355.4 209,361.8 285.8,364.7M55.5,366.9 132.2,360.5 209,349.6 285.8,357.3M55.5,366.9 132.2,352.7 209,357.4 285.8,351.5M55.5,366.9 132.2,361.6 209,360.8 285.8,364.3M55.5,366.9 132.2,349 209,363.5 285.8,359.3M55.5,366.9 132.2,363.5 209,355.9 285.8,356.4M55.5,366.9 132.2,352.9 209,351.9 285.8,353.5M55.5,366.9 132.2,361.9 209,363.8 285.8,361M55.5,366.9 132.2,357.6 209,361.9 285.8,362.9M55.5,366.9 132.2,354.1 209,357.2 285.8,358M55.5,366.9 132.2,351.7 209,356.4 285.8,349.3M55.5,366.9 132.2,360.3 209,365.1 285.8,357.2M55.5,366.9 132.2,343.3 209,357.4 285.8,352.7M55.5,366.9 132.2,355.5 209,358.5 285.8,355M55.5,366.9 132.2,346.8 209,352.2 285.8,350.6" stroke="#0000ff" stroke-opacity="0.05" stroke-width="0.75"/>
<path d="M55.5,366.9 132.2,363.4 209,364.3 285.8,363.9M55.5,366.9 132.2,365.5 209,363.4 285.8,361.2M55.5,366.9 132.2,361.4 209,360.8 285.8,363.5M55.5,366.9 132.2,361.7 209,367.5 285.8,364.7M55.5,366.9 132.2,363.7 209,363.3 285.8,364.7M55.5,366.9 132.2,366.9 209,368 285.8,371.3M55.5,366.9 132.2,358.4 209,370.5 285.8,363.2M55.5,366.9 132.2,360 209,363.8 285.8,368.2M55.5,366.9 132.2,356.9 209,365.9 285.8,368.5M55.5,366.9 132.2,364 209,366.9 285.8,369.5M55.5,366.9 132.2,357.9 209,360 285.8,359.4M55.5,366.9 132.2,354.2 209,374.1 285.8,360.6M55.5,366.9 132.2,361.6 209,363.8 285.8,361.4M55.5,366.9 132.2,354.4 209,361.3 285.8,365.1M55.5,366.9 132.2,357.2 209,366.3 285.8,363.8M55.5,366.9 132.2,358.3 209,362.6 285.8,359.8M55.5,366.9 132.2,363.1 209,369.3 285.8,361.1M55.5,366.9 132.2,361.5 209,361.7 285.8,359.5M55.5,366.9 132.2,366.7 209,371.1 285.8,363.9M55.5,366.9 132.2,365.5 209,367.7 285.8,372.5M55.5,366.9 132.2,363 209,366.3 285.8,366.7M55.5,366.9 132.2,358 209,365.8 285.8,362M55.5,366.9 132.2,356.9 209,360.2 285.8,360.1M55.5,366.9 132.2,358.1 209,369.8 285.8,364.9M55.5,366.9 132.2,369.6 209,364.9 285.8,368.8M55.5,366.9 132.2,365 209,368.2 285.8,366.3M55.5,366.9 132.2,363.4 209,369.4 285.8,363.6M55.5,366.9 132.2,362.1 209,358.3 285.8,367M55.5,366.9 132.2,363.8 209,373.9 285.8,359M55.5,366.9 132.2,364.4 209,369.3 285.8,369.3M55.5,366.9 132.2,356.7 209,361.6 285.8,363M55.5,366.9 132.2,360.3 209,365.3 285.8,372.1M55.5,366.9 132.2,356.8 209,372 285.8,361.3M55.5,366.9 132.2,359.6 209,374 285.8,369.2M55.5,366.9 132.2,361.9 209,368.5 285.8,363.8M55.5,366.9 132.2,366.5 209,370.9 285.8,372.3M55.5,366.9 132.2,362.3 209,369.7 285.8,368.7M55.5,366.9 132.2,360 209,357.5 285.8,360.6M55.5,366.9 132.2,356.6 209,369.5 285.8,357.6M55.5,366.9 132.2,359 209,361.4 285.8,365.8M55.5,366.9 132.2,352 209,372.1 285.8,363.5M55.5,366.9 132.2,358.5 209,365.6 285.8,371.8M55.5,366.9 132.2,359.6 209,356.1 285.8,361M55.5,366.9 132.2,359.6 209,360.1 285.8,356.4M55.5,366.9 132.2,355.1 209,359.6 285.8,363.4M55.5,366.9 132.2,365.1 209,371.8 285.8,369.1M55.5,366.9 132.2,356.3 209,372.2 285.8,359.1M55.5,366.9 132.2,354.1 209,362.6 285.8,363.6M55.5,366.9 132.2,361.9 209,369.7 285.8,365.9M55.5,366.9 132.2,353.2 209,369.1 285.8,367.9M55.5,366.9 132.2,369.8 209,367.6 285.8,366.2M55.5,366.9 132.2,361.6 209,360.5 285.8,366.7M55.5,366.9 132.2,353.6 209,362.5 285.8,355.6M55.5,366.9 132.2,362.1 209,373.2 285.8,367.9M55.5,366.9 132.2,361.2 209,365.1 285.8,372M55.5,366.9 132.2,361.2 209,359.6 285.8,366.9M55.5,366.9 132.2,364.7 209,370.8 285.8,373.1M55.5,366.9 132.2,353.9 209,360.9 285.8,359.6M55.5,366.9 132.2,357.2 209,363.3 285.8,369.4M55.5,366.9 132.2,365.7 209,373.3 285.8,367.5M55.5,366.9 132.2,357.8 209,363.3 285.8,368.8M55.5,366.9 132.2,356.8 209,364.4 285.8,369.8M55.5,366.9 132.2,365.2 209,368.1 285.8,365.7M55.5,366.9 132.2,354.9 209,367.7 285.8,356.5M55.5,366.9 132.2,362.2 209,363.8 285.8,360.3M55.5,366.9 132.2,356.4 209,364.8 285.8,358.7M55.5,366.9 132.2,363.7 209,363.4 285.8,361.5M55.5,366.9 132.2,364.7 209,368.8 285.8,366.4M55.5,366.9 132.2,366.5 209,364.2 285.8,367.5M55.5,366.9 132.2,355.7 209,362.2 285.8,365.4M55.5,366.9 132.2,359.6 209,369.5 285.8,366.9M55.5,366.9 132.2,361.1 209,363.3 285.8,355.2M55.5,366.9 132.2,359.3 209,361.4 285.8,361.3M55.5,366.9 132.2,358.9 209,368.1 285.8,356.4M55.5,366.9 132.2,357 209,364.2 285.8,359.7M55.5,366.9 132.2,361.4 209,363 285.8,361.8M55.5,366.9 132.2,355.9 209,365 285.8,361.8M55.5,366.9 132.2,362.8 209,366.6 285.8,365.2M55.5,366.9 132.2,360.7 209,363.8 285.8,365.2M55.5,366.9 132.2,360.4 209,370 285.8,364.9M55.5,366.9 132.2,352 209,361.3 285.8,360.5M55.5,366.9 132.2,362.2 209,360.9 285.8,370.7M55.5,366.9 132.2,365 209,370 285.8,366.2M55.5,366.9 132.2,358.6 209,362.7 285.8,366.1M55.5,366.9 132.2,361.9 209,371.9 285.8,372.4M55.5,366.9 132.2,355.2 209,359.6 285.8,364.1M55.5,366.9 132.2,367.8 209,366.1 285.8,360.8M55.5,366.9 132.2,366.3 209,370 285.8,363.8M55.5,366.9 132.2,356.9 209,363 285.8,356.4M55.5,366.9 132.2,361.3 209,366.6 285.8,366.3M55.5,366.9 132.2,368.8 209,368.9 285.8,355.8M55.5,366.9 132.2,354.6 209,357.2 285.8,357.9M55.5,366.9 132.2,357.6 209,361.4 285.8,358.8M55.5,366.9 132.2,361.6 209,359 285.8,364.4M55.5,366.9 132.2,362.3 209,362.4 285.8,365.4M55.5,366.9 132.2,361.2 209,358.7 285.8,364.9M55.5,366.9 132.2,359.8 209,367.9 285.8,361.3M55.5,366.9 132.2,368.2 209,369.4 285.8,366.6M55.5,366.9 132.2,358.2 209,360.5 285.8,360.4M55.5,366.9 132.2,353 209,358.5 285.8,365.2M55.5,366.9 132.2,361.7 209,370.6 285.8,359.7M55.5,366.9 132.2,357.4 209,360.5 285.8,362M55.5,366.9 132.2,364.5 209,371.8 285.8,367.8M55.5,366.9 132.2,357.3 209,366.3 285.8,359.9M55.5,366.9 132.2,354.9 209,359.9 285.8,365.4M55.5,366.9 132.2,355.8 209,361 285.8,359M55.5,366.9 132.2,352.4 209,368.5 285.8,361M55.5,366.9 132.2,368 209,369.7 285.8,369.3M55.5,366.9 132.2,367.3 209,360.1 285.8,362.4M55.5,366.9 132.2,353.8 209,363.7 285.8,363.6M55.5,366.9 132.2,364 209,368.1 285.8,366.9M55.5,366.9 132.2,358.4 209,366.7 285.8,367.9M55.5,366.9 132.2,367.6 209,369.1 285.8,361M55.5,366.9 132.2,357.3 209,357.2 285.8,361.3M55.5,366.9 132.2,367.4 209,367.9 285.8,369.5M55.5,366.9 132.2,356.8 209,363.1 285.8,360.3M55.5,366.9 132.2,357.3 209,359.2 285.8,360.6M55.5,366.9 132.2,359.2 209,366.4 285.8,365.6M55.5,366.9 132.2,364.3 209,364.2 285.8,355.3M55.5,366.9 132.2,364.9 209,371.1 285.8,364.9M55.5,366.9 132.2,359 209,371.3 285.8,365.7M55.5,366.9 132.2,365.2 209,368.6 285.8,369.2M55.5,366.9 132.2,360.5 209,367.8 285.8,364.2M55.5,366.9 132.2,359.4 209,357.7 285.8,362.8M55.5,366.9 132.2,357.3 209,368.6 285.8,365.9M55.5,366.9 132.2,362.4 209,363.7 285.8,367.7M55.5,366.9 132.2,359.9 209,359.4 285.8,365.2M55.5,366.9 132.2,356.8 209,355.6 285.8,363.1M55.5,366.9 132.2,363.9 209,362.7 285.8,362.5M55.5,366.9 132.2,361.7 209,371.7 285.8,368.5M55.5,366.9 132.2,361.6 209,366.9 285.8,361.7M55.5,366.9 132.2,358.7 209,368.8 285.8,369.3M55.5,366.9 132.2,354.2 209,361.8 285.8,360.4M55.5,366.9 132.2,357 209,363.6 285.8,368M55.5,366.9 132.2,363.5 209,365.2 285.8,365.8M55.5,366.9 132.2,354.5 209,358.6 285.8,356.3M55.5,366.9 132.2,360.4 209,361.4 285.8,362.8M55.5,366.9 132.2,366.2 209,360.5 285.8,357.9M55.5,366.9 132.2,357.7 209,367.2 285.8,363.2M55.5,366.9 132.2,352.8 209,359.7 285.8,363.5M55.5,366.9 132.2,362 209,364 285.8,364.9M55.5,366.9 132.2,361.4 209,370.2 285.8,364.1M55.5,366.9 132.2,363.6 209,367 285.8,369.5M55.5,366.9 132.2,364.9 209,365.7 285.8,370.2M55.5,366.9 132.2,356.1 209,361.4 285.8,356.1M55.5,366.9 132.2,356.5 209,366.7 285.8,364.2M55.5,366.9 132.2,366.3 209,365.8 285.8,368.2M55.5,366.9 132.2,355.1 209,370 285.8,365.1M55.5,366.9 132.2,361.9 209,359 285.8,356.9M55.5,366.9 132.2,349.9 209,362 285.8,355.5M55.5,366.9 132.2,361.2 209,368.9 285.8,372.4M55.5,366.9 132.2,355.7 209,369 285.8,368.1M55.5,366.9 132.2,354.4 209,365.1 285.8,359.8M55.5,366.9 132.2,365.6 209,370.8 285.8,367.3M55.5,366.9 132.2,354.5 209,364.1 285.8,358.9M55.5,366.9 132.2,363.4 209,369.8 285.8,370.5M55.5,366.9 132.2,359.5 209,369.6 285.8,365.6M55.5,366.9 132.2,365.7 209,367.2 285.8,368.2M55.5,366.9 132.2,354.6 209,361.7 285.8,359.5M55.5,366.9 132.2,364.3 209,367.2 285.8,369.8M55.5,366.9 132.2,365.3 209,374.5 285.8,369.4M55.5,366.9 132.2,367.9 209,371.4 285.8,368.3M55.5,366.9 132.2,366.4 209,368.4 285.8,371.2M55.5,366.9 132.2,367.3 209,370.6 285.8,369.1M55.5,366.9 132.2,356.5 209,363.1 285.8,357.9M55.5,366.9 132.2,356.1 209,368.2 285.8,360.3M55.5,366.9 132.2,359.2 209,364.2 285.8,371.3M55.5,366.9 132.2,355.5 209,359.6 285.8,364.5M55.5,366.9 132.2,353.8 209,361.6 285.8,363.2M55.5,366.9 132.2,355.3 209,364.6 285.8,357.7M55.5,366.9 132.2,363 209,365.5 285.8,357.9M55.5,366.9 132.2,357.9 209,360.9 285.8,363.4M55.5,366.9 132.2,354.3 209,363.9 285.8,361.2M55.5,366.9 132.2,362.6 209,365.2 285.8,369.3M55.5,366.9 132.2,362.8 209,368 285.8,361.7M55.5,366.9 132.2,366 209,370.9 285.8,359.5M55.5,366.9 132.2,360.6 209,363.3 285.8,361.4M55.5,366.9 132.2,354.7 209,361.5 285.8,362.9M55.5,366.9 132.2,356.8 209,360.1 285.8,361.1M55.5,366.9 132.2,362.8 209,361.7 285.8,368.4M55.5,366.9 132.2,358.7 209,370.7 285.8,366.2M55.5,366.9 132.2,358.4 209,364.1 285.8,360.9M55.5,366.9 132.2,358.4 209,361.1 285.8,372.2M55.5,366.9 132.2,361.8 209,361.2 285.8,372.9M55.5,366.9 132.2,358.8 209,364.3 285.8,363.3M55.5,366.9 132.2,363 209,368.6 285.8,362.2M55.5,366.9 132.2,365.9 209,367.5 285.8,360.8M55.5,366.9 132.2,356.2 209,362 285.8,362.9M55.5,366.9 132.2,360 209,357.5 285.8,359.4M55.5,366.9 132.2,357 209,370.9 285.8,358.1M55.5,366.9 132.2,354.1 209,362.7 285.8,361.7M55.5,366.9 132.2,369.3 209,364.6 285.8,365.6M55.5,366.9 132.2,361.7 209,358.2 285.8,363.1M55.5,366.9 132.2,353.6 209,362.3 285.8,360.9M55.5,366.9 132.2,368.3 209,366.4 285.8,362.6M55.5,366.9 132.2,360.1 209,369.8 285.8,370.5M55.5,366.9 132.2,360.7 209,363.1 285.8,366M55.5,366.9 132.2,364 209,362.4 285.8,369.6M55.5,366.9 132.2,359.1 209,366.3 285.8,365.9M55.5,366.9 132.2,368.3 209,372.9 285.8,366.2M55.5,366.9 132.2,356 209,364.6 285.8,358.5M55.5,366.9 132.2,362.4 209,368.9 285.8,367.3M55.5,366.9 132.2,365.8 209,361.1 285.8,360M55.5,366.9 132.2,365.3 209,374.8 285.8,367.9M55.5,366.9 132.2,355.9 209,366.9 285.8,364.9M55.5,366.9 132.2,353.5 209,359.9 285.8,362.2M55.5,366.9 132.2,357.2 209,373.5 285.8,369M55.5,366.9 132.2,361.7 209,363 285.8,359.2M55.5,366.9 132.2,360.9 209,358.5 285.8,362.6M55.5,366.9 132.2,356.1 209,359 285.8,356.9M55.5,366.9 132.2,358 209,366.7 285.8,365.4M55.5,366.9 132.2,364.4 209,368.5 285.8,367.4M55.5,366.9 132.2,362.9 209,357.5 285.8,364.6M55.5,366.9 132.2,357.8 209,369 285.8,362.9M55.5,366.9 132.2,365 209,361.1 285.8,368.4M55.5,366.9 132.2,362 209,363.3 285.8,357.9M55.5,366.9 132.2,366.5 209,366.1 285.8,370.5M55.5,366.9 132.2,352.8 209,366.2 285.8,363.1M55.5,366.9 132.2,361.6 209,366 285.8,361.3M55.5,366.9 132.2,361.8 209,357.7 285.8,354.1M55.5,366.9 132.2,358.8 209,361.1 285.8,369.8M55.5,366.9 132.2,358.4 209,370.1 285.8,365M55.5,366.9 132.2,362.4 209,366.4 285.8,360.3M55.5,366.9 132.2,351.7 209,365 285.8,367.9M55.5,366.9 132.2,359.6 209,368 285.8,370.6M55.5,366.9 132.2,357.1 209,358.8 285.8,358.1M55.5,366.9 132.2,367.1 209,371.1 285.8,370.3M55.5,366.9 132.2,354.9 209,363.9 285.8,365.1M55.5,366.9 132.2,362.9 209,371.2 285.8,370.4M55.5,366.9 132.2,352.7 209,362.4 285.8,359.8M55.5,366.9 132.2,358.9 209,362 285.8,360.8M55.5,366.9 132.2,361.2 209,368.6 285.8,361.6M55.5,366.9 132.2,359 209,366.2 285.8,357.8M55.5,366.9 132.2,348.1 209,365.9 285.8,356.7M55.5,366.9 132.2,367.9 209,372.9 285.8,364.6M55.5,366.9 132.2,361.8 209,363.3 285.8,364.4M55.5,366.9 132.2,364.1 209,363.1 285.8,366.3M55.5,366.9 132.2,360.9 209,368.7 285.8,365.4M55.5,366.9 132.2,357 209,364.9 285.8,368.5M55.5,366.9 132.2,364.1 209,360.8 285.8,370.7M55.5,366.9 132.2,362.1 209,366.5 285.8,367.5M55.5,366.9 132.2,356.4 209,365.5 285.8,359M55.5,366.9 132.2,367.9 209,370.4 285.8,367.7M55.5,366.9 132.2,352.7 209,358.4 285.8,356.7M55.5,366.9 132.2,364.6 209,364.6 285.8,363M55.5,366.9 132.2,357.1 209,356.6 285.8,364.6M55.5,366.9 132.2,363 209,368.6 285.8,368.4M55.5,366.9 132.2,365 209,369.8 285.8,367.3M55.5,366.9 132.2,364 209,367.2 285.8,363.6M55.5,366.9 132.2,363 209,368.8 285.8,362.4M55.5,366.9 132.2,356.4 209,363.2 285.8,368.1M55.5,366.9 132.2,364.5 209,366.2 285.8,369.4M55.5,366.9 132.2,361.6 209,369.1 285.8,370.1M55.5,366.9 132.2,367.2 209,363.4 285.8,358.7M55.5,366.9 132.2,368.8 209,366.2 285.8,353.3M55.5,366.9 132.2,359 209,366.7 285.8,369.9M55.5,366.9 132.2,355.1 209,365.7 285.8,356.6M55.5,366.9 132.2,358.6 209,361.2 285.8,363.1M55.5,366.9 132.2,360.7 209,363.3 285.8,364.6M55.5,366.9 132.2,362.9 209,372.8 285.8,371.2" stroke="#0000ff" stroke-opacity="0.14" stroke-width="0.75"/>
<path d="M55.5,366.9 132.2,347.5 209,387.9 285.8,381M55.5,366.9 132.2,350.5 209,380 285.8,382.8M55.5,366.9 132.2,340.7 209,376.8 285.8,365.5M55.5,366.9 132.2,346.1 209,387.1 285.8,369.5M55.5,366.9 132.2,342.1 209,377.7 285.8,362.8M55.5,366.9 132.2,346.5 209,387.3 285.8,365.3M55.5,366.9 132.2,347.7 209,386.9 285.8,383M55.5,366.9 132.2,346.7 209,383.9 285.8,367.3" stroke="#ff0000" stroke-opacity="0.08" stroke-width="0.75"/>
<path d="M55.5,366.9 132.2,368 209,381.9 285.8,389.7M55.5,366.9 132.2,363.1 209,391.7 285.8,394.9M55.5,366.9 132.2,366.7 209,389.6 285.8,370M55.5,366.9 132.2,374.8 209,396.1 285.8,390.7M55.5,366.9 132.2,374.4 209,387.4 285.8,377.7M55.5,366.9 132.2,362 209,375.8 285.8,375.4M55.5,366.9 132.2,373 209,394.7 285.8,392M55.5,366.9 132.2,362.7 209,382.8 285.8,371.6M55.5,366.9 132.2,368.4 209,395.2 285.8,382.2M55.5,366.9 132.2,366.5 209,393.4 285.8,384.4M55.5,366.9 132.2,376 209,389.2 285.8,384.6M55.5,366.9 132.2,369 209,391.9 285.8,387.3M55.5,366.9 132.2,360.3 209,374.1 285.8,382.9M55.5,366.9 132.2,362.8 209,382.1 285.8,381.4M55.5,366.9 132.2,365.7 209,374.5 285.8,374M55.5,366.9 132.2,367.1 209,394.8 285.8,387.8M55.5,366.9 132.2,365.6 209,375.1 285.8,369M55.5,366.9 132.2,363.1 209,379.8 285.8,373.9M55.5,366.9 132.2,370.4 209,378.7 285.8,382.7M55.5,366.9 132.2,372.1 209,382.9 285.8,387.1M55.5,366.9 132.2,365.9 209,384.5 285.8,371.4M55.5,366.9 132.2,366.2 209,389.2 285.8,378.6M55.5,366.9 132.2,367.6 209,387 285.8,376.6M55.5,366.9 132.2,364.8 209,371.6 285.8,381.2M55.5,366.9 132.2,375.1 209,373.6 285.8,385.9M55.5,366.9 132.2,359.8 209,372 285.8,368.8M55.5,366.9 132.2,359.2 209,370.5 285.8,375.9M55.5,366.9 132.2,361.9 209,388.4 285.8,371.6M55.5,366.9 132.2,374.6 209,382.3 285.8,385.8M55.5,366.9 132.2,356.7 209,375.6 285.8,374M55.5,366.9 132.2,369.2 209,371.9 285.8,370.2M55.5,366.9 132.2,377.9 209,378.6 285.8,381.4M55.5,366.9 132.2,369 209,385.6 285.8,377.7M55.5,366.9 132.2,365.1 209,370.9 285.8,371.9M55.5,366.9 132.2,364.2 209,383.4 285.8,370.8M55.5,366.9 132.2,375.5 209,396.8 285.8,391.2M55.5,366.9 132.2,366.3 209,393.9 285.8,382.1M55.5,366.9 132.2,371.5 209,394.7 285.8,381.2M55.5,366.9 132.2,366.4 209,393.2 285.8,375.7M55.5,366.9 132.2,364.6 209,371.3 285.8,375.2M55.5,366.9 132.2,363.1 209,383.5 285.8,377.1M55.5,366.9 132.2,370.2 209,387.8 285.8,385.4M55.5,366.9 132.2,367.8 209,394.3 285.8,390M55.5,366.9 132.2,368.6 209,370.7 285.8,373.3M55.5,366.9 132.2,367.7 209,373.5 285.8,381.5M55.5,366.9 132.2,369.4 209,386 285.8,379.3M55.5,366.9 132.2,359.8 209,372.5 285.8,382.3M55.5,366.9 132.2,371.5 209,384.4 285.8,373M55.5,366.9 132.2,363.1 209,375.3 285.8,372.6M55.5,366.9 132.2,362.2 209,375.4 285.8,377M55.5,366.9 132.2,366.8 209,392.8 285.8,384.9M55.5,366.9 132.2,364.7 209,372.1 285.8,377.7M55.5,366.9 132.2,373.9 209,389.1 285.8,388.5M55.5,366.9 132.2,361.5 209,376 285.8,371M55.5,366.9 132.2,369 209,381.1 285.8,392.3M55.5,366.9 132.2,368.4 209,389.8 285.8,375.7M55.5,366.9 132.2,366.8 209,379.1 285.8,379.1M55.5,366.9 132.2,362 209,376.3 285.8,375.6M55.5,366.9 132.2,369.5 209,385.8 285.8,383.9M55.5,366.9 132.2,361.5 209,375.6 285.8,373.3M55.5,366.9 132.2,360.4 209,377 285.8,379.7M55.5,366.9 132.2,367.1 209,377.8 285.8,370.5M55.5,366.9 132.2,360 209,378 285.8,377.8M55.5,366.9 132.2,364.1 209,375.3 285.8,370.4M55.5,366.9 132.2,358.5 209,368.2 285.8,370M55.5,366.9 132.2,371.7 209,383.7 285.8,388M55.5,366.9 132.2,365.2 209,377.3 285.8,374.8M55.5,366.9 132.2,369.8 209,389.8 285.8,381.9M55.5,366.9 132.2,375.7 209,388 285.8,392.4M55.5,366.9 132.2,371.4 209,380.5 285.8,369.3M55.5,366.9 132.2,374.6 209,393.6 285.8,388.3M55.5,366.9 132.2,373.9 209,384 285.8,387.8M55.5,366.9 132.2,362 209,375.7 285.8,374.3M55.5,366.9 132.2,361.6 209,389.1 285.8,374.7M55.5,366.9 132.2,371.1 209,396.8 285.8,390.6M55.5,366.9 132.2,372.4 209,389.5 285.8,391.9M55.5,366.9 132.2,370 209,372.3 285.8,380.9M55.5,366.9 132.2,363 209,387.3 285.8,369.6M55.5,366.9 132.2,377.1 209,389.8 285.8,391.6M55.5,366.9 132.2,364.1 209,383.2 285.8,390.1" stroke="#0000ff" stroke-opacity="0.08" stroke-width="0.75"/>
<path d="M55.5,366.9 132.2,374 209,391.6 285.8,422.4" stroke="#0000ff" stroke-opacity="0.12" stroke-width="0.75"/>
<path d="M55.5,366.9 132.2,319.2 209,318.5 285.8,296.5M55.5,366.9 132.2,313.6 209,289.1 285.8,293.3M55.5,366.9 132.2,313.4 209,292.6 285.8,290.9M55.5,366.9 132.2,322.3 209,315.6 285.8,300.1M55.5,366.9 132.2,313.8 209,307.1 285.8,295.4M55.5,366.9 132.2,312.8 209,292.3 285.8,293.1M55.5,366.9 132.2,320.9 209,291.4 285.8,289.3M55.5,366.9 132.2,320 209,317.9 285.8,312.9M55.5,366.9 132.2,319.7 209,304.6 285.8,298.3M55.5,366.9 132.2,323.2 209,311.4 285.8,294.3M55.5,366.9 132.2,315 209,292.8 285.8,302.8" stroke="#00ff00" stroke-opacity="0.11" stroke-width="0.75"/>
<path d="M55.5,366.9 132.2,317.4 209,266.2 285.8,269.7" stroke="#00ff00" stroke-opacity="0.15" stroke-width="0.75"/>
<path d="M55.5,366.9 132.2,315.6 209,294.4 285.8,286.3" stroke="#00ff00" stroke-opacity="0.15" stroke-width="0.75"/>
<path d="M55.5,366.9 132.2,287.5 209,314.6 285.8,308.1M55.5,366.9 132.2,289 209,316.6 285.8,317.1M55.5,366.9 132.2,301.9 209,327.1 285.8,321.8M55.5,366.9 132.2,302 209,331 285.8,320.5M55.5,366.9 132.2,287.9 209,317.6 285.8,320.5M55.5,366.9 132.2,292.7 209,315.5 285.8,304.9M55.5,366.9 132.2,318 209,329.4 285.8,318.4M55.5,366.9 132.2,274.9 209,306.1 285.8,314.5M55.5,366.9 132.2,295.9 209,306.3 285.8,311.2M55.5,366.9 132.2,314.4 209,308.6 285.8,322.6M55.5,366.9 132.2,296.4 209,326.6 285.8,318.3M55.5,366.9 132.2,316.1 209,326.3 285.8,326M55.5,366.9 132.2,296.7 209,328 285.8,321.2M55.5,366.9 132.2,305.6 209,306.2 285.8,312.4M55.5,366.9 132.2,289.7 209,332.5 285.8,320.4M55.5,366.9 132.2,301.8 209,324.2 285.8,318M55.5,366.9 132.2,290.8 209,319.6 285.8,306M55.5,366.9 132.2,285.6 209,317 285.8,317.9M55.5,366.9 132.2,278.7 209,314.1 285.8,312.1M55.5,366.9 132.2,300.4 209,319 285.8,311.4M55.5,366.9 132.2,280 209,308.7 285.8,312.9M55.5,366.9 132.2,300 209,316.8 285.8,315.1M55.5,366.9 132.2,311.8 209,324.2 285.8,311.2M55.5,366.9 132.2,304.3 209,324.5 285.8,306.7M55.5,366.9 132.2,315.8 209,317.8 285.8,307.2M55.5,366.9 132.2,295.4 209,333.2 285.8,317.3M55.5,366.9 132.2,303.2 209,329.2 285.8,318.9M55.5,366.9 132.2,314.8 209,329.5 285.8,329.6M55.5,366.9 132.2,283.2 209,317.9 285.8,311.3M55.5,366.9 132.2,277.8 209,323.3 285.8,322.9M55.5,366.9 132.2,309.1 209,337 285.8,326.1M55.5,366.9 132.2,280.1 209,317.4 285.8,312.9M55.5,366.9 132.2,281.6 209,300.7 285.8,310.7M55.5,366.9 132.2,286.3 209,313.8 285.8,306.4M55.5,366.9 132.2,296.8 209,320.8 285.8,316.4" stroke="#ff00ff" stroke-opacity="0.09" stroke-width="0.75"/>
</g>
<rect x="46.5" y="217.2" width="248.0" height="229.2" fill="none" stroke="#000" stroke-width="1"/>
<path d="M181.8 446.4H294.5V384" fill="none" stroke="#33f" stroke-width="1" stroke-dasharray="1.3 1.3"/>
<path d="M39.50 437.60L46.50 437.60" stroke="#000" stroke-width="1"/>
<text x="30.60" y="437.60" font-size="10.4" text-anchor="middle" transform="rotate(-90 30.6 437.6)">−2</text>
<path d="M39.50 402.25L46.50 402.25" stroke="#000" stroke-width="1"/>
<text x="30.60" y="402.25" font-size="10.4" text-anchor="middle" transform="rotate(-90 30.6 402.2)">−1</text>
<path d="M39.50 366.90L46.50 366.90" stroke="#000" stroke-width="1"/>
<text x="30.60" y="366.90" font-size="10.4" text-anchor="middle" transform="rotate(-90 30.6 366.9)">0</text>
<path d="M39.50 331.55L46.50 331.55" stroke="#000" stroke-width="1"/>
<text x="30.60" y="331.55" font-size="10.4" text-anchor="middle" transform="rotate(-90 30.6 331.5)">1</text>
<path d="M39.50 296.20L46.50 296.20" stroke="#000" stroke-width="1"/>
<text x="30.60" y="296.20" font-size="10.4" text-anchor="middle" transform="rotate(-90 30.6 296.2)">2</text>
<path d="M39.50 260.85L46.50 260.85" stroke="#000" stroke-width="1"/>
<text x="30.60" y="260.85" font-size="10.4" text-anchor="middle" transform="rotate(-90 30.6 260.8)">3</text>
<path d="M39.50 225.50L46.50 225.50" stroke="#000" stroke-width="1"/>
<text x="30.60" y="225.50" font-size="10.4" text-anchor="middle" transform="rotate(-90 30.6 225.5)">4</text>
<path d="M55.50 446.40L55.50 448.80" stroke="#000" stroke-width="1"/>
<text x="55.50" y="466.30" font-size="9.2" text-anchor="middle" fill="#222" textLength="6.4" lengthAdjust="spacingAndGlyphs">H</text>
<path d="M132.20 446.40L132.20 448.80" stroke="#000" stroke-width="1"/>
<text x="132.20" y="466.30" font-size="9.2" text-anchor="middle" fill="#222" textLength="6.4" lengthAdjust="spacingAndGlyphs">N</text>
<path d="M209.00 446.40L209.00 448.80" stroke="#000" stroke-width="1"/>
<text x="209.00" y="466.30" font-size="9.2" text-anchor="middle" fill="#222" textLength="14.3" lengthAdjust="spacingAndGlyphs">EC</text>
<path d="M285.80 446.40L285.80 448.80" stroke="#000" stroke-width="1"/>
<text x="285.80" y="466.30" font-size="9.2" text-anchor="middle" fill="#222" textLength="12.9" lengthAdjust="spacingAndGlyphs">LC</text>
<text x="170.40" y="488.40" font-size="10" text-anchor="middle" fill="#222" textLength="27.6" lengthAdjust="spacingAndGlyphs">Stage</text>
<text x="8.70" y="328.00" font-size="10.5" text-anchor="middle" transform="rotate(-90 8.7 328)" textLength="144">Log2 (relative expression ratio)</text>
<text x="3.20" y="521.60" font-size="16" font-weight="bold" textLength="10.2" lengthAdjust="spacingAndGlyphs">D</text>
<text x="405.30" y="509.00" font-size="8.2" text-anchor="middle" font-weight="bold">Red</text>
<rect x="347" y="511.6" width="80.7" height="8.1" fill="#bebebe" stroke="#000" stroke-width="0.9"/>
<text x="337.50" y="519.10" font-size="10.4" text-anchor="end">regulation of cell adhesion</text>
<rect x="347" y="521.2" width="80.7" height="8.3" fill="#bebebe" stroke="#000" stroke-width="0.9"/>
<text x="337.50" y="528.90" font-size="10.4" text-anchor="end">dendritic spine development</text>
<rect x="347" y="531.2" width="109.7" height="8.3" fill="#bebebe" stroke="#000" stroke-width="0.9"/>
<text x="337.50" y="538.90" font-size="10.4" text-anchor="end">cell adhesion</text>
<rect x="347" y="540.9" width="118.0" height="8.3" fill="#bebebe" stroke="#000" stroke-width="0.9"/>
<text x="337.50" y="548.60" font-size="10.4" text-anchor="end">biological adhesion</text>
<path d="M347.40 550.80L463.40 550.80" stroke="#000" stroke-width="1"/>
<path d="M347.40 550.80L347.40 554.30" stroke="#000" stroke-width="1"/>
<text x="347.40" y="565.80" font-size="5.8" text-anchor="middle" font-weight="bold">0</text>
<path d="M370.50 550.80L370.50 554.30" stroke="#000" stroke-width="1"/>
<text x="370.50" y="565.80" font-size="5.8" text-anchor="middle" font-weight="bold">1</text>
<path d="M393.60 550.80L393.60 554.30" stroke="#000" stroke-width="1"/>
<text x="393.60" y="565.80" font-size="5.8" text-anchor="middle" font-weight="bold">2</text>
<path d="M416.80 550.80L416.80 554.30" stroke="#000" stroke-width="1"/>
<text x="416.80" y="565.80" font-size="5.8" text-anchor="middle" font-weight="bold">3</text>
<path d="M440.30 550.80L440.30 554.30" stroke="#000" stroke-width="1"/>
<text x="440.30" y="565.80" font-size="5.8" text-anchor="middle" font-weight="bold">4</text>
<path d="M463.40 550.80L463.40 554.30" stroke="#000" stroke-width="1"/>
<text x="463.40" y="565.80" font-size="5.8" text-anchor="middle" font-weight="bold">5</text>
<text x="405.60" y="582.00" font-size="5.4" text-anchor="middle">−log10(FDR)</text>
<text x="405.30" y="592.80" font-size="8.2" text-anchor="middle" font-weight="bold">Grey</text>
<rect x="347" y="594.5" width="108.7" height="9.0" fill="#bebebe" stroke="#000" stroke-width="0.9"/>
<text x="337.50" y="602.90" font-size="10.4" text-anchor="end">immune response</text>
<rect x="347" y="604.5" width="111.8" height="8.3" fill="#bebebe" stroke="#000" stroke-width="0.9"/>
<text x="337.50" y="612.20" font-size="10.4" text-anchor="end">cell chemotaxis</text>
<rect x="347" y="614.3" width="118.0" height="8.5" fill="#bebebe" stroke="#000" stroke-width="0.9"/>
<text x="337.50" y="622.20" font-size="10.4" text-anchor="end">response to external stimulus</text>
<rect x="347" y="624.3" width="117.6" height="8.1" fill="#bebebe" stroke="#000" stroke-width="0.9"/>
<text x="337.50" y="631.80" font-size="10.4" text-anchor="end">response to protozoan</text>
<path d="M347.40 633.60L451.80 633.60" stroke="#000" stroke-width="1"/>
<path d="M347.40 633.60L347.40 637.10" stroke="#000" stroke-width="1"/>
<text x="347.40" y="648.70" font-size="5.8" text-anchor="middle" font-weight="bold">0</text>
<path d="M373.40 633.60L373.40 637.10" stroke="#000" stroke-width="1"/>
<text x="373.40" y="648.70" font-size="5.8" text-anchor="middle" font-weight="bold">1</text>
<path d="M399.40 633.60L399.40 637.10" stroke="#000" stroke-width="1"/>
<text x="399.40" y="648.70" font-size="5.8" text-anchor="middle" font-weight="bold">2</text>
<path d="M425.40 633.60L425.40 637.10" stroke="#000" stroke-width="1"/>
<text x="425.40" y="648.70" font-size="5.8" text-anchor="middle" font-weight="bold">3</text>
<path d="M451.80 633.60L451.80 637.10" stroke="#000" stroke-width="1"/>
<text x="451.80" y="648.70" font-size="5.8" text-anchor="middle" font-weight="bold">4</text>
<text x="405.60" y="665.80" font-size="5.4" text-anchor="middle">−log10(FDR)</text>
<text x="405.30" y="675.70" font-size="8.2" text-anchor="middle" font-weight="bold">Blue</text>
<rect x="347" y="678.3" width="99.6" height="8.1" fill="#bebebe" stroke="#000" stroke-width="0.9"/>
<text x="337.50" y="685.80" font-size="10.4" text-anchor="end">antigen processing and presentation of endogenous antigen</text>
<rect x="347" y="688.3" width="102.5" height="7.9" fill="#bebebe" stroke="#000" stroke-width="0.9"/>
<text x="337.50" y="695.60" font-size="10.4" text-anchor="end">positive regulation of T cell mediated cytotoxicity</text>
<rect x="347" y="698.0" width="107.7" height="7.9" fill="#bebebe" stroke="#000" stroke-width="0.9"/>
<text x="337.50" y="705.30" font-size="10.4" text-anchor="end">antigen processing and presentation of endogenous peptide antigen</text>
<rect x="347" y="707.6" width="118.0" height="8.3" fill="#bebebe" stroke="#000" stroke-width="0.9"/>
<text x="337.50" y="715.30" font-size="10.4" text-anchor="end">antigen processing and presentation of peptide antigen via MHC class I</text>
<path d="M347.40 717.00L441.40 717.00" stroke="#000" stroke-width="1"/>
<path d="M347.40 717.00L347.40 720.50" stroke="#000" stroke-width="1"/>
<text x="347.40" y="732.00" font-size="5.8" text-anchor="middle" font-weight="bold">0</text>
<path d="M370.50 717.00L370.50 720.50" stroke="#000" stroke-width="1"/>
<text x="370.50" y="732.00" font-size="5.8" text-anchor="middle" font-weight="bold">1</text>
<path d="M394.20 717.00L394.20 720.50" stroke="#000" stroke-width="1"/>
<text x="394.20" y="732.00" font-size="5.8" text-anchor="middle" font-weight="bold">2</text>
<path d="M417.70 717.00L417.70 720.50" stroke="#000" stroke-width="1"/>
<text x="417.70" y="732.00" font-size="5.8" text-anchor="middle" font-weight="bold">3</text>
<path d="M441.40 717.00L441.40 720.50" stroke="#000" stroke-width="1"/>
<text x="441.40" y="732.00" font-size="5.8" text-anchor="middle" font-weight="bold">4</text>
<text x="405.60" y="749.00" font-size="5.4" text-anchor="middle">−log10(FDR)</text>
</svg></body></html>
